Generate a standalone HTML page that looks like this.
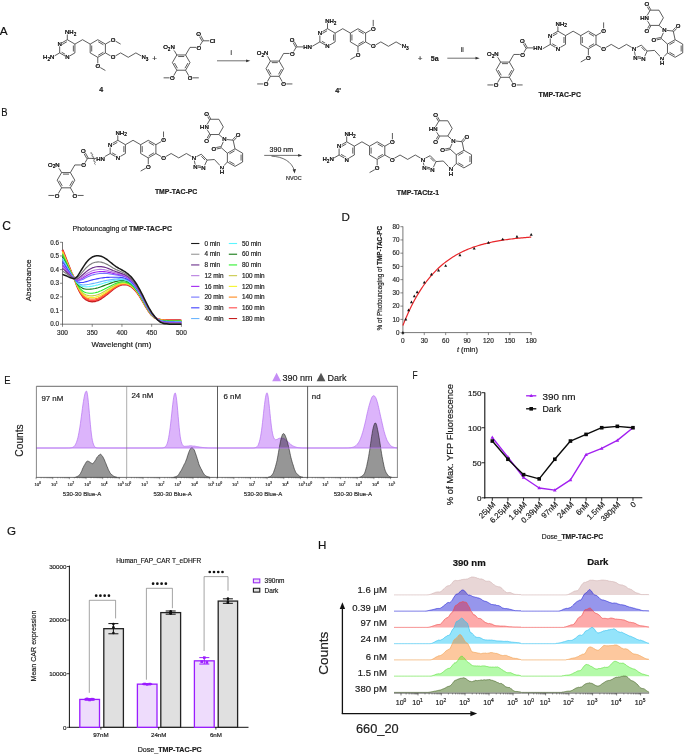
<!DOCTYPE html>
<html><head><meta charset="utf-8"><style>
html,body{margin:0;padding:0;background:#fff;}
svg text:not([stroke]){stroke:#1a1a1a;stroke-width:0.18px;}
svg{display:block;will-change:transform;font-family:"Liberation Sans", sans-serif;}
</style></head><body>
<svg width="685" height="754" viewBox="0 0 685 754">
<rect width="685" height="754" fill="#fff"/>
<text x="3.7" y="34.6" font-size="11.8" text-anchor="middle" font-weight="normal" fill="#111" >A</text>
<text x="0" y="0" font-size="11.8" text-anchor="middle" fill="#111" transform="translate(4.5,116.4) scale(0.8,1)">B</text>
<polygon points="67.3,39.7 74.92,44.1 74.92,52.9 67.3,57.3 59.68,52.9 59.68,44.1" stroke="#333" stroke-width="0.8" fill="none" />
<line x1="61.67" y1="44.74" x2="66.86" y2="41.75" stroke="#333" stroke-width="0.8" />
<line x1="73.37" y1="45.51" x2="73.37" y2="51.49" stroke="#333" stroke-width="0.8" />
<line x1="66.86" y1="55.25" x2="61.67" y2="52.26" stroke="#333" stroke-width="0.8" />
<line x1="67.3" y1="39.7" x2="67.3" y2="32.3" stroke="#333" stroke-width="0.8" />
<text x="65" y="34.3" font-size="6.0" text-anchor="start" fill="#1c1c1c" stroke="#fff" stroke-width="1.5" paint-order="stroke">NH<tspan font-size="4.7" dy="1.4">2</tspan></text>
<text x="65" y="34.3" font-size="6.0" text-anchor="start" fill="#1c1c1c">NH<tspan font-size="4.7" dy="1.4">2</tspan></text>
<text x="59.68" y="46.26" font-size="6.0" text-anchor="middle" fill="#1c1c1c" stroke="#fff" stroke-width="1.5" paint-order="stroke">N</text>
<text x="59.68" y="46.26" font-size="6.0" text-anchor="middle" fill="#1c1c1c">N</text>
<text x="67.3" y="59.46" font-size="6.0" text-anchor="middle" fill="#1c1c1c" stroke="#fff" stroke-width="1.5" paint-order="stroke">N</text>
<text x="67.3" y="59.46" font-size="6.0" text-anchor="middle" fill="#1c1c1c">N</text>
<line x1="59.68" y1="52.9" x2="52.06" y2="57.3" stroke="#333" stroke-width="0.8" />
<text x="54.36" y="59.3" font-size="6.0" text-anchor="end" fill="#1c1c1c" stroke="#fff" stroke-width="1.5" paint-order="stroke">H<tspan font-size="4.7" dy="1.4">2</tspan><tspan dy="-1.4">N</tspan></text>
<text x="54.36" y="59.3" font-size="6.0" text-anchor="end" fill="#1c1c1c">H<tspan font-size="4.7" dy="1.4">2</tspan><tspan dy="-1.4">N</tspan></text>
<line x1="74.92" y1="44.1" x2="82.54" y2="39.7" stroke="#333" stroke-width="0.8" />
<line x1="82.54" y1="39.7" x2="90.16" y2="44.1" stroke="#333" stroke-width="0.8" />
<polygon points="97.78,39.7 105.4,44.1 105.4,52.9 97.78,57.3 90.16,52.9 90.16,44.1" stroke="#333" stroke-width="0.8" fill="none" />
<line x1="91.71" y1="45.51" x2="91.71" y2="51.49" stroke="#333" stroke-width="0.8" />
<line x1="98.22" y1="41.75" x2="103.41" y2="44.74" stroke="#333" stroke-width="0.8" />
<line x1="103.41" y1="52.26" x2="98.22" y2="55.25" stroke="#333" stroke-width="0.8" />
<line x1="105.4" y1="44.1" x2="113.02" y2="39.7" stroke="#333" stroke-width="0.8" />
<line x1="113.02" y1="39.7" x2="120.64" y2="44.1" stroke="#333" stroke-width="0.8" />
<text x="113.02" y="41.86" font-size="6.0" text-anchor="middle" fill="#1c1c1c" stroke="#fff" stroke-width="1.5" paint-order="stroke">O</text>
<text x="113.02" y="41.86" font-size="6.0" text-anchor="middle" fill="#1c1c1c">O</text>
<line x1="105.4" y1="52.9" x2="113.02" y2="57.3" stroke="#333" stroke-width="0.8" />
<polyline points="113.02,57.3 120.64,52.9 128.26,57.3 135.88,52.9 143.5,57.3" stroke="#333" stroke-width="0.8" fill="none" />
<text x="113.02" y="59.46" font-size="6.0" text-anchor="middle" fill="#1c1c1c" stroke="#fff" stroke-width="1.5" paint-order="stroke">O</text>
<text x="113.02" y="59.46" font-size="6.0" text-anchor="middle" fill="#1c1c1c">O</text>
<line x1="97.78" y1="57.3" x2="97.78" y2="66.1" stroke="#333" stroke-width="0.8" />
<line x1="97.78" y1="66.1" x2="105.4" y2="70.5" stroke="#333" stroke-width="0.8" />
<text x="97.78" y="68.26" font-size="6.0" text-anchor="middle" fill="#1c1c1c" stroke="#fff" stroke-width="1.5" paint-order="stroke">O</text>
<text x="97.78" y="68.26" font-size="6.0" text-anchor="middle" fill="#1c1c1c">O</text>
<text x="141.5" y="59.3" font-size="6.0" text-anchor="start" fill="#1c1c1c" stroke="#fff" stroke-width="1.5" paint-order="stroke">N<tspan font-size="4.7" dy="1.4">3</tspan></text>
<text x="141.5" y="59.3" font-size="6.0" text-anchor="start" fill="#1c1c1c">N<tspan font-size="4.7" dy="1.4">3</tspan></text>
<text x="154.7" y="60.6" font-size="8" text-anchor="middle" font-weight="normal" fill="#333" >+</text>
<polygon points="176.8,54.98 185.6,54.98 190,62.6 185.6,70.22 176.8,70.22 172.4,62.6" stroke="#333" stroke-width="0.8" fill="none" />
<line x1="178.21" y1="56.53" x2="184.19" y2="56.53" stroke="#333" stroke-width="0.8" />
<line x1="187.95" y1="63.04" x2="184.96" y2="68.23" stroke="#333" stroke-width="0.8" />
<line x1="177.44" y1="68.23" x2="174.45" y2="63.04" stroke="#333" stroke-width="0.8" />
<line x1="176.8" y1="54.98" x2="172.4" y2="47.36" stroke="#333" stroke-width="0.8" />
<text x="174.8" y="49.36" font-size="6.0" text-anchor="end" fill="#1c1c1c" stroke="#fff" stroke-width="1.5" paint-order="stroke">O<tspan font-size="4.7" dy="1.4">2</tspan><tspan dy="-1.4">N</tspan></text>
<text x="174.8" y="49.36" font-size="6.0" text-anchor="end" fill="#1c1c1c">O<tspan font-size="4.7" dy="1.4">2</tspan><tspan dy="-1.4">N</tspan></text>
<line x1="185.6" y1="54.98" x2="190" y2="47.36" stroke="#333" stroke-width="0.8" />
<line x1="190" y1="47.36" x2="198.8" y2="47.36" stroke="#333" stroke-width="0.8" />
<line x1="198.8" y1="47.36" x2="202.8" y2="40.8" stroke="#333" stroke-width="0.8" />
<line x1="203.45" y1="40.43" x2="199.25" y2="33.03" stroke="#333" stroke-width="0.8" />
<line x1="202.15" y1="41.17" x2="197.95" y2="33.77" stroke="#333" stroke-width="0.8" />
<text x="198.6" y="35.56" font-size="6.0" text-anchor="middle" fill="#1c1c1c" stroke="#fff" stroke-width="1.5" paint-order="stroke">O</text>
<text x="198.6" y="35.56" font-size="6.0" text-anchor="middle" fill="#1c1c1c">O</text>
<text x="198.8" y="49.52" font-size="6.0" text-anchor="middle" fill="#1c1c1c" stroke="#fff" stroke-width="1.5" paint-order="stroke">O</text>
<text x="198.8" y="49.52" font-size="6.0" text-anchor="middle" fill="#1c1c1c">O</text>
<line x1="202.8" y1="40.8" x2="211.6" y2="40.8" stroke="#333" stroke-width="0.8" />
<text x="212.6" y="42.96" font-size="6.0" text-anchor="middle" fill="#1c1c1c" stroke="#fff" stroke-width="1.5" paint-order="stroke">Cl</text>
<text x="212.6" y="42.96" font-size="6.0" text-anchor="middle" fill="#1c1c1c">Cl</text>
<line x1="176.8" y1="70.22" x2="172.4" y2="77.84" stroke="#333" stroke-width="0.8" />
<line x1="172.4" y1="77.84" x2="163.6" y2="77.84" stroke="#333" stroke-width="0.8" />
<text x="172.4" y="80" font-size="6.0" text-anchor="middle" fill="#1c1c1c" stroke="#fff" stroke-width="1.5" paint-order="stroke">O</text>
<text x="172.4" y="80" font-size="6.0" text-anchor="middle" fill="#1c1c1c">O</text>
<line x1="185.6" y1="70.22" x2="190" y2="77.84" stroke="#333" stroke-width="0.8" />
<line x1="190" y1="77.84" x2="198.8" y2="77.84" stroke="#333" stroke-width="0.8" />
<text x="190" y="80" font-size="6.0" text-anchor="middle" fill="#1c1c1c" stroke="#fff" stroke-width="1.5" paint-order="stroke">O</text>
<text x="190" y="80" font-size="6.0" text-anchor="middle" fill="#1c1c1c">O</text>
<line x1="217" y1="60.8" x2="247.3" y2="60.8" stroke="#333" stroke-width="0.7" />
<polygon points="250.3,60.8 246.1,59.4 246.1,62.2" fill="#333"/>
<text x="231.2" y="55" font-size="6.5" text-anchor="middle" font-weight="normal" fill="#333" >i</text>
<polygon points="327.5,28.7 335.12,33.1 335.12,41.9 327.5,46.3 319.88,41.9 319.88,33.1" stroke="#333" stroke-width="0.8" fill="none" />
<line x1="321.87" y1="33.74" x2="327.06" y2="30.75" stroke="#333" stroke-width="0.8" />
<line x1="333.57" y1="34.51" x2="333.57" y2="40.49" stroke="#333" stroke-width="0.8" />
<line x1="327.06" y1="44.25" x2="321.87" y2="41.26" stroke="#333" stroke-width="0.8" />
<line x1="327.5" y1="28.7" x2="327.5" y2="21.3" stroke="#333" stroke-width="0.8" />
<text x="325.2" y="23.3" font-size="6.0" text-anchor="start" fill="#1c1c1c" stroke="#fff" stroke-width="1.5" paint-order="stroke">NH<tspan font-size="4.7" dy="1.4">2</tspan></text>
<text x="325.2" y="23.3" font-size="6.0" text-anchor="start" fill="#1c1c1c">NH<tspan font-size="4.7" dy="1.4">2</tspan></text>
<text x="319.88" y="35.26" font-size="6.0" text-anchor="middle" fill="#1c1c1c" stroke="#fff" stroke-width="1.5" paint-order="stroke">N</text>
<text x="319.88" y="35.26" font-size="6.0" text-anchor="middle" fill="#1c1c1c">N</text>
<text x="327.5" y="48.46" font-size="6.0" text-anchor="middle" fill="#1c1c1c" stroke="#fff" stroke-width="1.5" paint-order="stroke">N</text>
<text x="327.5" y="48.46" font-size="6.0" text-anchor="middle" fill="#1c1c1c">N</text>
<line x1="319.88" y1="41.9" x2="312.26" y2="46.3" stroke="#333" stroke-width="0.8" />
<line x1="335.12" y1="33.1" x2="342.74" y2="28.7" stroke="#333" stroke-width="0.8" />
<line x1="342.74" y1="28.7" x2="350.36" y2="33.1" stroke="#333" stroke-width="0.8" />
<polygon points="357.98,28.7 365.6,33.1 365.6,41.9 357.98,46.3 350.36,41.9 350.36,33.1" stroke="#333" stroke-width="0.8" fill="none" />
<line x1="351.91" y1="34.51" x2="351.91" y2="40.49" stroke="#333" stroke-width="0.8" />
<line x1="358.42" y1="30.75" x2="363.61" y2="33.74" stroke="#333" stroke-width="0.8" />
<line x1="363.61" y1="41.26" x2="358.42" y2="44.25" stroke="#333" stroke-width="0.8" />
<line x1="365.6" y1="33.1" x2="373.22" y2="28.7" stroke="#333" stroke-width="0.8" />
<line x1="373.22" y1="28.7" x2="373.22" y2="19.9" stroke="#333" stroke-width="0.8" />
<text x="373.22" y="30.86" font-size="6.0" text-anchor="middle" fill="#1c1c1c" stroke="#fff" stroke-width="1.5" paint-order="stroke">O</text>
<text x="373.22" y="30.86" font-size="6.0" text-anchor="middle" fill="#1c1c1c">O</text>
<line x1="365.6" y1="41.9" x2="373.22" y2="46.3" stroke="#333" stroke-width="0.8" />
<polyline points="373.22,46.3 380.84,41.9 388.46,46.3 396.08,41.9 403.7,46.3" stroke="#333" stroke-width="0.8" fill="none" />
<text x="373.22" y="48.46" font-size="6.0" text-anchor="middle" fill="#1c1c1c" stroke="#fff" stroke-width="1.5" paint-order="stroke">O</text>
<text x="373.22" y="48.46" font-size="6.0" text-anchor="middle" fill="#1c1c1c">O</text>
<line x1="357.98" y1="46.3" x2="357.98" y2="55.1" stroke="#333" stroke-width="0.8" />
<line x1="357.98" y1="55.1" x2="350.36" y2="59.5" stroke="#333" stroke-width="0.8" />
<text x="357.98" y="57.26" font-size="6.0" text-anchor="middle" fill="#1c1c1c" stroke="#fff" stroke-width="1.5" paint-order="stroke">O</text>
<text x="357.98" y="57.26" font-size="6.0" text-anchor="middle" fill="#1c1c1c">O</text>
<text x="401.7" y="48.3" font-size="6.0" text-anchor="start" fill="#1c1c1c" stroke="#fff" stroke-width="1.5" paint-order="stroke">N<tspan font-size="4.7" dy="1.4">3</tspan></text>
<text x="401.7" y="48.3" font-size="6.0" text-anchor="start" fill="#1c1c1c">N<tspan font-size="4.7" dy="1.4">3</tspan></text>
<polygon points="270.4,61.08 279.2,61.08 283.6,68.7 279.2,76.32 270.4,76.32 266,68.7" stroke="#333" stroke-width="0.8" fill="none" />
<line x1="271.81" y1="62.63" x2="277.79" y2="62.63" stroke="#333" stroke-width="0.8" />
<line x1="281.55" y1="69.14" x2="278.56" y2="74.33" stroke="#333" stroke-width="0.8" />
<line x1="271.04" y1="74.33" x2="268.05" y2="69.14" stroke="#333" stroke-width="0.8" />
<line x1="270.4" y1="61.08" x2="266" y2="53.46" stroke="#333" stroke-width="0.8" />
<text x="268.4" y="55.46" font-size="6.0" text-anchor="end" fill="#1c1c1c" stroke="#fff" stroke-width="1.5" paint-order="stroke">O<tspan font-size="4.7" dy="1.4">2</tspan><tspan dy="-1.4">N</tspan></text>
<text x="268.4" y="55.46" font-size="6.0" text-anchor="end" fill="#1c1c1c">O<tspan font-size="4.7" dy="1.4">2</tspan><tspan dy="-1.4">N</tspan></text>
<line x1="279.2" y1="61.08" x2="283.6" y2="53.46" stroke="#333" stroke-width="0.8" />
<line x1="283.6" y1="53.46" x2="292.4" y2="53.46" stroke="#333" stroke-width="0.8" />
<line x1="292.4" y1="53.46" x2="296.4" y2="46.9" stroke="#333" stroke-width="0.8" />
<line x1="297.05" y1="46.53" x2="292.85" y2="39.13" stroke="#333" stroke-width="0.8" />
<line x1="295.75" y1="47.27" x2="291.55" y2="39.87" stroke="#333" stroke-width="0.8" />
<text x="292.2" y="41.66" font-size="6.0" text-anchor="middle" fill="#1c1c1c" stroke="#fff" stroke-width="1.5" paint-order="stroke">O</text>
<text x="292.2" y="41.66" font-size="6.0" text-anchor="middle" fill="#1c1c1c">O</text>
<text x="292.4" y="55.62" font-size="6.0" text-anchor="middle" fill="#1c1c1c" stroke="#fff" stroke-width="1.5" paint-order="stroke">O</text>
<text x="292.4" y="55.62" font-size="6.0" text-anchor="middle" fill="#1c1c1c">O</text>
<line x1="296.4" y1="46.9" x2="305.2" y2="46.9" stroke="#333" stroke-width="0.8" />
<text x="307.5" y="49.06" font-size="6.0" text-anchor="middle" fill="#1c1c1c" stroke="#fff" stroke-width="1.5" paint-order="stroke">HN</text>
<text x="307.5" y="49.06" font-size="6.0" text-anchor="middle" fill="#1c1c1c">HN</text>
<line x1="270.4" y1="76.32" x2="266" y2="83.94" stroke="#333" stroke-width="0.8" />
<line x1="266" y1="83.94" x2="257.2" y2="83.94" stroke="#333" stroke-width="0.8" />
<text x="266" y="86.1" font-size="6.0" text-anchor="middle" fill="#1c1c1c" stroke="#fff" stroke-width="1.5" paint-order="stroke">O</text>
<text x="266" y="86.1" font-size="6.0" text-anchor="middle" fill="#1c1c1c">O</text>
<line x1="279.2" y1="76.32" x2="283.6" y2="83.94" stroke="#333" stroke-width="0.8" />
<line x1="283.6" y1="83.94" x2="292.4" y2="83.94" stroke="#333" stroke-width="0.8" />
<text x="283.6" y="86.1" font-size="6.0" text-anchor="middle" fill="#1c1c1c" stroke="#fff" stroke-width="1.5" paint-order="stroke">O</text>
<text x="283.6" y="86.1" font-size="6.0" text-anchor="middle" fill="#1c1c1c">O</text>
<text x="338" y="93.4" font-size="7.2" text-anchor="middle" font-weight="bold" fill="#222" >4'</text>
<text x="101.3" y="91.6" font-size="7" text-anchor="middle" font-weight="bold" fill="#222" >4</text>
<text x="420.1" y="61" font-size="8" text-anchor="middle" font-weight="normal" fill="#333" >+</text>
<text x="434.7" y="60.6" font-size="7" text-anchor="middle" font-weight="bold" fill="#222" >5a</text>
<line x1="447.3" y1="58.2" x2="476.7" y2="58.2" stroke="#333" stroke-width="0.7" />
<polygon points="479.7,58.2 475.5,56.8 475.5,59.6" fill="#333"/>
<text x="462.2" y="52" font-size="6.5" text-anchor="middle" font-weight="normal" fill="#333" >ii</text>
<polygon points="557.9,31.2 565.52,35.6 565.52,44.4 557.9,48.8 550.28,44.4 550.28,35.6" stroke="#333" stroke-width="0.8" fill="none" />
<line x1="552.27" y1="36.24" x2="557.46" y2="33.25" stroke="#333" stroke-width="0.8" />
<line x1="563.97" y1="37.01" x2="563.97" y2="42.99" stroke="#333" stroke-width="0.8" />
<line x1="557.46" y1="46.75" x2="552.27" y2="43.76" stroke="#333" stroke-width="0.8" />
<line x1="557.9" y1="31.2" x2="557.9" y2="23.8" stroke="#333" stroke-width="0.8" />
<text x="555.6" y="25.8" font-size="6.0" text-anchor="start" fill="#1c1c1c" stroke="#fff" stroke-width="1.5" paint-order="stroke">NH<tspan font-size="4.7" dy="1.4">2</tspan></text>
<text x="555.6" y="25.8" font-size="6.0" text-anchor="start" fill="#1c1c1c">NH<tspan font-size="4.7" dy="1.4">2</tspan></text>
<text x="550.28" y="37.76" font-size="6.0" text-anchor="middle" fill="#1c1c1c" stroke="#fff" stroke-width="1.5" paint-order="stroke">N</text>
<text x="550.28" y="37.76" font-size="6.0" text-anchor="middle" fill="#1c1c1c">N</text>
<text x="557.9" y="50.96" font-size="6.0" text-anchor="middle" fill="#1c1c1c" stroke="#fff" stroke-width="1.5" paint-order="stroke">N</text>
<text x="557.9" y="50.96" font-size="6.0" text-anchor="middle" fill="#1c1c1c">N</text>
<line x1="550.28" y1="44.4" x2="542.66" y2="48.8" stroke="#333" stroke-width="0.8" />
<line x1="565.52" y1="35.6" x2="573.14" y2="31.2" stroke="#333" stroke-width="0.8" />
<line x1="573.14" y1="31.2" x2="580.76" y2="35.6" stroke="#333" stroke-width="0.8" />
<polygon points="588.38,31.2 596,35.6 596,44.4 588.38,48.8 580.76,44.4 580.76,35.6" stroke="#333" stroke-width="0.8" fill="none" />
<line x1="582.31" y1="37.01" x2="582.31" y2="42.99" stroke="#333" stroke-width="0.8" />
<line x1="588.82" y1="33.25" x2="594.01" y2="36.24" stroke="#333" stroke-width="0.8" />
<line x1="594.01" y1="43.76" x2="588.82" y2="46.75" stroke="#333" stroke-width="0.8" />
<line x1="596" y1="35.6" x2="603.62" y2="31.2" stroke="#333" stroke-width="0.8" />
<line x1="603.62" y1="31.2" x2="603.62" y2="22.4" stroke="#333" stroke-width="0.8" />
<text x="603.62" y="33.36" font-size="6.0" text-anchor="middle" fill="#1c1c1c" stroke="#fff" stroke-width="1.5" paint-order="stroke">O</text>
<text x="603.62" y="33.36" font-size="6.0" text-anchor="middle" fill="#1c1c1c">O</text>
<line x1="596" y1="44.4" x2="603.62" y2="48.8" stroke="#333" stroke-width="0.8" />
<polyline points="603.62,48.8 611.24,44.4 618.86,48.8 626.48,44.4 634.1,48.8" stroke="#333" stroke-width="0.8" fill="none" />
<text x="603.62" y="50.96" font-size="6.0" text-anchor="middle" fill="#1c1c1c" stroke="#fff" stroke-width="1.5" paint-order="stroke">O</text>
<text x="603.62" y="50.96" font-size="6.0" text-anchor="middle" fill="#1c1c1c">O</text>
<line x1="588.38" y1="48.8" x2="588.38" y2="57.6" stroke="#333" stroke-width="0.8" />
<line x1="588.38" y1="57.6" x2="580.76" y2="62" stroke="#333" stroke-width="0.8" />
<text x="588.38" y="59.76" font-size="6.0" text-anchor="middle" fill="#1c1c1c" stroke="#fff" stroke-width="1.5" paint-order="stroke">O</text>
<text x="588.38" y="59.76" font-size="6.0" text-anchor="middle" fill="#1c1c1c">O</text>
<polygon points="500.6,62.08 509.4,62.08 513.8,69.7 509.4,77.32 500.6,77.32 496.2,69.7" stroke="#333" stroke-width="0.8" fill="none" />
<line x1="502.01" y1="63.63" x2="507.99" y2="63.63" stroke="#333" stroke-width="0.8" />
<line x1="511.75" y1="70.14" x2="508.76" y2="75.33" stroke="#333" stroke-width="0.8" />
<line x1="501.24" y1="75.33" x2="498.25" y2="70.14" stroke="#333" stroke-width="0.8" />
<line x1="500.6" y1="62.08" x2="496.2" y2="54.46" stroke="#333" stroke-width="0.8" />
<text x="498.6" y="56.46" font-size="6.0" text-anchor="end" fill="#1c1c1c" stroke="#fff" stroke-width="1.5" paint-order="stroke">O<tspan font-size="4.7" dy="1.4">2</tspan><tspan dy="-1.4">N</tspan></text>
<text x="498.6" y="56.46" font-size="6.0" text-anchor="end" fill="#1c1c1c">O<tspan font-size="4.7" dy="1.4">2</tspan><tspan dy="-1.4">N</tspan></text>
<line x1="509.4" y1="62.08" x2="513.8" y2="54.46" stroke="#333" stroke-width="0.8" />
<line x1="513.8" y1="54.46" x2="522.6" y2="54.46" stroke="#333" stroke-width="0.8" />
<line x1="522.6" y1="54.46" x2="526.6" y2="47.9" stroke="#333" stroke-width="0.8" />
<line x1="527.25" y1="47.53" x2="523.05" y2="40.13" stroke="#333" stroke-width="0.8" />
<line x1="525.95" y1="48.27" x2="521.75" y2="40.87" stroke="#333" stroke-width="0.8" />
<text x="522.4" y="42.66" font-size="6.0" text-anchor="middle" fill="#1c1c1c" stroke="#fff" stroke-width="1.5" paint-order="stroke">O</text>
<text x="522.4" y="42.66" font-size="6.0" text-anchor="middle" fill="#1c1c1c">O</text>
<text x="522.6" y="56.62" font-size="6.0" text-anchor="middle" fill="#1c1c1c" stroke="#fff" stroke-width="1.5" paint-order="stroke">O</text>
<text x="522.6" y="56.62" font-size="6.0" text-anchor="middle" fill="#1c1c1c">O</text>
<line x1="526.6" y1="47.9" x2="535.4" y2="47.9" stroke="#333" stroke-width="0.8" />
<text x="537.7" y="50.06" font-size="6.0" text-anchor="middle" fill="#1c1c1c" stroke="#fff" stroke-width="1.5" paint-order="stroke">HN</text>
<text x="537.7" y="50.06" font-size="6.0" text-anchor="middle" fill="#1c1c1c">HN</text>
<line x1="500.6" y1="77.32" x2="496.2" y2="84.94" stroke="#333" stroke-width="0.8" />
<line x1="496.2" y1="84.94" x2="487.4" y2="84.94" stroke="#333" stroke-width="0.8" />
<text x="496.2" y="87.1" font-size="6.0" text-anchor="middle" fill="#1c1c1c" stroke="#fff" stroke-width="1.5" paint-order="stroke">O</text>
<text x="496.2" y="87.1" font-size="6.0" text-anchor="middle" fill="#1c1c1c">O</text>
<line x1="509.4" y1="77.32" x2="513.8" y2="84.94" stroke="#333" stroke-width="0.8" />
<line x1="513.8" y1="84.94" x2="522.6" y2="84.94" stroke="#333" stroke-width="0.8" />
<text x="513.8" y="87.1" font-size="6.0" text-anchor="middle" fill="#1c1c1c" stroke="#fff" stroke-width="1.5" paint-order="stroke">O</text>
<text x="513.8" y="87.1" font-size="6.0" text-anchor="middle" fill="#1c1c1c">O</text>
<polygon points="634.1,48.8 641.4,45.1 647.2,51 643.5,59 635.5,57.5" stroke="#333" stroke-width="0.8" fill="none" />
<line x1="641.49" y1="47.18" x2="645.2" y2="50.96" stroke="#333" stroke-width="0.8" />
<line x1="642.26" y1="57.34" x2="637.14" y2="56.38" stroke="#333" stroke-width="0.8" />
<line x1="647.2" y1="51" x2="654.5" y2="50.4" stroke="#333" stroke-width="0.8" />
<line x1="654.5" y1="50.4" x2="662.1" y2="58.6" stroke="#333" stroke-width="0.8" />
<line x1="662.1" y1="58.6" x2="667.48" y2="52.9" stroke="#333" stroke-width="0.8" />
<polygon points="675.1,39.7 682.72,44.1 682.72,52.9 675.1,57.3 667.48,52.9 667.48,44.1" stroke="#333" stroke-width="0.8" fill="none" />
<line x1="669.47" y1="44.74" x2="674.66" y2="41.75" stroke="#333" stroke-width="0.8" />
<line x1="681.17" y1="45.51" x2="681.17" y2="51.49" stroke="#333" stroke-width="0.8" />
<line x1="674.66" y1="55.25" x2="669.47" y2="52.26" stroke="#333" stroke-width="0.8" />
<polyline points="675.1,39.7 673.27,31.09 664.52,30.17 660.94,38.21 667.48,44.1" stroke="#333" stroke-width="0.8" fill="none" />
<line x1="673.83" y1="31.59" x2="678.65" y2="26.24" stroke="#333" stroke-width="0.8" />
<line x1="672.71" y1="30.59" x2="677.53" y2="25.24" stroke="#333" stroke-width="0.8" />
<text x="678.09" y="27.9" font-size="6.0" text-anchor="middle" fill="#1c1c1c" stroke="#fff" stroke-width="1.5" paint-order="stroke">O</text>
<text x="678.09" y="27.9" font-size="6.0" text-anchor="middle" fill="#1c1c1c">O</text>
<line x1="660.78" y1="37.48" x2="653.74" y2="38.98" stroke="#333" stroke-width="0.8" />
<line x1="661.1" y1="38.95" x2="654.05" y2="40.44" stroke="#333" stroke-width="0.8" />
<text x="653.9" y="41.87" font-size="6.0" text-anchor="middle" fill="#1c1c1c" stroke="#fff" stroke-width="1.5" paint-order="stroke">O</text>
<text x="653.9" y="41.87" font-size="6.0" text-anchor="middle" fill="#1c1c1c">O</text>
<polygon points="650.2,10.18 659,10.18 663.4,17.8 659,25.42 650.2,25.42 645.8,17.8" stroke="#333" stroke-width="0.8" fill="none" />
<line x1="659" y1="25.42" x2="664.52" y2="30.17" stroke="#333" stroke-width="0.8" />
<line x1="649.55" y1="25.05" x2="646.15" y2="30.93" stroke="#333" stroke-width="0.8" />
<line x1="650.85" y1="25.8" x2="647.45" y2="31.68" stroke="#333" stroke-width="0.8" />
<text x="646.8" y="33.47" font-size="6.0" text-anchor="middle" fill="#1c1c1c" stroke="#fff" stroke-width="1.5" paint-order="stroke">O</text>
<text x="646.8" y="33.47" font-size="6.0" text-anchor="middle" fill="#1c1c1c">O</text>
<line x1="650.85" y1="9.8" x2="647.45" y2="3.92" stroke="#333" stroke-width="0.8" />
<line x1="649.55" y1="10.55" x2="646.15" y2="4.67" stroke="#333" stroke-width="0.8" />
<text x="646.8" y="6.45" font-size="6.0" text-anchor="middle" fill="#1c1c1c" stroke="#fff" stroke-width="1.5" paint-order="stroke">O</text>
<text x="646.8" y="6.45" font-size="6.0" text-anchor="middle" fill="#1c1c1c">O</text>
<text x="644.5" y="19.96" font-size="6.0" text-anchor="middle" fill="#1c1c1c" stroke="#fff" stroke-width="1.5" paint-order="stroke">HN</text>
<text x="644.5" y="19.96" font-size="6.0" text-anchor="middle" fill="#1c1c1c">HN</text>
<text x="664.52" y="32.33" font-size="6.0" text-anchor="middle" fill="#1c1c1c" stroke="#fff" stroke-width="1.5" paint-order="stroke">N</text>
<text x="664.52" y="32.33" font-size="6.0" text-anchor="middle" fill="#1c1c1c">N</text>
<text x="634.1" y="50.96" font-size="6.0" text-anchor="middle" fill="#1c1c1c" stroke="#fff" stroke-width="1.5" paint-order="stroke">N</text>
<text x="634.1" y="50.96" font-size="6.0" text-anchor="middle" fill="#1c1c1c">N</text>
<text x="635.5" y="59.66" font-size="6.0" text-anchor="middle" fill="#1c1c1c" stroke="#fff" stroke-width="1.5" paint-order="stroke">N</text>
<text x="635.5" y="59.66" font-size="6.0" text-anchor="middle" fill="#1c1c1c">N</text>
<text x="643.5" y="61.16" font-size="6.0" text-anchor="middle" fill="#1c1c1c" stroke="#fff" stroke-width="1.5" paint-order="stroke">N</text>
<text x="643.5" y="61.16" font-size="6.0" text-anchor="middle" fill="#1c1c1c">N</text>
<text x="662.1" y="60.76" font-size="6.0" text-anchor="middle" fill="#1c1c1c" stroke="#fff" stroke-width="1.5" paint-order="stroke">N</text>
<text x="662.1" y="60.76" font-size="6.0" text-anchor="middle" fill="#1c1c1c">N</text>
<text x="662.1" y="65.36" font-size="6.0" text-anchor="middle" fill="#1c1c1c" stroke="#fff" stroke-width="1.5" paint-order="stroke">H</text>
<text x="662.1" y="65.36" font-size="6.0" text-anchor="middle" fill="#1c1c1c">H</text>
<text x="559.7" y="97" font-size="6.9" text-anchor="middle" font-weight="bold" fill="#222" >TMP-TAC-PC</text>
<polygon points="117.8,140.3 125.42,144.7 125.42,153.5 117.8,157.9 110.18,153.5 110.18,144.7" stroke="#333" stroke-width="0.8" fill="none" />
<line x1="112.17" y1="145.34" x2="117.36" y2="142.35" stroke="#333" stroke-width="0.8" />
<line x1="123.87" y1="146.11" x2="123.87" y2="152.09" stroke="#333" stroke-width="0.8" />
<line x1="117.36" y1="155.85" x2="112.17" y2="152.86" stroke="#333" stroke-width="0.8" />
<line x1="117.8" y1="140.3" x2="117.8" y2="132.9" stroke="#333" stroke-width="0.8" />
<text x="115.5" y="134.9" font-size="6.0" text-anchor="start" fill="#1c1c1c" stroke="#fff" stroke-width="1.5" paint-order="stroke">NH<tspan font-size="4.7" dy="1.4">2</tspan></text>
<text x="115.5" y="134.9" font-size="6.0" text-anchor="start" fill="#1c1c1c">NH<tspan font-size="4.7" dy="1.4">2</tspan></text>
<text x="110.18" y="146.86" font-size="6.0" text-anchor="middle" fill="#1c1c1c" stroke="#fff" stroke-width="1.5" paint-order="stroke">N</text>
<text x="110.18" y="146.86" font-size="6.0" text-anchor="middle" fill="#1c1c1c">N</text>
<text x="117.8" y="160.06" font-size="6.0" text-anchor="middle" fill="#1c1c1c" stroke="#fff" stroke-width="1.5" paint-order="stroke">N</text>
<text x="117.8" y="160.06" font-size="6.0" text-anchor="middle" fill="#1c1c1c">N</text>
<line x1="110.18" y1="153.5" x2="102.56" y2="157.9" stroke="#333" stroke-width="0.8" />
<line x1="125.42" y1="144.7" x2="133.04" y2="140.3" stroke="#333" stroke-width="0.8" />
<line x1="133.04" y1="140.3" x2="140.66" y2="144.7" stroke="#333" stroke-width="0.8" />
<polygon points="148.28,140.3 155.9,144.7 155.9,153.5 148.28,157.9 140.66,153.5 140.66,144.7" stroke="#333" stroke-width="0.8" fill="none" />
<line x1="142.21" y1="146.11" x2="142.21" y2="152.09" stroke="#333" stroke-width="0.8" />
<line x1="148.72" y1="142.35" x2="153.91" y2="145.34" stroke="#333" stroke-width="0.8" />
<line x1="153.91" y1="152.86" x2="148.72" y2="155.85" stroke="#333" stroke-width="0.8" />
<line x1="155.9" y1="144.7" x2="163.52" y2="140.3" stroke="#333" stroke-width="0.8" />
<line x1="163.52" y1="140.3" x2="163.52" y2="131.5" stroke="#333" stroke-width="0.8" />
<text x="163.52" y="142.46" font-size="6.0" text-anchor="middle" fill="#1c1c1c" stroke="#fff" stroke-width="1.5" paint-order="stroke">O</text>
<text x="163.52" y="142.46" font-size="6.0" text-anchor="middle" fill="#1c1c1c">O</text>
<line x1="155.9" y1="153.5" x2="163.52" y2="157.9" stroke="#333" stroke-width="0.8" />
<polyline points="163.52,157.9 171.14,153.5 178.76,157.9 186.38,153.5 194,157.9" stroke="#333" stroke-width="0.8" fill="none" />
<text x="163.52" y="160.06" font-size="6.0" text-anchor="middle" fill="#1c1c1c" stroke="#fff" stroke-width="1.5" paint-order="stroke">O</text>
<text x="163.52" y="160.06" font-size="6.0" text-anchor="middle" fill="#1c1c1c">O</text>
<line x1="148.28" y1="157.9" x2="148.28" y2="166.7" stroke="#333" stroke-width="0.8" />
<line x1="148.28" y1="166.7" x2="140.66" y2="171.1" stroke="#333" stroke-width="0.8" />
<text x="148.28" y="168.86" font-size="6.0" text-anchor="middle" fill="#1c1c1c" stroke="#fff" stroke-width="1.5" paint-order="stroke">O</text>
<text x="148.28" y="168.86" font-size="6.0" text-anchor="middle" fill="#1c1c1c">O</text>
<polygon points="61.6,172.58 70.4,172.58 74.8,180.2 70.4,187.82 61.6,187.82 57.2,180.2" stroke="#333" stroke-width="0.8" fill="none" />
<line x1="63.01" y1="174.13" x2="68.99" y2="174.13" stroke="#333" stroke-width="0.8" />
<line x1="72.75" y1="180.64" x2="69.76" y2="185.83" stroke="#333" stroke-width="0.8" />
<line x1="62.24" y1="185.83" x2="59.25" y2="180.64" stroke="#333" stroke-width="0.8" />
<line x1="61.6" y1="172.58" x2="57.2" y2="164.96" stroke="#333" stroke-width="0.8" />
<text x="59.6" y="166.96" font-size="6.0" text-anchor="end" fill="#1c1c1c" stroke="#fff" stroke-width="1.5" paint-order="stroke">O<tspan font-size="4.7" dy="1.4">2</tspan><tspan dy="-1.4">N</tspan></text>
<text x="59.6" y="166.96" font-size="6.0" text-anchor="end" fill="#1c1c1c">O<tspan font-size="4.7" dy="1.4">2</tspan><tspan dy="-1.4">N</tspan></text>
<line x1="70.4" y1="172.58" x2="74.8" y2="164.96" stroke="#333" stroke-width="0.8" />
<line x1="74.8" y1="164.96" x2="83.6" y2="164.96" stroke="#333" stroke-width="0.8" />
<line x1="83.6" y1="164.96" x2="87.6" y2="158.4" stroke="#333" stroke-width="0.8" />
<line x1="88.25" y1="158.03" x2="84.05" y2="150.63" stroke="#333" stroke-width="0.8" />
<line x1="86.95" y1="158.77" x2="82.75" y2="151.37" stroke="#333" stroke-width="0.8" />
<text x="83.4" y="153.16" font-size="6.0" text-anchor="middle" fill="#1c1c1c" stroke="#fff" stroke-width="1.5" paint-order="stroke">O</text>
<text x="83.4" y="153.16" font-size="6.0" text-anchor="middle" fill="#1c1c1c">O</text>
<text x="83.6" y="167.12" font-size="6.0" text-anchor="middle" fill="#1c1c1c" stroke="#fff" stroke-width="1.5" paint-order="stroke">O</text>
<text x="83.6" y="167.12" font-size="6.0" text-anchor="middle" fill="#1c1c1c">O</text>
<line x1="87.6" y1="158.4" x2="96.4" y2="158.4" stroke="#333" stroke-width="0.8" />
<polyline points="91.2,152 90.93,153.52 92.79,154.29 91.81,156.06 93.67,156.83 92.69,158.6 94.55,159.37 93.57,161.14 95.43,161.91 94.45,163.68 95.6,164.7" stroke="#333" stroke-width="0.6" fill="none" />
<text x="100.5" y="160.86" font-size="6.0" text-anchor="middle" fill="#1c1c1c" stroke="#fff" stroke-width="1.5" paint-order="stroke">HN</text>
<text x="100.5" y="160.86" font-size="6.0" text-anchor="middle" fill="#1c1c1c">HN</text>
<line x1="61.6" y1="187.82" x2="57.2" y2="195.44" stroke="#333" stroke-width="0.8" />
<line x1="57.2" y1="195.44" x2="48.4" y2="195.44" stroke="#333" stroke-width="0.8" />
<text x="57.2" y="197.6" font-size="6.0" text-anchor="middle" fill="#1c1c1c" stroke="#fff" stroke-width="1.5" paint-order="stroke">O</text>
<text x="57.2" y="197.6" font-size="6.0" text-anchor="middle" fill="#1c1c1c">O</text>
<line x1="70.4" y1="187.82" x2="74.8" y2="195.44" stroke="#333" stroke-width="0.8" />
<line x1="74.8" y1="195.44" x2="83.6" y2="195.44" stroke="#333" stroke-width="0.8" />
<text x="74.8" y="197.6" font-size="6.0" text-anchor="middle" fill="#1c1c1c" stroke="#fff" stroke-width="1.5" paint-order="stroke">O</text>
<text x="74.8" y="197.6" font-size="6.0" text-anchor="middle" fill="#1c1c1c">O</text>
<polygon points="194,157.9 201.3,154.2 207.1,160.1 203.4,168.1 195.4,166.6" stroke="#333" stroke-width="0.8" fill="none" />
<line x1="201.39" y1="156.28" x2="205.1" y2="160.06" stroke="#333" stroke-width="0.8" />
<line x1="202.16" y1="166.44" x2="197.04" y2="165.48" stroke="#333" stroke-width="0.8" />
<line x1="207.1" y1="160.1" x2="214.4" y2="159.5" stroke="#333" stroke-width="0.8" />
<line x1="214.4" y1="159.5" x2="222" y2="167.7" stroke="#333" stroke-width="0.8" />
<line x1="222" y1="167.7" x2="227.38" y2="162" stroke="#333" stroke-width="0.8" />
<polygon points="235,148.8 242.62,153.2 242.62,162 235,166.4 227.38,162 227.38,153.2" stroke="#333" stroke-width="0.8" fill="none" />
<line x1="229.37" y1="153.84" x2="234.56" y2="150.85" stroke="#333" stroke-width="0.8" />
<line x1="241.07" y1="154.61" x2="241.07" y2="160.59" stroke="#333" stroke-width="0.8" />
<line x1="234.56" y1="164.35" x2="229.37" y2="161.36" stroke="#333" stroke-width="0.8" />
<polyline points="235,148.8 233.17,140.19 224.42,139.27 220.84,147.31 227.38,153.2" stroke="#333" stroke-width="0.8" fill="none" />
<line x1="233.73" y1="140.69" x2="238.55" y2="135.34" stroke="#333" stroke-width="0.8" />
<line x1="232.61" y1="139.69" x2="237.43" y2="134.34" stroke="#333" stroke-width="0.8" />
<text x="237.99" y="137" font-size="6.0" text-anchor="middle" fill="#1c1c1c" stroke="#fff" stroke-width="1.5" paint-order="stroke">O</text>
<text x="237.99" y="137" font-size="6.0" text-anchor="middle" fill="#1c1c1c">O</text>
<line x1="220.68" y1="146.58" x2="213.64" y2="148.08" stroke="#333" stroke-width="0.8" />
<line x1="221" y1="148.05" x2="213.95" y2="149.54" stroke="#333" stroke-width="0.8" />
<text x="213.8" y="150.97" font-size="6.0" text-anchor="middle" fill="#1c1c1c" stroke="#fff" stroke-width="1.5" paint-order="stroke">O</text>
<text x="213.8" y="150.97" font-size="6.0" text-anchor="middle" fill="#1c1c1c">O</text>
<polygon points="210.1,119.28 218.9,119.28 223.3,126.9 218.9,134.52 210.1,134.52 205.7,126.9" stroke="#333" stroke-width="0.8" fill="none" />
<line x1="218.9" y1="134.52" x2="224.42" y2="139.27" stroke="#333" stroke-width="0.8" />
<line x1="209.45" y1="134.15" x2="206.05" y2="140.03" stroke="#333" stroke-width="0.8" />
<line x1="210.75" y1="134.9" x2="207.35" y2="140.78" stroke="#333" stroke-width="0.8" />
<text x="206.7" y="142.57" font-size="6.0" text-anchor="middle" fill="#1c1c1c" stroke="#fff" stroke-width="1.5" paint-order="stroke">O</text>
<text x="206.7" y="142.57" font-size="6.0" text-anchor="middle" fill="#1c1c1c">O</text>
<line x1="210.75" y1="118.9" x2="207.35" y2="113.02" stroke="#333" stroke-width="0.8" />
<line x1="209.45" y1="119.65" x2="206.05" y2="113.77" stroke="#333" stroke-width="0.8" />
<text x="206.7" y="115.55" font-size="6.0" text-anchor="middle" fill="#1c1c1c" stroke="#fff" stroke-width="1.5" paint-order="stroke">O</text>
<text x="206.7" y="115.55" font-size="6.0" text-anchor="middle" fill="#1c1c1c">O</text>
<text x="204.4" y="129.06" font-size="6.0" text-anchor="middle" fill="#1c1c1c" stroke="#fff" stroke-width="1.5" paint-order="stroke">HN</text>
<text x="204.4" y="129.06" font-size="6.0" text-anchor="middle" fill="#1c1c1c">HN</text>
<text x="224.42" y="141.43" font-size="6.0" text-anchor="middle" fill="#1c1c1c" stroke="#fff" stroke-width="1.5" paint-order="stroke">N</text>
<text x="224.42" y="141.43" font-size="6.0" text-anchor="middle" fill="#1c1c1c">N</text>
<text x="194" y="160.06" font-size="6.0" text-anchor="middle" fill="#1c1c1c" stroke="#fff" stroke-width="1.5" paint-order="stroke">N</text>
<text x="194" y="160.06" font-size="6.0" text-anchor="middle" fill="#1c1c1c">N</text>
<text x="195.4" y="168.76" font-size="6.0" text-anchor="middle" fill="#1c1c1c" stroke="#fff" stroke-width="1.5" paint-order="stroke">N</text>
<text x="195.4" y="168.76" font-size="6.0" text-anchor="middle" fill="#1c1c1c">N</text>
<text x="203.4" y="170.26" font-size="6.0" text-anchor="middle" fill="#1c1c1c" stroke="#fff" stroke-width="1.5" paint-order="stroke">N</text>
<text x="203.4" y="170.26" font-size="6.0" text-anchor="middle" fill="#1c1c1c">N</text>
<text x="222" y="169.86" font-size="6.0" text-anchor="middle" fill="#1c1c1c" stroke="#fff" stroke-width="1.5" paint-order="stroke">N</text>
<text x="222" y="169.86" font-size="6.0" text-anchor="middle" fill="#1c1c1c">N</text>
<text x="222" y="174.46" font-size="6.0" text-anchor="middle" fill="#1c1c1c" stroke="#fff" stroke-width="1.5" paint-order="stroke">H</text>
<text x="222" y="174.46" font-size="6.0" text-anchor="middle" fill="#1c1c1c">H</text>
<text x="176.1" y="194" font-size="6.9" text-anchor="middle" font-weight="bold" fill="#222" >TMP-TAC-PC</text>
<line x1="264.2" y1="155.4" x2="299.3" y2="155.4" stroke="#333" stroke-width="0.7" />
<polygon points="302.3,155.4 298.1,154 298.1,156.8" fill="#333"/>
<text x="281.3" y="151.6" font-size="7" text-anchor="middle" font-weight="normal" fill="#222" >390 nm</text>
<path d="M271.5,156.2 C283,156.5 292,162 294.3,170.5" stroke="#333" stroke-width="0.7" fill="none" />
<polygon points="294.6,173.6 292.6,169.4 296.0,169.0" fill="#333"/>
<text x="293.8" y="180.4" font-size="5.4" text-anchor="middle" font-weight="normal" fill="#333" >NVOC</text>
<polygon points="346.7,141.8 354.32,146.2 354.32,155 346.7,159.4 339.08,155 339.08,146.2" stroke="#333" stroke-width="0.8" fill="none" />
<line x1="341.07" y1="146.84" x2="346.26" y2="143.85" stroke="#333" stroke-width="0.8" />
<line x1="352.77" y1="147.61" x2="352.77" y2="153.59" stroke="#333" stroke-width="0.8" />
<line x1="346.26" y1="157.35" x2="341.07" y2="154.36" stroke="#333" stroke-width="0.8" />
<line x1="346.7" y1="141.8" x2="346.7" y2="134.4" stroke="#333" stroke-width="0.8" />
<text x="344.4" y="136.4" font-size="6.0" text-anchor="start" fill="#1c1c1c" stroke="#fff" stroke-width="1.5" paint-order="stroke">NH<tspan font-size="4.7" dy="1.4">2</tspan></text>
<text x="344.4" y="136.4" font-size="6.0" text-anchor="start" fill="#1c1c1c">NH<tspan font-size="4.7" dy="1.4">2</tspan></text>
<text x="339.08" y="148.36" font-size="6.0" text-anchor="middle" fill="#1c1c1c" stroke="#fff" stroke-width="1.5" paint-order="stroke">N</text>
<text x="339.08" y="148.36" font-size="6.0" text-anchor="middle" fill="#1c1c1c">N</text>
<text x="346.7" y="161.56" font-size="6.0" text-anchor="middle" fill="#1c1c1c" stroke="#fff" stroke-width="1.5" paint-order="stroke">N</text>
<text x="346.7" y="161.56" font-size="6.0" text-anchor="middle" fill="#1c1c1c">N</text>
<line x1="339.08" y1="155" x2="331.46" y2="159.4" stroke="#333" stroke-width="0.8" />
<text x="333.76" y="161.4" font-size="6.0" text-anchor="end" fill="#1c1c1c" stroke="#fff" stroke-width="1.5" paint-order="stroke">H<tspan font-size="4.7" dy="1.4">2</tspan><tspan dy="-1.4">N</tspan></text>
<text x="333.76" y="161.4" font-size="6.0" text-anchor="end" fill="#1c1c1c">H<tspan font-size="4.7" dy="1.4">2</tspan><tspan dy="-1.4">N</tspan></text>
<line x1="354.32" y1="146.2" x2="361.94" y2="141.8" stroke="#333" stroke-width="0.8" />
<line x1="361.94" y1="141.8" x2="369.56" y2="146.2" stroke="#333" stroke-width="0.8" />
<polygon points="377.18,141.8 384.8,146.2 384.8,155 377.18,159.4 369.56,155 369.56,146.2" stroke="#333" stroke-width="0.8" fill="none" />
<line x1="371.11" y1="147.61" x2="371.11" y2="153.59" stroke="#333" stroke-width="0.8" />
<line x1="377.62" y1="143.85" x2="382.81" y2="146.84" stroke="#333" stroke-width="0.8" />
<line x1="382.81" y1="154.36" x2="377.62" y2="157.35" stroke="#333" stroke-width="0.8" />
<line x1="384.8" y1="146.2" x2="392.42" y2="141.8" stroke="#333" stroke-width="0.8" />
<line x1="392.42" y1="141.8" x2="392.42" y2="133" stroke="#333" stroke-width="0.8" />
<text x="392.42" y="143.96" font-size="6.0" text-anchor="middle" fill="#1c1c1c" stroke="#fff" stroke-width="1.5" paint-order="stroke">O</text>
<text x="392.42" y="143.96" font-size="6.0" text-anchor="middle" fill="#1c1c1c">O</text>
<line x1="384.8" y1="155" x2="392.42" y2="159.4" stroke="#333" stroke-width="0.8" />
<polyline points="392.42,159.4 400.04,155 407.66,159.4 415.28,155 422.9,159.4" stroke="#333" stroke-width="0.8" fill="none" />
<text x="392.42" y="161.56" font-size="6.0" text-anchor="middle" fill="#1c1c1c" stroke="#fff" stroke-width="1.5" paint-order="stroke">O</text>
<text x="392.42" y="161.56" font-size="6.0" text-anchor="middle" fill="#1c1c1c">O</text>
<line x1="377.18" y1="159.4" x2="377.18" y2="168.2" stroke="#333" stroke-width="0.8" />
<line x1="377.18" y1="168.2" x2="369.56" y2="172.6" stroke="#333" stroke-width="0.8" />
<text x="377.18" y="170.36" font-size="6.0" text-anchor="middle" fill="#1c1c1c" stroke="#fff" stroke-width="1.5" paint-order="stroke">O</text>
<text x="377.18" y="170.36" font-size="6.0" text-anchor="middle" fill="#1c1c1c">O</text>
<polygon points="422.9,159.4 430.2,155.7 436,161.6 432.3,169.6 424.3,168.1" stroke="#333" stroke-width="0.8" fill="none" />
<line x1="430.29" y1="157.78" x2="434" y2="161.56" stroke="#333" stroke-width="0.8" />
<line x1="431.06" y1="167.94" x2="425.94" y2="166.98" stroke="#333" stroke-width="0.8" />
<line x1="436" y1="161.6" x2="443.3" y2="161" stroke="#333" stroke-width="0.8" />
<line x1="443.3" y1="161" x2="450.9" y2="169.2" stroke="#333" stroke-width="0.8" />
<line x1="450.9" y1="169.2" x2="456.28" y2="163.5" stroke="#333" stroke-width="0.8" />
<polygon points="463.9,150.3 471.52,154.7 471.52,163.5 463.9,167.9 456.28,163.5 456.28,154.7" stroke="#333" stroke-width="0.8" fill="none" />
<line x1="458.27" y1="155.34" x2="463.46" y2="152.35" stroke="#333" stroke-width="0.8" />
<line x1="469.97" y1="156.11" x2="469.97" y2="162.09" stroke="#333" stroke-width="0.8" />
<line x1="463.46" y1="165.85" x2="458.27" y2="162.86" stroke="#333" stroke-width="0.8" />
<polyline points="463.9,150.3 462.07,141.69 453.32,140.77 449.74,148.81 456.28,154.7" stroke="#333" stroke-width="0.8" fill="none" />
<line x1="462.63" y1="142.19" x2="467.45" y2="136.84" stroke="#333" stroke-width="0.8" />
<line x1="461.51" y1="141.19" x2="466.33" y2="135.84" stroke="#333" stroke-width="0.8" />
<text x="466.89" y="138.5" font-size="6.0" text-anchor="middle" fill="#1c1c1c" stroke="#fff" stroke-width="1.5" paint-order="stroke">O</text>
<text x="466.89" y="138.5" font-size="6.0" text-anchor="middle" fill="#1c1c1c">O</text>
<line x1="449.58" y1="148.08" x2="442.54" y2="149.58" stroke="#333" stroke-width="0.8" />
<line x1="449.9" y1="149.55" x2="442.85" y2="151.04" stroke="#333" stroke-width="0.8" />
<text x="442.7" y="152.47" font-size="6.0" text-anchor="middle" fill="#1c1c1c" stroke="#fff" stroke-width="1.5" paint-order="stroke">O</text>
<text x="442.7" y="152.47" font-size="6.0" text-anchor="middle" fill="#1c1c1c">O</text>
<polygon points="439,120.78 447.8,120.78 452.2,128.4 447.8,136.02 439,136.02 434.6,128.4" stroke="#333" stroke-width="0.8" fill="none" />
<line x1="447.8" y1="136.02" x2="453.32" y2="140.77" stroke="#333" stroke-width="0.8" />
<line x1="438.35" y1="135.65" x2="434.95" y2="141.53" stroke="#333" stroke-width="0.8" />
<line x1="439.65" y1="136.4" x2="436.25" y2="142.28" stroke="#333" stroke-width="0.8" />
<text x="435.6" y="144.07" font-size="6.0" text-anchor="middle" fill="#1c1c1c" stroke="#fff" stroke-width="1.5" paint-order="stroke">O</text>
<text x="435.6" y="144.07" font-size="6.0" text-anchor="middle" fill="#1c1c1c">O</text>
<line x1="439.65" y1="120.4" x2="436.25" y2="114.52" stroke="#333" stroke-width="0.8" />
<line x1="438.35" y1="121.15" x2="434.95" y2="115.27" stroke="#333" stroke-width="0.8" />
<text x="435.6" y="117.05" font-size="6.0" text-anchor="middle" fill="#1c1c1c" stroke="#fff" stroke-width="1.5" paint-order="stroke">O</text>
<text x="435.6" y="117.05" font-size="6.0" text-anchor="middle" fill="#1c1c1c">O</text>
<text x="433.3" y="130.56" font-size="6.0" text-anchor="middle" fill="#1c1c1c" stroke="#fff" stroke-width="1.5" paint-order="stroke">HN</text>
<text x="433.3" y="130.56" font-size="6.0" text-anchor="middle" fill="#1c1c1c">HN</text>
<text x="453.32" y="142.93" font-size="6.0" text-anchor="middle" fill="#1c1c1c" stroke="#fff" stroke-width="1.5" paint-order="stroke">N</text>
<text x="453.32" y="142.93" font-size="6.0" text-anchor="middle" fill="#1c1c1c">N</text>
<text x="422.9" y="161.56" font-size="6.0" text-anchor="middle" fill="#1c1c1c" stroke="#fff" stroke-width="1.5" paint-order="stroke">N</text>
<text x="422.9" y="161.56" font-size="6.0" text-anchor="middle" fill="#1c1c1c">N</text>
<text x="424.3" y="170.26" font-size="6.0" text-anchor="middle" fill="#1c1c1c" stroke="#fff" stroke-width="1.5" paint-order="stroke">N</text>
<text x="424.3" y="170.26" font-size="6.0" text-anchor="middle" fill="#1c1c1c">N</text>
<text x="432.3" y="171.76" font-size="6.0" text-anchor="middle" fill="#1c1c1c" stroke="#fff" stroke-width="1.5" paint-order="stroke">N</text>
<text x="432.3" y="171.76" font-size="6.0" text-anchor="middle" fill="#1c1c1c">N</text>
<text x="450.9" y="171.36" font-size="6.0" text-anchor="middle" fill="#1c1c1c" stroke="#fff" stroke-width="1.5" paint-order="stroke">N</text>
<text x="450.9" y="171.36" font-size="6.0" text-anchor="middle" fill="#1c1c1c">N</text>
<text x="450.9" y="175.96" font-size="6.0" text-anchor="middle" fill="#1c1c1c" stroke="#fff" stroke-width="1.5" paint-order="stroke">H</text>
<text x="450.9" y="175.96" font-size="6.0" text-anchor="middle" fill="#1c1c1c">H</text>
<text x="418" y="195.4" font-size="6.9" text-anchor="middle" font-weight="bold" fill="#222" >TMP-TACtz-1</text>
<text x="6.7" y="229.9" font-size="12" text-anchor="middle" font-weight="normal" fill="#111" >C</text>
<line x1="62.5" y1="242" x2="62.5" y2="324.6" stroke="#555" stroke-width="0.8" />
<line x1="62.1" y1="324.2" x2="181.5" y2="324.2" stroke="#555" stroke-width="0.8" />
<line x1="60" y1="324.2" x2="62.5" y2="324.2" stroke="#555" stroke-width="0.7" />
<text x="59" y="326.4" font-size="6.3" text-anchor="end" font-weight="normal" fill="#333" >0.0</text>
<line x1="60" y1="310.55" x2="62.5" y2="310.55" stroke="#555" stroke-width="0.7" />
<text x="59" y="312.75" font-size="6.3" text-anchor="end" font-weight="normal" fill="#333" >0.1</text>
<line x1="60" y1="296.9" x2="62.5" y2="296.9" stroke="#555" stroke-width="0.7" />
<text x="59" y="299.1" font-size="6.3" text-anchor="end" font-weight="normal" fill="#333" >0.2</text>
<line x1="60" y1="283.25" x2="62.5" y2="283.25" stroke="#555" stroke-width="0.7" />
<text x="59" y="285.45" font-size="6.3" text-anchor="end" font-weight="normal" fill="#333" >0.3</text>
<line x1="60" y1="269.6" x2="62.5" y2="269.6" stroke="#555" stroke-width="0.7" />
<text x="59" y="271.8" font-size="6.3" text-anchor="end" font-weight="normal" fill="#333" >0.4</text>
<line x1="60" y1="255.95" x2="62.5" y2="255.95" stroke="#555" stroke-width="0.7" />
<text x="59" y="258.15" font-size="6.3" text-anchor="end" font-weight="normal" fill="#333" >0.5</text>
<line x1="60" y1="242.3" x2="62.5" y2="242.3" stroke="#555" stroke-width="0.7" />
<text x="59" y="244.5" font-size="6.3" text-anchor="end" font-weight="normal" fill="#333" >0.6</text>
<line x1="62.5" y1="324.2" x2="62.5" y2="326.8" stroke="#555" stroke-width="0.7" />
<text x="62.5" y="334.8" font-size="6.5" text-anchor="middle" font-weight="normal" fill="#333" >300</text>
<line x1="92.22" y1="324.2" x2="92.22" y2="326.8" stroke="#555" stroke-width="0.7" />
<text x="92.22" y="334.8" font-size="6.5" text-anchor="middle" font-weight="normal" fill="#333" >350</text>
<line x1="121.95" y1="324.2" x2="121.95" y2="326.8" stroke="#555" stroke-width="0.7" />
<text x="121.95" y="334.8" font-size="6.5" text-anchor="middle" font-weight="normal" fill="#333" >400</text>
<line x1="151.68" y1="324.2" x2="151.68" y2="326.8" stroke="#555" stroke-width="0.7" />
<text x="151.68" y="334.8" font-size="6.5" text-anchor="middle" font-weight="normal" fill="#333" >450</text>
<line x1="181.4" y1="324.2" x2="181.4" y2="326.8" stroke="#555" stroke-width="0.7" />
<text x="181.4" y="334.8" font-size="6.5" text-anchor="middle" font-weight="normal" fill="#333" >500</text>
<text x="121.4" y="347.2" font-size="7.9" text-anchor="middle" font-weight="normal" fill="#222" >Wavelenght (nm)</text>
<text x="0" y="0" font-size="7.85" text-anchor="middle" fill="#222" transform="translate(30.9,280.2) rotate(-90)">Absorbance</text>
<text x="122.3" y="231.3" font-size="7.0" text-anchor="middle" fill="#222">Photouncaging of <tspan font-weight="bold">TMP-TAC-PC</tspan></text>
<polyline points="62.5,249.81 63.99,253.56 65.47,257.31 66.96,261.27 68.44,265.23 69.93,268.92 71.42,272.6 72.9,275.67 74.39,278.75 75.88,282.7 77.36,286.66 78.85,289.73 80.34,292.81 81.82,294.99 83.31,297.17 84.79,298.4 86.28,299.63 87.77,300.31 89.25,301 90.74,301.2 92.22,301.4 93.71,301.27 95.2,301.13 96.68,300.65 98.17,300.18 99.66,299.36 101.14,298.54 102.63,297.51 104.12,296.49 105.6,295.33 107.09,294.17 108.57,292.94 110.06,291.71 111.55,290.48 113.03,289.26 114.52,288.23 116,287.21 117.49,286.39 118.98,285.57 120.46,285.09 121.95,284.62 123.44,284.48 124.92,284.34 126.41,284.62 127.9,284.89 129.38,285.57 130.87,286.25 132.35,287.48 133.84,288.71 135.33,290.35 136.81,291.99 138.3,294.1 139.78,296.22 141.27,298.74 142.76,301.27 144.24,303.86 145.73,306.45 147.22,308.84 148.7,311.23 150.19,313.14 151.68,315.05 153.16,316.35 154.65,317.65 156.13,318.4 157.62,319.15 159.11,319.49 160.59,319.83 162.08,319.97 163.56,320.1 165.05,320.14 166.54,320.17 168.02,320.21 169.51,320.24 171,320.26 172.48,320.28 173.97,320.29 175.46,320.31 176.94,320.33 178.43,320.34 179.91,320.36 181.4,320.38" stroke="#c41e1e" stroke-width="2.0" fill="none" stroke-linejoin="round"/>
<polyline points="62.5,250.3 63.99,253.99 65.47,257.68 66.96,261.57 68.44,265.46 69.93,269.09 71.42,272.71 72.9,275.73 74.39,278.75 75.88,282.6 77.36,286.46 78.85,289.42 80.34,292.38 81.82,294.47 83.31,296.57 84.79,297.73 86.28,298.89 87.77,299.52 89.25,300.16 90.74,300.34 92.22,300.52 93.71,300.37 95.2,300.23 96.68,299.76 98.17,299.29 99.66,298.49 101.14,297.69 102.63,296.7 104.12,295.71 105.6,294.59 107.09,293.48 108.57,292.3 110.06,291.12 111.55,289.94 113.03,288.76 114.52,287.78 116,286.8 117.49,286.01 118.98,285.23 120.46,284.77 121.95,284.32 123.44,284.21 124.92,284.09 126.41,284.38 127.9,284.67 129.38,285.36 130.87,286.06 132.35,287.3 133.84,288.54 135.33,290.19 136.81,291.84 138.3,293.96 139.78,296.09 141.27,298.62 142.76,301.15 144.24,303.75 145.73,306.36 147.22,308.76 148.7,311.16 150.19,313.08 151.68,315 153.16,316.31 154.65,317.63 156.13,318.4 157.62,319.17 159.11,319.52 160.59,319.88 162.08,320.03 163.56,320.17 165.05,320.21 166.54,320.25 168.02,320.28 169.51,320.32 171,320.34 172.48,320.35 173.97,320.37 175.46,320.39 176.94,320.4 178.43,320.42 179.91,320.44 181.4,320.45" stroke="#ff4a4a" stroke-width="1.5" fill="none" stroke-linejoin="round"/>
<polyline points="62.5,251.04 63.99,254.63 65.47,258.22 66.96,262.02 68.44,265.81 69.93,269.34 71.42,272.88 72.9,275.81 74.39,278.75 75.88,282.45 77.36,286.15 78.85,288.95 80.34,291.75 81.82,293.7 83.31,295.66 84.79,296.72 86.28,297.77 87.77,298.34 89.25,298.91 90.74,299.05 92.22,299.19 93.71,299.03 95.2,298.87 96.68,298.41 98.17,297.95 99.66,297.19 101.14,296.42 102.63,295.48 104.12,294.55 105.6,293.49 107.09,292.44 108.57,291.33 110.06,290.23 111.55,289.12 113.03,288.01 114.52,287.1 116,286.18 117.49,285.44 118.98,284.71 120.46,284.3 121.95,283.88 123.44,283.8 124.92,283.71 126.41,284.02 127.9,284.34 129.38,285.05 130.87,285.77 132.35,287.02 133.84,288.28 135.33,289.95 136.81,291.61 138.3,293.75 139.78,295.89 141.27,298.43 142.76,300.97 144.24,303.59 145.73,306.21 147.22,308.63 148.7,311.04 150.19,312.98 151.68,314.92 153.16,316.26 154.65,317.59 156.13,318.39 157.62,319.19 159.11,319.57 160.59,319.95 162.08,320.12 163.56,320.28 165.05,320.32 166.54,320.36 168.02,320.4 169.51,320.44 171,320.46 172.48,320.47 173.97,320.49 175.46,320.5 176.94,320.52 178.43,320.54 179.91,320.55 181.4,320.57" stroke="#ff8a1e" stroke-width="1.15" fill="none" stroke-linejoin="round"/>
<polyline points="62.5,251.9 63.99,255.38 65.47,258.86 66.96,262.54 68.44,266.22 69.93,269.64 71.42,273.07 72.9,275.91 74.39,278.75 75.88,282.27 77.36,285.79 78.85,288.4 80.34,291.01 81.82,292.8 83.31,294.6 84.79,295.54 86.28,296.47 87.77,296.96 89.25,297.44 90.74,297.54 92.22,297.63 93.71,297.46 95.2,297.29 96.68,296.84 98.17,296.39 99.66,295.67 101.14,294.94 102.63,294.06 104.12,293.18 105.6,292.2 107.09,291.22 108.57,290.2 110.06,289.18 111.55,288.16 113.03,287.14 114.52,286.3 116,285.46 117.49,284.78 118.98,284.11 120.46,283.74 121.95,283.37 123.44,283.32 124.92,283.26 126.41,283.61 127.9,283.95 129.38,284.69 130.87,285.43 132.35,286.7 133.84,287.98 135.33,289.66 136.81,291.35 138.3,293.5 139.78,295.66 141.27,298.21 142.76,300.77 144.24,303.4 145.73,306.04 147.22,308.47 148.7,310.91 150.19,312.87 151.68,314.83 153.16,316.19 154.65,317.56 156.13,318.39 157.62,319.22 159.11,319.63 160.59,320.04 162.08,320.22 163.56,320.4 165.05,320.44 166.54,320.49 168.02,320.53 169.51,320.58 171,320.59 172.48,320.61 173.97,320.62 175.46,320.64 176.94,320.66 178.43,320.67 179.91,320.69 181.4,320.7" stroke="#f5f52a" stroke-width="1.15" fill="none" stroke-linejoin="round"/>
<polyline points="62.5,252.88 63.99,256.23 65.47,259.58 66.96,263.13 68.44,266.68 69.93,269.98 71.42,273.29 72.9,276.02 74.39,278.75 75.88,282.06 77.36,285.38 78.85,287.77 80.34,290.16 81.82,291.77 83.31,293.39 84.79,294.19 86.28,294.99 87.77,295.38 89.25,295.77 90.74,295.82 92.22,295.86 93.71,295.67 95.2,295.48 96.68,295.05 98.17,294.61 99.66,293.93 101.14,293.25 102.63,292.44 104.12,291.63 105.6,290.73 107.09,289.84 108.57,288.91 110.06,287.99 111.55,287.07 113.03,286.15 114.52,285.39 116,284.63 117.49,284.03 118.98,283.42 120.46,283.1 121.95,282.79 123.44,282.77 124.92,282.76 126.41,283.13 127.9,283.51 129.38,284.27 130.87,285.04 132.35,286.34 133.84,287.64 135.33,289.34 136.81,291.05 138.3,293.22 139.78,295.4 141.27,297.97 142.76,300.53 144.24,303.19 145.73,305.84 147.22,308.3 148.7,310.75 150.19,312.74 151.68,314.73 153.16,316.12 154.65,317.51 156.13,318.38 157.62,319.25 159.11,319.7 160.59,320.14 162.08,320.34 163.56,320.53 165.05,320.58 166.54,320.63 168.02,320.69 169.51,320.74 171,320.75 172.48,320.77 173.97,320.78 175.46,320.8 176.94,320.81 178.43,320.83 179.91,320.84 181.4,320.86" stroke="#c9c94a" stroke-width="1.15" fill="none" stroke-linejoin="round"/>
<polyline points="62.5,254.35 63.99,257.51 65.47,260.67 66.96,264.03 68.44,267.38 69.93,270.5 71.42,273.61 72.9,276.18 74.39,278.75 75.88,281.76 77.36,284.77 78.85,286.83 80.34,288.89 81.82,290.23 83.31,291.57 84.79,292.16 86.28,292.76 87.77,293.01 89.25,293.27 90.74,293.23 92.22,293.2 93.71,292.99 95.2,292.77 96.68,292.36 98.17,291.94 99.66,291.33 101.14,290.71 102.63,290 104.12,289.29 105.6,288.52 107.09,287.76 108.57,286.98 110.06,286.21 111.55,285.43 113.03,284.66 114.52,284.03 116,283.4 117.49,282.89 118.98,282.39 120.46,282.15 121.95,281.91 123.44,281.95 124.92,281.99 126.41,282.42 127.9,282.84 129.38,283.65 130.87,284.46 132.35,285.79 133.84,287.12 135.33,288.86 136.81,290.6 138.3,292.8 139.78,295.01 141.27,297.59 142.76,300.18 144.24,302.86 145.73,305.55 147.22,308.04 148.7,310.53 150.19,312.55 151.68,314.57 153.16,316.01 154.65,317.45 156.13,318.37 157.62,319.3 159.11,319.79 160.59,320.29 162.08,320.51 163.56,320.74 165.05,320.8 166.54,320.86 168.02,320.91 169.51,320.97 171,320.99 172.48,321 173.97,321.02 175.46,321.03 176.94,321.04 178.43,321.06 179.91,321.07 181.4,321.09" stroke="#2ef02e" stroke-width="1.15" fill="none" stroke-linejoin="round"/>
<polyline points="62.5,256.69 63.99,259.54 65.47,262.4 66.96,265.44 68.44,268.48 69.93,271.31 71.42,274.13 72.9,276.44 74.39,278.75 75.88,281.27 77.36,283.8 78.85,285.34 80.34,286.88 81.82,287.78 83.31,288.69 84.79,288.96 86.28,289.23 87.77,289.27 89.25,289.3 90.74,289.14 92.22,288.98 93.71,288.73 95.2,288.48 96.68,288.1 98.17,287.72 99.66,287.2 101.14,286.69 102.63,286.14 104.12,285.6 105.6,285.03 107.09,284.46 108.57,283.92 110.06,283.38 111.55,282.84 113.03,282.3 114.52,281.87 116,281.44 117.49,281.1 118.98,280.75 120.46,280.64 121.95,280.53 123.44,280.66 124.92,280.79 126.41,281.29 127.9,281.79 129.38,282.67 130.87,283.54 132.35,284.92 133.84,286.3 135.33,288.09 136.81,289.88 138.3,292.13 139.78,294.38 141.27,297 142.76,299.62 144.24,302.35 145.73,305.08 147.22,307.62 148.7,310.16 150.19,312.25 151.68,314.33 153.16,315.84 154.65,317.34 156.13,318.36 157.62,319.38 159.11,319.95 160.59,320.52 162.08,320.79 163.56,321.06 165.05,321.13 166.54,321.21 168.02,321.28 169.51,321.35 171,321.36 172.48,321.37 173.97,321.39 175.46,321.4 176.94,321.41 178.43,321.42 179.91,321.44 181.4,321.45" stroke="#167a16" stroke-width="1.15" fill="none" stroke-linejoin="round"/>
<polyline points="62.5,258.28 63.99,260.93 65.47,263.58 66.96,266.41 68.44,269.23 69.93,271.86 71.42,274.49 72.9,276.62 74.39,278.75 75.88,280.94 77.36,283.13 78.85,284.32 80.34,285.51 81.82,286.11 83.31,286.72 84.79,286.77 86.28,286.82 87.77,286.7 89.25,286.58 90.74,286.34 92.22,286.1 93.71,285.82 95.2,285.54 96.68,285.18 98.17,284.82 99.66,284.38 101.14,283.94 102.63,283.5 104.12,283.07 105.6,282.64 107.09,282.21 108.57,281.83 110.06,281.45 111.55,281.07 113.03,280.69 114.52,280.39 116,280.1 117.49,279.87 118.98,279.64 120.46,279.61 121.95,279.58 123.44,279.77 124.92,279.96 126.41,280.52 127.9,281.07 129.38,281.99 130.87,282.91 132.35,284.33 133.84,285.74 135.33,287.57 136.81,289.4 138.3,291.68 139.78,293.96 141.27,296.6 142.76,299.24 144.24,302 145.73,304.76 147.22,307.34 148.7,309.91 150.19,312.04 151.68,314.16 153.16,315.72 154.65,317.27 156.13,318.35 157.62,319.43 159.11,320.06 160.59,320.68 162.08,320.98 163.56,321.28 165.05,321.36 166.54,321.44 168.02,321.53 169.51,321.61 171,321.62 172.48,321.63 173.97,321.64 175.46,321.65 176.94,321.66 178.43,321.67 179.91,321.69 181.4,321.7" stroke="#5cf5ff" stroke-width="1.15" fill="none" stroke-linejoin="round"/>
<polyline points="62.5,259.64 63.99,262.11 65.47,264.58 66.96,267.22 68.44,269.87 69.93,272.33 71.42,274.79 72.9,276.77 74.39,278.75 75.88,280.66 77.36,282.57 78.85,283.45 80.34,284.34 81.82,284.7 83.31,285.05 84.79,284.92 86.28,284.78 87.77,284.53 89.25,284.29 90.74,283.97 92.22,283.66 93.71,283.36 95.2,283.06 96.68,282.72 98.17,282.38 99.66,281.99 101.14,281.61 102.63,281.27 104.12,280.93 105.6,280.62 107.09,280.3 108.57,280.06 110.06,279.81 111.55,279.56 113.03,279.32 114.52,279.14 116,278.96 117.49,278.83 118.98,278.69 120.46,278.73 121.95,278.77 123.44,279.02 124.92,279.26 126.41,279.86 127.9,280.47 129.38,281.42 130.87,282.38 132.35,283.82 133.84,285.27 135.33,287.13 136.81,288.98 138.3,291.29 139.78,293.6 141.27,296.26 142.76,298.92 144.24,301.7 145.73,304.49 147.22,307.1 148.7,309.7 150.19,311.86 151.68,314.02 153.16,315.61 154.65,317.21 156.13,318.34 157.62,319.48 159.11,320.15 160.59,320.81 162.08,321.14 163.56,321.47 165.05,321.56 166.54,321.65 168.02,321.74 169.51,321.82 171,321.84 172.48,321.85 173.97,321.86 175.46,321.87 176.94,321.88 178.43,321.89 179.91,321.9 181.4,321.91" stroke="#6cb6ff" stroke-width="1.15" fill="none" stroke-linejoin="round"/>
<polyline points="62.5,261.72 63.99,263.92 65.47,266.12 66.96,268.49 68.44,270.86 69.93,273.06 71.42,275.25 72.9,277 74.39,278.75 75.88,280.22 77.36,281.7 78.85,282.12 80.34,282.54 81.82,282.51 83.31,282.48 84.79,282.05 86.28,281.62 87.77,281.18 89.25,280.74 90.74,280.31 92.22,279.89 93.71,279.55 95.2,279.22 96.68,278.91 98.17,278.59 99.66,278.3 101.14,278.02 102.63,277.82 104.12,277.62 105.6,277.49 107.09,277.35 108.57,277.32 110.06,277.28 111.55,277.24 113.03,277.21 114.52,277.21 116,277.21 117.49,277.22 118.98,277.23 120.46,277.38 121.95,277.53 123.44,277.86 124.92,278.19 126.41,278.86 127.9,279.53 129.38,280.54 130.87,281.55 132.35,283.05 133.84,284.54 135.33,286.44 136.81,288.34 138.3,290.69 139.78,293.04 141.27,295.73 142.76,298.42 144.24,301.25 145.73,304.07 147.22,306.73 148.7,309.38 150.19,311.59 151.68,313.8 153.16,315.46 154.65,317.12 156.13,318.33 157.62,319.55 159.11,320.29 160.59,321.02 162.08,321.39 163.56,321.76 165.05,321.86 166.54,321.96 168.02,322.06 169.51,322.16 171,322.17 172.48,322.18 173.97,322.19 175.46,322.2 176.94,322.21 178.43,322.21 179.91,322.22 181.4,322.23" stroke="#3f3fff" stroke-width="1.15" fill="none" stroke-linejoin="round"/>
<polyline points="62.5,264.43 63.99,266.27 65.47,268.12 66.96,270.13 68.44,272.14 69.93,273.99 71.42,275.85 72.9,277.3 74.39,278.75 75.88,279.66 77.36,280.57 78.85,280.39 80.34,280.22 81.82,279.68 83.31,279.14 84.79,278.34 86.28,277.54 87.77,276.84 89.25,276.14 90.74,275.58 92.22,275.01 93.71,274.63 95.2,274.25 96.68,273.97 98.17,273.7 99.66,273.53 101.14,273.36 102.63,273.35 104.12,273.34 105.6,273.44 107.09,273.54 108.57,273.77 110.06,274.01 111.55,274.24 113.03,274.47 114.52,274.71 116,274.94 117.49,275.14 118.98,275.34 120.46,275.63 121.95,275.92 123.44,276.36 124.92,276.79 126.41,277.55 127.9,278.31 129.38,279.4 130.87,280.49 132.35,282.04 133.84,283.59 135.33,285.56 136.81,287.52 138.3,289.92 139.78,292.32 141.27,295.05 142.76,297.78 144.24,300.65 145.73,303.53 147.22,306.24 148.7,308.96 150.19,311.23 151.68,313.51 153.16,315.25 154.65,317 156.13,318.32 157.62,319.64 159.11,320.47 160.59,321.29 162.08,321.71 163.56,322.14 165.05,322.25 166.54,322.37 168.02,322.48 169.51,322.6 171,322.6 172.48,322.61 173.97,322.62 175.46,322.62 176.94,322.63 178.43,322.64 179.91,322.65 181.4,322.65" stroke="#7575ff" stroke-width="1.15" fill="none" stroke-linejoin="round"/>
<polyline points="62.5,265.53 63.99,267.23 65.47,268.93 66.96,270.8 68.44,272.66 69.93,274.38 71.42,276.1 72.9,277.42 74.39,278.75 75.88,279.43 77.36,280.11 78.85,279.69 80.34,279.26 81.82,278.52 83.31,277.78 84.79,276.82 86.28,275.87 87.77,275.07 89.25,274.26 90.74,273.64 92.22,273.01 93.71,272.61 95.2,272.22 96.68,271.96 98.17,271.7 99.66,271.58 101.14,271.46 102.63,271.52 104.12,271.59 105.6,271.79 107.09,271.98 108.57,272.32 110.06,272.67 111.55,273.01 113.03,273.36 114.52,273.69 116,274.02 117.49,274.29 118.98,274.56 120.46,274.92 121.95,275.27 123.44,275.74 124.92,276.22 126.41,277.01 127.9,277.81 129.38,278.93 130.87,280.05 132.35,281.63 133.84,283.21 135.33,285.19 136.81,287.18 138.3,289.6 139.78,292.02 141.27,294.77 142.76,297.51 144.24,300.41 145.73,303.31 147.22,306.05 148.7,308.79 150.19,311.09 151.68,313.39 153.16,315.17 154.65,316.95 156.13,318.31 157.62,319.67 159.11,320.54 160.59,321.4 162.08,321.85 163.56,322.29 165.05,322.41 166.54,322.53 168.02,322.65 169.51,322.77 171,322.78 172.48,322.79 173.97,322.79 175.46,322.8 176.94,322.81 178.43,322.81 179.91,322.82 181.4,322.82" stroke="#a126f2" stroke-width="1.15" fill="none" stroke-linejoin="round"/>
<polyline points="62.5,266.76 63.99,268.3 65.47,269.84 66.96,271.54 68.44,273.24 69.93,274.8 71.42,276.37 72.9,277.56 74.39,278.75 75.88,279.17 77.36,279.6 78.85,278.9 80.34,278.21 81.82,277.24 83.31,276.26 84.79,275.14 86.28,274.01 87.77,273.09 89.25,272.17 90.74,271.48 92.22,270.79 93.71,270.38 95.2,269.96 96.68,269.71 98.17,269.47 99.66,269.41 101.14,269.34 102.63,269.49 104.12,269.65 105.6,269.95 107.09,270.25 108.57,270.71 110.06,271.18 111.55,271.65 113.03,272.11 114.52,272.55 116,272.99 117.49,273.34 118.98,273.7 120.46,274.12 121.95,274.54 123.44,275.06 124.92,275.58 126.41,276.42 127.9,277.26 129.38,278.41 130.87,279.57 132.35,281.17 133.84,282.78 135.33,284.79 136.81,286.81 138.3,289.25 139.78,291.7 141.27,294.46 142.76,297.22 144.24,300.14 145.73,303.06 147.22,305.83 148.7,308.6 150.19,310.93 151.68,313.26 153.16,315.08 154.65,316.89 156.13,318.3 157.62,319.71 159.11,320.62 160.59,321.53 162.08,321.99 163.56,322.46 165.05,322.59 166.54,322.72 168.02,322.84 169.51,322.97 171,322.98 172.48,322.98 173.97,322.99 175.46,322.99 176.94,323 178.43,323 179.91,323.01 181.4,323.02" stroke="#b77ee0" stroke-width="1.15" fill="none" stroke-linejoin="round"/>
<polyline points="62.5,268.36 63.99,269.69 65.47,271.02 66.96,272.51 68.44,273.99 69.93,275.36 71.42,276.73 72.9,277.74 74.39,278.75 75.88,278.84 77.36,278.93 78.85,277.88 80.34,276.83 81.82,275.56 83.31,274.29 84.79,272.95 86.28,271.6 87.77,270.53 89.25,269.46 90.74,268.69 92.22,267.91 93.71,267.47 95.2,267.02 96.68,266.8 98.17,266.58 99.66,266.58 101.14,266.59 102.63,266.85 104.12,267.12 105.6,267.56 107.09,267.99 108.57,268.62 110.06,269.25 111.55,269.87 113.03,270.5 114.52,271.07 116,271.65 117.49,272.12 118.98,272.59 120.46,273.09 121.95,273.59 123.44,274.17 124.92,274.76 126.41,275.65 127.9,276.54 129.38,277.74 130.87,278.94 132.35,280.58 133.84,282.22 135.33,284.27 136.81,286.32 138.3,288.79 139.78,291.27 141.27,294.05 142.76,296.84 144.24,299.79 145.73,302.74 147.22,305.55 148.7,308.35 150.19,310.72 151.68,313.1 153.16,314.96 154.65,316.82 156.13,318.3 157.62,319.77 159.11,320.73 160.59,321.69 162.08,322.18 163.56,322.68 165.05,322.82 166.54,322.96 168.02,323.09 169.51,323.23 171,323.23 172.48,323.24 173.97,323.24 175.46,323.25 176.94,323.25 178.43,323.26 179.91,323.26 181.4,323.26" stroke="#6a2f8a" stroke-width="1.15" fill="none" stroke-linejoin="round"/>
<polyline points="62.5,270.94 63.99,271.93 65.47,272.93 66.96,274.07 68.44,275.21 69.93,276.25 71.42,277.3 72.9,278.02 74.39,278.75 75.88,278.3 77.36,277.86 78.85,276.23 80.34,274.61 81.82,272.86 83.31,271.11 84.79,269.41 86.28,267.7 87.77,266.39 89.25,265.07 90.74,264.16 92.22,263.25 93.71,262.76 95.2,262.28 96.68,262.09 98.17,261.91 99.66,262.03 101.14,262.15 102.63,262.59 104.12,263.03 105.6,263.69 107.09,264.35 108.57,265.24 110.06,266.12 111.55,267.01 113.03,267.89 114.52,268.69 116,269.48 117.49,270.13 118.98,270.78 120.46,271.42 121.95,272.05 123.44,272.74 124.92,273.42 126.41,274.4 127.9,275.38 129.38,276.65 130.87,277.92 132.35,279.62 133.84,281.31 135.33,283.42 136.81,285.53 138.3,288.06 139.78,290.58 141.27,293.4 142.76,296.22 144.24,299.22 145.73,302.23 147.22,305.09 148.7,307.95 150.19,310.38 151.68,312.82 153.16,314.77 154.65,316.71 156.13,318.28 157.62,319.85 159.11,320.9 160.59,321.95 162.08,322.49 163.56,323.04 165.05,323.19 166.54,323.34 168.02,323.49 169.51,323.65 171,323.65 172.48,323.65 173.97,323.65 175.46,323.66 176.94,323.66 178.43,323.66 179.91,323.66 181.4,323.66" stroke="#7f7f7f" stroke-width="1.15" fill="none" stroke-linejoin="round"/>
<polyline points="62.5,274.38 63.99,274.92 65.47,275.47 66.96,276.15 68.44,276.83 69.93,277.45 71.42,278.06 72.9,278.4 74.39,278.75 75.88,277.59 77.36,276.43 78.85,274.04 80.34,271.65 81.82,269.26 83.31,266.87 84.79,264.69 86.28,262.5 87.77,260.86 89.25,259.23 90.74,258.13 92.22,257.04 93.71,256.5 95.2,255.95 96.68,255.81 98.17,255.68 99.66,255.95 101.14,256.22 102.63,256.91 104.12,257.59 105.6,258.54 107.09,259.5 108.57,260.73 110.06,261.96 111.55,263.18 113.03,264.41 114.52,265.5 116,266.6 117.49,267.48 118.98,268.37 120.46,269.19 121.95,270.01 123.44,270.83 124.92,271.65 126.41,272.74 127.9,273.83 129.38,275.2 130.87,276.56 132.35,278.34 133.84,280.11 135.33,282.29 136.81,284.48 138.3,287.07 139.78,289.67 141.27,292.53 142.76,295.4 144.24,298.47 145.73,301.54 147.22,304.48 148.7,307.41 150.19,309.94 151.68,312.46 153.16,314.51 154.65,316.56 156.13,318.26 157.62,319.97 159.11,321.13 160.59,322.29 162.08,322.9 163.56,323.52 165.05,323.69 166.54,323.86 168.02,324.03 169.51,324.2 171,324.2 172.48,324.2 173.97,324.2 175.46,324.2 176.94,324.2 178.43,324.2 179.91,324.2 181.4,324.2" stroke="#1a1a1a" stroke-width="1.5" fill="none" stroke-linejoin="round"/>
<line x1="191.1" y1="243.5" x2="199.4" y2="243.5" stroke="#1a1a1a" stroke-width="1.1" />
<text x="204.4" y="245.7" font-size="6.4" text-anchor="start" font-weight="normal" fill="#222" >0 min</text>
<line x1="191.1" y1="254.22" x2="199.4" y2="254.22" stroke="#7f7f7f" stroke-width="0.9" />
<text x="204.4" y="256.42" font-size="6.4" text-anchor="start" font-weight="normal" fill="#222" >4 min</text>
<line x1="191.1" y1="264.94" x2="199.4" y2="264.94" stroke="#6a2f8a" stroke-width="1.1" />
<text x="204.4" y="267.14" font-size="6.4" text-anchor="start" font-weight="normal" fill="#222" >8 min</text>
<line x1="191.1" y1="275.66" x2="199.4" y2="275.66" stroke="#b77ee0" stroke-width="1.1" />
<text x="204.4" y="277.86" font-size="6.4" text-anchor="start" font-weight="normal" fill="#222" >12 min</text>
<line x1="191.1" y1="286.38" x2="199.4" y2="286.38" stroke="#a126f2" stroke-width="1.1" />
<text x="204.4" y="288.58" font-size="6.4" text-anchor="start" font-weight="normal" fill="#222" >16 min</text>
<line x1="191.1" y1="297.1" x2="199.4" y2="297.1" stroke="#7575ff" stroke-width="1.1" />
<text x="204.4" y="299.3" font-size="6.4" text-anchor="start" font-weight="normal" fill="#222" >20 min</text>
<line x1="191.1" y1="307.82" x2="199.4" y2="307.82" stroke="#3f3fff" stroke-width="1.1" />
<text x="204.4" y="310.02" font-size="6.4" text-anchor="start" font-weight="normal" fill="#222" >30 min</text>
<line x1="191.1" y1="318.54" x2="199.4" y2="318.54" stroke="#6cb6ff" stroke-width="1.1" />
<text x="204.4" y="320.74" font-size="6.4" text-anchor="start" font-weight="normal" fill="#222" >40 min</text>
<line x1="228.8" y1="243.5" x2="237.1" y2="243.5" stroke="#5cf5ff" stroke-width="1.1" />
<text x="241.9" y="245.7" font-size="6.4" text-anchor="start" font-weight="normal" fill="#222" >50 min</text>
<line x1="228.8" y1="254.22" x2="237.1" y2="254.22" stroke="#167a16" stroke-width="1.1" />
<text x="241.9" y="256.42" font-size="6.4" text-anchor="start" font-weight="normal" fill="#222" >60 min</text>
<line x1="228.8" y1="264.94" x2="237.1" y2="264.94" stroke="#2ef02e" stroke-width="1.1" />
<text x="241.9" y="267.14" font-size="6.4" text-anchor="start" font-weight="normal" fill="#222" >80 min</text>
<line x1="228.8" y1="275.66" x2="237.1" y2="275.66" stroke="#c9c94a" stroke-width="1.1" />
<text x="241.9" y="277.86" font-size="6.4" text-anchor="start" font-weight="normal" fill="#222" >100 min</text>
<line x1="228.8" y1="286.38" x2="237.1" y2="286.38" stroke="#f5f52a" stroke-width="1.1" />
<text x="241.9" y="288.58" font-size="6.4" text-anchor="start" font-weight="normal" fill="#222" >120 min</text>
<line x1="228.8" y1="297.1" x2="237.1" y2="297.1" stroke="#ff8a1e" stroke-width="1.1" />
<text x="241.9" y="299.3" font-size="6.4" text-anchor="start" font-weight="normal" fill="#222" >140 min</text>
<line x1="228.8" y1="307.82" x2="237.1" y2="307.82" stroke="#ff4a4a" stroke-width="1.1" />
<text x="241.9" y="310.02" font-size="6.4" text-anchor="start" font-weight="normal" fill="#222" >160 min</text>
<line x1="228.8" y1="318.54" x2="237.1" y2="318.54" stroke="#c41e1e" stroke-width="1.1" />
<text x="241.9" y="320.74" font-size="6.4" text-anchor="start" font-weight="normal" fill="#222" >180 min</text>
<text x="345.8" y="220.6" font-size="11.6" text-anchor="middle" font-weight="normal" fill="#111" >D</text>
<line x1="402.9" y1="226.4" x2="402.9" y2="333" stroke="#555" stroke-width="0.8" />
<line x1="402.5" y1="332.6" x2="531.5" y2="332.6" stroke="#555" stroke-width="0.8" />
<line x1="400.4" y1="332.6" x2="402.9" y2="332.6" stroke="#555" stroke-width="0.7" />
<text x="399.6" y="334.8" font-size="6.3" text-anchor="end" font-weight="normal" fill="#333" >0</text>
<line x1="400.4" y1="319.36" x2="402.9" y2="319.36" stroke="#555" stroke-width="0.7" />
<text x="399.6" y="321.56" font-size="6.3" text-anchor="end" font-weight="normal" fill="#333" >10</text>
<line x1="400.4" y1="306.12" x2="402.9" y2="306.12" stroke="#555" stroke-width="0.7" />
<text x="399.6" y="308.32" font-size="6.3" text-anchor="end" font-weight="normal" fill="#333" >20</text>
<line x1="400.4" y1="292.89" x2="402.9" y2="292.89" stroke="#555" stroke-width="0.7" />
<text x="399.6" y="295.09" font-size="6.3" text-anchor="end" font-weight="normal" fill="#333" >30</text>
<line x1="400.4" y1="279.65" x2="402.9" y2="279.65" stroke="#555" stroke-width="0.7" />
<text x="399.6" y="281.85" font-size="6.3" text-anchor="end" font-weight="normal" fill="#333" >40</text>
<line x1="400.4" y1="266.41" x2="402.9" y2="266.41" stroke="#555" stroke-width="0.7" />
<text x="399.6" y="268.61" font-size="6.3" text-anchor="end" font-weight="normal" fill="#333" >50</text>
<line x1="400.4" y1="253.17" x2="402.9" y2="253.17" stroke="#555" stroke-width="0.7" />
<text x="399.6" y="255.37" font-size="6.3" text-anchor="end" font-weight="normal" fill="#333" >60</text>
<line x1="400.4" y1="239.93" x2="402.9" y2="239.93" stroke="#555" stroke-width="0.7" />
<text x="399.6" y="242.13" font-size="6.3" text-anchor="end" font-weight="normal" fill="#333" >70</text>
<line x1="400.4" y1="226.7" x2="402.9" y2="226.7" stroke="#555" stroke-width="0.7" />
<text x="399.6" y="228.9" font-size="6.3" text-anchor="end" font-weight="normal" fill="#333" >80</text>
<line x1="402.9" y1="332.6" x2="402.9" y2="335.1" stroke="#555" stroke-width="0.7" />
<text x="402.9" y="343.2" font-size="6.5" text-anchor="middle" font-weight="normal" fill="#333" >0</text>
<line x1="424.28" y1="332.6" x2="424.28" y2="335.1" stroke="#555" stroke-width="0.7" />
<text x="424.28" y="343.2" font-size="6.5" text-anchor="middle" font-weight="normal" fill="#333" >30</text>
<line x1="445.67" y1="332.6" x2="445.67" y2="335.1" stroke="#555" stroke-width="0.7" />
<text x="445.67" y="343.2" font-size="6.5" text-anchor="middle" font-weight="normal" fill="#333" >60</text>
<line x1="467.05" y1="332.6" x2="467.05" y2="335.1" stroke="#555" stroke-width="0.7" />
<text x="467.05" y="343.2" font-size="6.5" text-anchor="middle" font-weight="normal" fill="#333" >90</text>
<line x1="488.43" y1="332.6" x2="488.43" y2="335.1" stroke="#555" stroke-width="0.7" />
<text x="488.43" y="343.2" font-size="6.5" text-anchor="middle" font-weight="normal" fill="#333" >120</text>
<line x1="509.82" y1="332.6" x2="509.82" y2="335.1" stroke="#555" stroke-width="0.7" />
<text x="509.82" y="343.2" font-size="6.5" text-anchor="middle" font-weight="normal" fill="#333" >150</text>
<line x1="531.2" y1="332.6" x2="531.2" y2="335.1" stroke="#555" stroke-width="0.7" />
<text x="531.2" y="343.2" font-size="6.5" text-anchor="middle" font-weight="normal" fill="#333" >180</text>
<text x="467.4" y="352.3" font-size="7.4" text-anchor="middle" fill="#222"><tspan font-style="italic">t</tspan> (min)</text>
<text x="0" y="0" font-size="6.35" text-anchor="middle" fill="#222" transform="translate(382.2,278.2) rotate(-90)">% of Photouncaging of <tspan font-weight="bold">TMP-TAC-PC</tspan></text>
<polyline points="402.9,325.45 404.33,321.89 405.75,318.47 407.18,315.18 408.6,312.02 410.03,308.99 411.45,306.07 412.88,303.27 414.3,300.58 415.73,298 417.16,295.51 418.58,293.13 420.01,290.83 421.43,288.63 422.86,286.51 424.28,284.48 425.71,282.52 427.13,280.65 428.56,278.84 429.99,277.11 431.41,275.44 432.84,273.84 434.26,272.31 435.69,270.83 437.11,269.41 438.54,268.05 439.96,266.74 441.39,265.48 442.82,264.27 444.24,263.11 445.67,261.99 447.09,260.92 448.52,259.89 449.94,258.9 451.37,257.95 452.79,257.03 454.22,256.15 455.65,255.31 457.07,254.5 458.5,253.72 459.92,252.97 461.35,252.25 462.77,251.56 464.2,250.9 465.62,250.26 467.05,249.65 468.48,249.06 469.9,248.5 471.33,247.95 472.75,247.43 474.18,246.93 475.6,246.45 477.03,245.98 478.45,245.54 479.88,245.11 481.31,244.7 482.73,244.31 484.16,243.93 485.58,243.56 487.01,243.21 488.43,242.88 489.86,242.55 491.28,242.24 492.71,241.95 494.14,241.66 495.56,241.38 496.99,241.12 498.41,240.87 499.84,240.62 501.26,240.39 502.69,240.16 504.11,239.94 505.54,239.74 506.97,239.54 508.39,239.34 509.82,239.16 511.24,238.98 512.67,238.81 514.09,238.65 515.52,238.49 516.94,238.34 518.37,238.2 519.8,238.06 521.22,237.92 522.65,237.79 524.07,237.67 525.5,237.55 526.92,237.44 528.35,237.33 529.77,237.22 531.2,237.12" stroke="#e8262a" stroke-width="1.2" fill="none" />
<polygon points="402.9,330.98 404.4,333.68 401.4,333.68" fill="#111"/>
<polygon points="405.75,317.74 407.25,320.44 404.25,320.44" fill="#111"/>
<polygon points="408.6,308.48 410.1,311.18 407.1,311.18" fill="#111"/>
<polygon points="411.45,300.53 412.95,303.23 409.95,303.23" fill="#111"/>
<polygon points="414.3,294.58 415.8,297.28 412.8,297.28" fill="#111"/>
<polygon points="417.16,290.6 418.66,293.3 415.66,293.3" fill="#111"/>
<polygon points="424.28,280.68 425.78,283.38 422.78,283.38" fill="#111"/>
<polygon points="431.41,272.73 432.91,275.43 429.91,275.43" fill="#111"/>
<polygon points="438.54,268.76 440.04,271.46 437.04,271.46" fill="#111"/>
<polygon points="445.67,264.13 447.17,266.83 444.17,266.83" fill="#111"/>
<polygon points="459.92,253.54 461.42,256.24 458.42,256.24" fill="#111"/>
<polygon points="474.18,246.92 475.68,249.62 472.68,249.62" fill="#111"/>
<polygon points="488.43,240.96 489.93,243.66 486.93,243.66" fill="#111"/>
<polygon points="502.69,237.65 504.19,240.35 501.19,240.35" fill="#111"/>
<polygon points="516.94,235 518.44,237.7 515.44,237.7" fill="#111"/>
<polygon points="531.2,233.02 532.7,235.72 529.7,235.72" fill="#111"/>
<text x="0" y="0" font-size="11.8" text-anchor="middle" fill="#111" transform="translate(7.3,383.7) scale(0.8,1)">E</text>
<text x="22" y="444" font-size="1" text-anchor="middle" font-weight="normal" fill="#222" ></text>
<text x="0" y="0" font-size="10.2" text-anchor="middle" fill="#222" transform="translate(23.3,440.5) rotate(-90)">Counts</text>
<polygon points="36.4,448 36.4,448 36.9,448 37.4,448 37.9,448 38.4,448 38.9,448 39.4,448 39.9,448 40.4,448 40.9,448 41.4,448 41.9,448 42.4,448 42.9,448 43.4,448 43.9,448 44.4,448 44.9,448 45.4,448 45.9,448 46.4,448 46.9,448 47.4,448 47.9,448 48.4,448 48.9,448 49.4,448 49.9,448 50.4,448 50.9,448 51.4,448 51.9,448 52.4,448 52.9,448 53.4,448 53.9,448 54.4,448 54.9,448 55.4,448 55.9,448 56.4,448 56.9,448 57.4,448 57.9,448 58.4,448 58.9,448 59.4,448 59.9,448 60.4,448 60.9,448 61.4,448 61.9,448 62.4,448 62.9,448 63.4,448 63.9,448 64.4,448 64.9,448 65.4,448 65.9,448 66.4,448 66.9,447.99 67.4,447.99 67.9,447.98 68.4,447.97 68.9,447.96 69.4,447.94 69.9,447.91 70.4,447.87 70.9,447.8 71.4,447.72 71.9,447.61 72.4,447.44 72.9,447.22 73.4,446.94 73.9,446.57 74.4,446.07 74.9,445.43 75.4,444.51 75.9,443.58 76.4,442.53 76.9,441.1 77.4,439.44 77.9,437.61 78.4,435.37 78.9,432.84 79.4,430.02 79.9,427.06 80.4,423.64 80.9,419.96 81.4,416.2 81.9,412.5 82.4,408.58 82.9,405.02 83.4,401.68 83.9,398.69 84.4,396.17 84.9,393.97 85.4,392.34 85.9,391.43 86.4,391.07 86.9,391.76 87.4,394.17 87.9,397.84 88.4,402.42 88.9,407.76 89.4,413.43 89.9,419.12 90.4,424.62 90.9,429.63 91.4,434.03 91.9,437.63 92.4,440.43 92.9,442.51 93.4,444.09 93.9,445.29 94.4,446.27 94.9,446.91 95.4,447.33 95.9,447.62 96.4,447.78 96.9,447.88 97.4,447.93 97.9,447.96 98.4,447.98 98.9,447.99 99.4,448 99.9,448 100.4,448 100.9,448 101.4,448 101.9,448 102.4,448 102.9,448 103.4,448 103.9,448 104.4,448 104.9,448 105.4,448 105.9,448 106.4,448 106.9,448 107.4,448 107.9,448 108.4,448 108.9,448 109.4,448 109.9,448 110.4,448 110.9,448 111.4,448 111.9,448 112.4,448 112.9,448 113.4,448 113.9,448 114.4,448 114.9,448 115.4,448 115.9,448 116.4,448 116.9,448 117.4,448 117.9,448 118.4,448 118.9,448 119.4,448 119.9,448 120.4,448 120.9,448 121.4,448 121.9,448 122.4,448 122.9,448 123.4,448 123.9,448 124.4,448 124.9,448 125.4,448 125.9,448 126.4,448 126.7,448" stroke="none" stroke-width="0" fill="#dcb4fb" />
<polyline points="36.4,448 36.9,448 37.4,448 37.9,448 38.4,448 38.9,448 39.4,448 39.9,448 40.4,448 40.9,448 41.4,448 41.9,448 42.4,448 42.9,448 43.4,448 43.9,448 44.4,448 44.9,448 45.4,448 45.9,448 46.4,448 46.9,448 47.4,448 47.9,448 48.4,448 48.9,448 49.4,448 49.9,448 50.4,448 50.9,448 51.4,448 51.9,448 52.4,448 52.9,448 53.4,448 53.9,448 54.4,448 54.9,448 55.4,448 55.9,448 56.4,448 56.9,448 57.4,448 57.9,448 58.4,448 58.9,448 59.4,448 59.9,448 60.4,448 60.9,448 61.4,448 61.9,448 62.4,448 62.9,448 63.4,448 63.9,448 64.4,448 64.9,448 65.4,448 65.9,448 66.4,448 66.9,447.99 67.4,447.99 67.9,447.98 68.4,447.97 68.9,447.96 69.4,447.94 69.9,447.91 70.4,447.87 70.9,447.8 71.4,447.72 71.9,447.61 72.4,447.44 72.9,447.22 73.4,446.94 73.9,446.57 74.4,446.07 74.9,445.43 75.4,444.51 75.9,443.58 76.4,442.53 76.9,441.1 77.4,439.44 77.9,437.61 78.4,435.37 78.9,432.84 79.4,430.02 79.9,427.06 80.4,423.64 80.9,419.96 81.4,416.2 81.9,412.5 82.4,408.58 82.9,405.02 83.4,401.68 83.9,398.69 84.4,396.17 84.9,393.97 85.4,392.34 85.9,391.43 86.4,391.07 86.9,391.76 87.4,394.17 87.9,397.84 88.4,402.42 88.9,407.76 89.4,413.43 89.9,419.12 90.4,424.62 90.9,429.63 91.4,434.03 91.9,437.63 92.4,440.43 92.9,442.51 93.4,444.09 93.9,445.29 94.4,446.27 94.9,446.91 95.4,447.33 95.9,447.62 96.4,447.78 96.9,447.88 97.4,447.93 97.9,447.96 98.4,447.98 98.9,447.99 99.4,448 99.9,448 100.4,448 100.9,448 101.4,448 101.9,448 102.4,448 102.9,448 103.4,448 103.9,448 104.4,448 104.9,448 105.4,448 105.9,448 106.4,448 106.9,448 107.4,448 107.9,448 108.4,448 108.9,448 109.4,448 109.9,448 110.4,448 110.9,448 111.4,448 111.9,448 112.4,448 112.9,448 113.4,448 113.9,448 114.4,448 114.9,448 115.4,448 115.9,448 116.4,448 116.9,448 117.4,448 117.9,448 118.4,448 118.9,448 119.4,448 119.9,448 120.4,448 120.9,448 121.4,448 121.9,448 122.4,448 122.9,448 123.4,448 123.9,448 124.4,448 124.9,448 125.4,448 125.9,448 126.4,448" stroke="#b470f2" stroke-width="0.7" fill="none" />
<polygon points="36.4,477.4 36.4,477.4 36.9,477.4 37.4,477.4 37.9,477.4 38.4,477.4 38.9,477.4 39.4,477.4 39.9,477.4 40.4,477.4 40.9,477.4 41.4,477.4 41.9,477.4 42.4,477.4 42.9,477.4 43.4,477.4 43.9,477.4 44.4,477.4 44.9,477.4 45.4,477.4 45.9,477.4 46.4,477.4 46.9,477.4 47.4,477.4 47.9,477.4 48.4,477.4 48.9,477.4 49.4,477.4 49.9,477.4 50.4,477.4 50.9,477.4 51.4,477.4 51.9,477.4 52.4,477.4 52.9,477.4 53.4,477.4 53.9,477.4 54.4,477.4 54.9,477.4 55.4,477.4 55.9,477.4 56.4,477.4 56.9,477.4 57.4,477.4 57.9,477.4 58.4,477.4 58.9,477.4 59.4,477.4 59.9,477.4 60.4,477.4 60.9,477.4 61.4,477.4 61.9,477.4 62.4,477.4 62.9,477.4 63.4,477.4 63.9,477.4 64.4,477.4 64.9,477.4 65.4,477.4 65.9,477.4 66.4,477.4 66.9,477.4 67.4,477.4 67.9,477.4 68.4,477.4 68.9,477.4 69.4,477.4 69.9,477.4 70.4,477.4 70.9,477.4 71.4,477.4 71.9,477.39 72.4,477.39 72.9,477.38 73.4,477.36 73.9,477.34 74.4,477.3 74.9,477.24 75.4,477.16 75.9,477 76.4,476.82 76.9,476.65 77.4,476.42 77.9,476.16 78.4,475.93 78.9,475.48 79.4,474.8 79.9,474.36 80.4,473.67 80.9,472.52 81.4,471.66 81.9,470.54 82.4,469.18 82.9,467.99 83.4,467.14 83.9,466 84.4,465.15 84.9,464.34 85.4,463.39 85.9,462.57 86.4,461.76 86.9,461.38 87.4,461.18 87.9,461 88.4,461.24 88.9,461.73 89.4,461.8 89.9,462.1 90.4,462.53 90.9,462.96 91.4,463.15 91.9,463.46 92.4,463.69 92.9,463.49 93.4,462.87 93.9,462.57 94.4,461.95 94.9,461.03 95.4,460.21 95.9,459.51 96.4,458.35 96.9,457.46 97.4,456.88 97.9,456.47 98.4,455.69 98.9,455.07 99.4,454.93 99.9,454.5 100.4,454.18 100.9,454.45 101.4,455.02 101.9,455.46 102.4,456.13 102.9,456.92 103.4,457.85 103.9,458.88 104.4,459.79 104.9,461.15 105.4,462.4 105.9,463.46 106.4,464.76 106.9,466.26 107.4,467.1 107.9,468.41 108.4,469.77 108.9,470.73 109.4,471.44 109.9,472.63 110.4,473.36 110.9,473.95 111.4,474.37 111.9,474.96 112.4,475.2 112.9,475.63 113.4,475.97 113.9,476.28 114.4,476.46 114.9,476.69 115.4,476.84 115.9,476.98 116.4,477.08 116.9,477.14 117.4,477.21 117.9,477.25 118.4,477.29 118.9,477.32 119.4,477.34 119.9,477.36 120.4,477.37 120.9,477.38 121.4,477.38 121.9,477.39 122.4,477.39 122.9,477.39 123.4,477.4 123.9,477.4 124.4,477.4 124.9,477.4 125.4,477.4 125.9,477.4 126.4,477.4 126.7,477.4" stroke="none" stroke-width="0" fill="#000" fill-opacity="0.41"/>
<polyline points="75.4,477.16 75.9,477 76.4,476.82 76.9,476.65 77.4,476.42 77.9,476.16 78.4,475.93 78.9,475.48 79.4,474.8 79.9,474.36 80.4,473.67 80.9,472.52 81.4,471.66 81.9,470.54 82.4,469.18 82.9,467.99 83.4,467.14 83.9,466 84.4,465.15 84.9,464.34 85.4,463.39 85.9,462.57 86.4,461.76 86.9,461.38 87.4,461.18 87.9,461 88.4,461.24 88.9,461.73 89.4,461.8 89.9,462.1 90.4,462.53 90.9,462.96 91.4,463.15 91.9,463.46 92.4,463.69 92.9,463.49 93.4,462.87 93.9,462.57 94.4,461.95 94.9,461.03 95.4,460.21 95.9,459.51 96.4,458.35 96.9,457.46 97.4,456.88 97.9,456.47 98.4,455.69 98.9,455.07 99.4,454.93 99.9,454.5 100.4,454.18 100.9,454.45 101.4,455.02 101.9,455.46 102.4,456.13 102.9,456.92 103.4,457.85 103.9,458.88 104.4,459.79 104.9,461.15 105.4,462.4 105.9,463.46 106.4,464.76 106.9,466.26 107.4,467.1 107.9,468.41 108.4,469.77 108.9,470.73 109.4,471.44 109.9,472.63 110.4,473.36 110.9,473.95 111.4,474.37 111.9,474.96 112.4,475.2 112.9,475.63 113.4,475.97 113.9,476.28 114.4,476.46 114.9,476.69 115.4,476.84 115.9,476.98 116.4,477.08 116.9,477.14" stroke="#222" stroke-width="0.6" fill="none" />
<text x="41.4" y="400.8" font-size="7.9" text-anchor="start" font-weight="normal" fill="#222" >97 nM</text>
<text x="37.7" y="485.6" font-size="4.4" text-anchor="middle" fill="#333">10<tspan font-size="3.0" dy="-1.5">0</tspan></text>
<text x="54.3" y="485.6" font-size="4.4" text-anchor="middle" fill="#333">10<tspan font-size="3.0" dy="-1.5">1</tspan></text>
<text x="70.9" y="485.6" font-size="4.4" text-anchor="middle" fill="#333">10<tspan font-size="3.0" dy="-1.5">2</tspan></text>
<text x="87.5" y="485.6" font-size="4.4" text-anchor="middle" fill="#333">10<tspan font-size="3.0" dy="-1.5">3</tspan></text>
<text x="104.1" y="485.6" font-size="4.4" text-anchor="middle" fill="#333">10<tspan font-size="3.0" dy="-1.5">4</tspan></text>
<text x="120.7" y="485.6" font-size="4.4" text-anchor="middle" fill="#333">10<tspan font-size="3.0" dy="-1.5">5</tspan></text>
<text x="82.05" y="495.6" font-size="6.0" text-anchor="middle" font-weight="normal" fill="#333" >530-30 Blue-A</text>
<line x1="36.1" y1="477.4" x2="36.1" y2="479.2" stroke="#333" stroke-width="0.5" />
<line x1="41.11" y1="477.4" x2="41.11" y2="478.4" stroke="#333" stroke-width="0.4" />
<line x1="44.04" y1="477.4" x2="44.04" y2="478.4" stroke="#333" stroke-width="0.4" />
<line x1="46.12" y1="477.4" x2="46.12" y2="478.4" stroke="#333" stroke-width="0.4" />
<line x1="47.74" y1="477.4" x2="47.74" y2="478.4" stroke="#333" stroke-width="0.4" />
<line x1="49.06" y1="477.4" x2="49.06" y2="478.4" stroke="#333" stroke-width="0.4" />
<line x1="50.17" y1="477.4" x2="50.17" y2="478.4" stroke="#333" stroke-width="0.4" />
<line x1="51.14" y1="477.4" x2="51.14" y2="478.4" stroke="#333" stroke-width="0.4" />
<line x1="51.99" y1="477.4" x2="51.99" y2="478.4" stroke="#333" stroke-width="0.4" />
<line x1="52.75" y1="477.4" x2="52.75" y2="479.2" stroke="#333" stroke-width="0.5" />
<line x1="57.76" y1="477.4" x2="57.76" y2="478.4" stroke="#333" stroke-width="0.4" />
<line x1="60.69" y1="477.4" x2="60.69" y2="478.4" stroke="#333" stroke-width="0.4" />
<line x1="62.77" y1="477.4" x2="62.77" y2="478.4" stroke="#333" stroke-width="0.4" />
<line x1="64.39" y1="477.4" x2="64.39" y2="478.4" stroke="#333" stroke-width="0.4" />
<line x1="65.71" y1="477.4" x2="65.71" y2="478.4" stroke="#333" stroke-width="0.4" />
<line x1="66.82" y1="477.4" x2="66.82" y2="478.4" stroke="#333" stroke-width="0.4" />
<line x1="67.79" y1="477.4" x2="67.79" y2="478.4" stroke="#333" stroke-width="0.4" />
<line x1="68.64" y1="477.4" x2="68.64" y2="478.4" stroke="#333" stroke-width="0.4" />
<line x1="69.4" y1="477.4" x2="69.4" y2="479.2" stroke="#333" stroke-width="0.5" />
<line x1="74.41" y1="477.4" x2="74.41" y2="478.4" stroke="#333" stroke-width="0.4" />
<line x1="77.34" y1="477.4" x2="77.34" y2="478.4" stroke="#333" stroke-width="0.4" />
<line x1="79.42" y1="477.4" x2="79.42" y2="478.4" stroke="#333" stroke-width="0.4" />
<line x1="81.04" y1="477.4" x2="81.04" y2="478.4" stroke="#333" stroke-width="0.4" />
<line x1="82.36" y1="477.4" x2="82.36" y2="478.4" stroke="#333" stroke-width="0.4" />
<line x1="83.47" y1="477.4" x2="83.47" y2="478.4" stroke="#333" stroke-width="0.4" />
<line x1="84.44" y1="477.4" x2="84.44" y2="478.4" stroke="#333" stroke-width="0.4" />
<line x1="85.29" y1="477.4" x2="85.29" y2="478.4" stroke="#333" stroke-width="0.4" />
<line x1="86.05" y1="477.4" x2="86.05" y2="479.2" stroke="#333" stroke-width="0.5" />
<line x1="91.06" y1="477.4" x2="91.06" y2="478.4" stroke="#333" stroke-width="0.4" />
<line x1="93.99" y1="477.4" x2="93.99" y2="478.4" stroke="#333" stroke-width="0.4" />
<line x1="96.07" y1="477.4" x2="96.07" y2="478.4" stroke="#333" stroke-width="0.4" />
<line x1="97.69" y1="477.4" x2="97.69" y2="478.4" stroke="#333" stroke-width="0.4" />
<line x1="99.01" y1="477.4" x2="99.01" y2="478.4" stroke="#333" stroke-width="0.4" />
<line x1="100.12" y1="477.4" x2="100.12" y2="478.4" stroke="#333" stroke-width="0.4" />
<line x1="101.09" y1="477.4" x2="101.09" y2="478.4" stroke="#333" stroke-width="0.4" />
<line x1="101.94" y1="477.4" x2="101.94" y2="478.4" stroke="#333" stroke-width="0.4" />
<line x1="102.7" y1="477.4" x2="102.7" y2="479.2" stroke="#333" stroke-width="0.5" />
<line x1="107.71" y1="477.4" x2="107.71" y2="478.4" stroke="#333" stroke-width="0.4" />
<line x1="110.64" y1="477.4" x2="110.64" y2="478.4" stroke="#333" stroke-width="0.4" />
<line x1="112.72" y1="477.4" x2="112.72" y2="478.4" stroke="#333" stroke-width="0.4" />
<line x1="114.34" y1="477.4" x2="114.34" y2="478.4" stroke="#333" stroke-width="0.4" />
<line x1="115.66" y1="477.4" x2="115.66" y2="478.4" stroke="#333" stroke-width="0.4" />
<line x1="116.77" y1="477.4" x2="116.77" y2="478.4" stroke="#333" stroke-width="0.4" />
<line x1="117.74" y1="477.4" x2="117.74" y2="478.4" stroke="#333" stroke-width="0.4" />
<line x1="118.59" y1="477.4" x2="118.59" y2="478.4" stroke="#333" stroke-width="0.4" />
<line x1="119.35" y1="477.4" x2="119.35" y2="479.2" stroke="#333" stroke-width="0.5" />
<polygon points="126.7,448 126.7,448 127.2,448 127.7,448 128.2,448 128.7,448 129.2,448 129.7,448 130.2,448 130.7,448 131.2,448 131.7,448 132.2,448 132.7,448 133.2,448 133.7,448 134.2,448 134.7,448 135.2,448 135.7,448 136.2,448 136.7,448 137.2,448 137.7,448 138.2,448 138.7,448 139.2,448 139.7,448 140.2,448 140.7,448 141.2,448 141.7,448 142.2,448 142.7,448 143.2,448 143.7,448 144.2,448 144.7,448 145.2,448 145.7,448 146.2,448 146.7,448 147.2,448 147.7,448 148.2,448 148.7,448 149.2,448 149.7,448 150.2,448 150.7,448 151.2,448 151.7,448 152.2,448 152.7,448 153.2,448 153.7,448 154.2,448 154.7,448 155.2,448 155.7,448 156.2,448 156.7,448 157.2,448 157.7,448 158.2,448 158.7,448 159.2,448 159.7,447.99 160.2,447.99 160.7,447.98 161.2,447.97 161.7,447.95 162.2,447.92 162.7,447.87 163.2,447.79 163.7,447.66 164.2,447.49 164.7,447.24 165.2,446.86 165.7,446.4 166.2,445.69 166.7,444.72 167.2,443.55 167.7,441.9 168.2,439.82 168.7,437.31 169.2,434.35 169.7,431.01 170.2,427.25 170.7,423.1 171.2,418.62 171.7,413.98 172.2,409.22 172.7,404.75 173.2,400.67 173.7,397.25 174.2,394.81 174.7,393.42 175.2,392.95 175.7,393.87 176.2,396.46 176.7,400.21 177.2,405.11 177.7,410.56 178.2,416.54 178.7,422.22 179.2,427.64 179.7,432.15 180.2,436.25 180.7,439.12 181.2,441.5 181.7,443.05 182.2,444.36 182.7,445.18 183.2,445.71 183.7,446.04 184.2,446.28 184.7,446.32 185.2,446.28 185.7,446.29 186.2,446.26 186.7,446.19 187.2,446.13 187.7,446.08 188.2,446.07 188.7,445.99 189.2,445.87 189.7,445.83 190.2,445.81 190.7,445.77 191.2,445.78 191.7,445.87 192.2,445.96 192.7,446 193.2,446.08 193.7,446.09 194.2,446.1 194.7,446.12 195.2,446.25 195.7,446.3 196.2,446.42 196.7,446.57 197.2,446.62 197.7,446.66 198.2,446.74 198.7,446.82 199.2,446.91 199.7,447.04 200.2,447.14 200.7,447.21 201.2,447.29 201.7,447.37 202.2,447.43 202.7,447.48 203.2,447.54 203.7,447.59 204.2,447.62 204.7,447.7 205.2,447.74 205.7,447.78 206.2,447.81 206.7,447.84 207.2,447.86 207.7,447.88 208.2,447.9 208.7,447.92 209.2,447.93 209.7,447.94 210.2,447.95 210.7,447.96 211.2,447.97 211.7,447.98 212.2,447.98 212.7,447.98 213.2,447.99 213.7,447.99 214.2,447.99 214.7,447.99 215.2,448 215.7,448 216.2,448 216.7,448 217.2,448 217.5,448" stroke="none" stroke-width="0" fill="#dcb4fb" />
<polyline points="126.7,448 127.2,448 127.7,448 128.2,448 128.7,448 129.2,448 129.7,448 130.2,448 130.7,448 131.2,448 131.7,448 132.2,448 132.7,448 133.2,448 133.7,448 134.2,448 134.7,448 135.2,448 135.7,448 136.2,448 136.7,448 137.2,448 137.7,448 138.2,448 138.7,448 139.2,448 139.7,448 140.2,448 140.7,448 141.2,448 141.7,448 142.2,448 142.7,448 143.2,448 143.7,448 144.2,448 144.7,448 145.2,448 145.7,448 146.2,448 146.7,448 147.2,448 147.7,448 148.2,448 148.7,448 149.2,448 149.7,448 150.2,448 150.7,448 151.2,448 151.7,448 152.2,448 152.7,448 153.2,448 153.7,448 154.2,448 154.7,448 155.2,448 155.7,448 156.2,448 156.7,448 157.2,448 157.7,448 158.2,448 158.7,448 159.2,448 159.7,447.99 160.2,447.99 160.7,447.98 161.2,447.97 161.7,447.95 162.2,447.92 162.7,447.87 163.2,447.79 163.7,447.66 164.2,447.49 164.7,447.24 165.2,446.86 165.7,446.4 166.2,445.69 166.7,444.72 167.2,443.55 167.7,441.9 168.2,439.82 168.7,437.31 169.2,434.35 169.7,431.01 170.2,427.25 170.7,423.1 171.2,418.62 171.7,413.98 172.2,409.22 172.7,404.75 173.2,400.67 173.7,397.25 174.2,394.81 174.7,393.42 175.2,392.95 175.7,393.87 176.2,396.46 176.7,400.21 177.2,405.11 177.7,410.56 178.2,416.54 178.7,422.22 179.2,427.64 179.7,432.15 180.2,436.25 180.7,439.12 181.2,441.5 181.7,443.05 182.2,444.36 182.7,445.18 183.2,445.71 183.7,446.04 184.2,446.28 184.7,446.32 185.2,446.28 185.7,446.29 186.2,446.26 186.7,446.19 187.2,446.13 187.7,446.08 188.2,446.07 188.7,445.99 189.2,445.87 189.7,445.83 190.2,445.81 190.7,445.77 191.2,445.78 191.7,445.87 192.2,445.96 192.7,446 193.2,446.08 193.7,446.09 194.2,446.1 194.7,446.12 195.2,446.25 195.7,446.3 196.2,446.42 196.7,446.57 197.2,446.62 197.7,446.66 198.2,446.74 198.7,446.82 199.2,446.91 199.7,447.04 200.2,447.14 200.7,447.21 201.2,447.29 201.7,447.37 202.2,447.43 202.7,447.48 203.2,447.54 203.7,447.59 204.2,447.62 204.7,447.7 205.2,447.74 205.7,447.78 206.2,447.81 206.7,447.84 207.2,447.86 207.7,447.88 208.2,447.9 208.7,447.92 209.2,447.93 209.7,447.94 210.2,447.95 210.7,447.96 211.2,447.97 211.7,447.98 212.2,447.98 212.7,447.98 213.2,447.99 213.7,447.99 214.2,447.99 214.7,447.99 215.2,448 215.7,448 216.2,448 216.7,448 217.2,448" stroke="#b470f2" stroke-width="0.7" fill="none" />
<polygon points="126.7,477.4 126.7,477.4 127.2,477.4 127.7,477.4 128.2,477.4 128.7,477.4 129.2,477.4 129.7,477.4 130.2,477.4 130.7,477.4 131.2,477.4 131.7,477.4 132.2,477.4 132.7,477.4 133.2,477.4 133.7,477.4 134.2,477.4 134.7,477.4 135.2,477.4 135.7,477.4 136.2,477.4 136.7,477.4 137.2,477.4 137.7,477.4 138.2,477.4 138.7,477.4 139.2,477.4 139.7,477.4 140.2,477.4 140.7,477.4 141.2,477.4 141.7,477.4 142.2,477.4 142.7,477.4 143.2,477.4 143.7,477.4 144.2,477.4 144.7,477.4 145.2,477.4 145.7,477.4 146.2,477.4 146.7,477.4 147.2,477.4 147.7,477.4 148.2,477.4 148.7,477.4 149.2,477.4 149.7,477.4 150.2,477.4 150.7,477.4 151.2,477.4 151.7,477.4 152.2,477.4 152.7,477.4 153.2,477.4 153.7,477.4 154.2,477.4 154.7,477.4 155.2,477.4 155.7,477.4 156.2,477.4 156.7,477.4 157.2,477.4 157.7,477.4 158.2,477.4 158.7,477.4 159.2,477.4 159.7,477.4 160.2,477.4 160.7,477.4 161.2,477.4 161.7,477.4 162.2,477.4 162.7,477.4 163.2,477.4 163.7,477.4 164.2,477.4 164.7,477.4 165.2,477.4 165.7,477.4 166.2,477.4 166.7,477.4 167.2,477.4 167.7,477.4 168.2,477.4 168.7,477.4 169.2,477.4 169.7,477.39 170.2,477.39 170.7,477.38 171.2,477.37 171.7,477.36 172.2,477.34 172.7,477.31 173.2,477.26 173.7,477.19 174.2,477.11 174.7,476.99 175.2,476.86 175.7,476.68 176.2,476.44 176.7,476.29 177.2,476.05 177.7,475.68 178.2,475.12 178.7,474.45 179.2,473.66 179.7,472.79 180.2,471.88 180.7,471.07 181.2,470.5 181.7,469.53 182.2,468.44 182.7,467.41 183.2,466.51 183.7,465.43 184.2,464.31 184.7,463.58 185.2,462.64 185.7,461.31 186.2,459.99 186.7,458.75 187.2,457.12 187.7,455.41 188.2,454.05 188.7,452.62 189.2,451.19 189.7,450.13 190.2,449.16 190.7,448.31 191.2,447.79 191.7,448.03 192.2,447.87 192.7,448.19 193.2,448.55 193.7,449.17 194.2,449.89 194.7,451.02 195.2,452.47 195.7,453.91 196.2,455.31 196.7,456.8 197.2,458.44 197.7,459.98 198.2,461.69 198.7,463.52 199.2,465.02 199.7,466.1 200.2,467.04 200.7,468.15 201.2,469.05 201.7,469.82 202.2,471.02 202.7,472.11 203.2,472.79 203.7,473.58 204.2,474.36 204.7,474.93 205.2,475.31 205.7,475.7 206.2,476.08 206.7,476.29 207.2,476.46 207.7,476.63 208.2,476.79 208.7,476.93 209.2,477.04 209.7,477.14 210.2,477.2 210.7,477.25 211.2,477.29 211.7,477.31 212.2,477.34 212.7,477.35 213.2,477.37 213.7,477.38 214.2,477.38 214.7,477.39 215.2,477.39 215.7,477.39 216.2,477.4 216.7,477.4 217.2,477.4 217.5,477.4" stroke="none" stroke-width="0" fill="#000" fill-opacity="0.41"/>
<polyline points="173.7,477.19 174.2,477.11 174.7,476.99 175.2,476.86 175.7,476.68 176.2,476.44 176.7,476.29 177.2,476.05 177.7,475.68 178.2,475.12 178.7,474.45 179.2,473.66 179.7,472.79 180.2,471.88 180.7,471.07 181.2,470.5 181.7,469.53 182.2,468.44 182.7,467.41 183.2,466.51 183.7,465.43 184.2,464.31 184.7,463.58 185.2,462.64 185.7,461.31 186.2,459.99 186.7,458.75 187.2,457.12 187.7,455.41 188.2,454.05 188.7,452.62 189.2,451.19 189.7,450.13 190.2,449.16 190.7,448.31 191.2,447.79 191.7,448.03 192.2,447.87 192.7,448.19 193.2,448.55 193.7,449.17 194.2,449.89 194.7,451.02 195.2,452.47 195.7,453.91 196.2,455.31 196.7,456.8 197.2,458.44 197.7,459.98 198.2,461.69 198.7,463.52 199.2,465.02 199.7,466.1 200.2,467.04 200.7,468.15 201.2,469.05 201.7,469.82 202.2,471.02 202.7,472.11 203.2,472.79 203.7,473.58 204.2,474.36 204.7,474.93 205.2,475.31 205.7,475.7 206.2,476.08 206.7,476.29 207.2,476.46 207.7,476.63 208.2,476.79 208.7,476.93 209.2,477.04 209.7,477.14" stroke="#222" stroke-width="0.6" fill="none" />
<text x="131.4" y="397.7" font-size="7.9" text-anchor="start" font-weight="normal" fill="#222" >24 nM</text>
<text x="128" y="485.6" font-size="4.4" text-anchor="middle" fill="#333">10<tspan font-size="3.0" dy="-1.5">0</tspan></text>
<text x="144.6" y="485.6" font-size="4.4" text-anchor="middle" fill="#333">10<tspan font-size="3.0" dy="-1.5">1</tspan></text>
<text x="161.2" y="485.6" font-size="4.4" text-anchor="middle" fill="#333">10<tspan font-size="3.0" dy="-1.5">2</tspan></text>
<text x="177.8" y="485.6" font-size="4.4" text-anchor="middle" fill="#333">10<tspan font-size="3.0" dy="-1.5">3</tspan></text>
<text x="194.4" y="485.6" font-size="4.4" text-anchor="middle" fill="#333">10<tspan font-size="3.0" dy="-1.5">4</tspan></text>
<text x="211" y="485.6" font-size="4.4" text-anchor="middle" fill="#333">10<tspan font-size="3.0" dy="-1.5">5</tspan></text>
<text x="172.6" y="495.6" font-size="6.0" text-anchor="middle" font-weight="normal" fill="#333" >530-30 Blue-A</text>
<line x1="126.4" y1="477.4" x2="126.4" y2="479.2" stroke="#333" stroke-width="0.5" />
<line x1="131.41" y1="477.4" x2="131.41" y2="478.4" stroke="#333" stroke-width="0.4" />
<line x1="134.34" y1="477.4" x2="134.34" y2="478.4" stroke="#333" stroke-width="0.4" />
<line x1="136.42" y1="477.4" x2="136.42" y2="478.4" stroke="#333" stroke-width="0.4" />
<line x1="138.04" y1="477.4" x2="138.04" y2="478.4" stroke="#333" stroke-width="0.4" />
<line x1="139.36" y1="477.4" x2="139.36" y2="478.4" stroke="#333" stroke-width="0.4" />
<line x1="140.47" y1="477.4" x2="140.47" y2="478.4" stroke="#333" stroke-width="0.4" />
<line x1="141.44" y1="477.4" x2="141.44" y2="478.4" stroke="#333" stroke-width="0.4" />
<line x1="142.29" y1="477.4" x2="142.29" y2="478.4" stroke="#333" stroke-width="0.4" />
<line x1="143.05" y1="477.4" x2="143.05" y2="479.2" stroke="#333" stroke-width="0.5" />
<line x1="148.06" y1="477.4" x2="148.06" y2="478.4" stroke="#333" stroke-width="0.4" />
<line x1="150.99" y1="477.4" x2="150.99" y2="478.4" stroke="#333" stroke-width="0.4" />
<line x1="153.07" y1="477.4" x2="153.07" y2="478.4" stroke="#333" stroke-width="0.4" />
<line x1="154.69" y1="477.4" x2="154.69" y2="478.4" stroke="#333" stroke-width="0.4" />
<line x1="156.01" y1="477.4" x2="156.01" y2="478.4" stroke="#333" stroke-width="0.4" />
<line x1="157.12" y1="477.4" x2="157.12" y2="478.4" stroke="#333" stroke-width="0.4" />
<line x1="158.09" y1="477.4" x2="158.09" y2="478.4" stroke="#333" stroke-width="0.4" />
<line x1="158.94" y1="477.4" x2="158.94" y2="478.4" stroke="#333" stroke-width="0.4" />
<line x1="159.7" y1="477.4" x2="159.7" y2="479.2" stroke="#333" stroke-width="0.5" />
<line x1="164.71" y1="477.4" x2="164.71" y2="478.4" stroke="#333" stroke-width="0.4" />
<line x1="167.64" y1="477.4" x2="167.64" y2="478.4" stroke="#333" stroke-width="0.4" />
<line x1="169.72" y1="477.4" x2="169.72" y2="478.4" stroke="#333" stroke-width="0.4" />
<line x1="171.34" y1="477.4" x2="171.34" y2="478.4" stroke="#333" stroke-width="0.4" />
<line x1="172.66" y1="477.4" x2="172.66" y2="478.4" stroke="#333" stroke-width="0.4" />
<line x1="173.77" y1="477.4" x2="173.77" y2="478.4" stroke="#333" stroke-width="0.4" />
<line x1="174.74" y1="477.4" x2="174.74" y2="478.4" stroke="#333" stroke-width="0.4" />
<line x1="175.59" y1="477.4" x2="175.59" y2="478.4" stroke="#333" stroke-width="0.4" />
<line x1="176.35" y1="477.4" x2="176.35" y2="479.2" stroke="#333" stroke-width="0.5" />
<line x1="181.36" y1="477.4" x2="181.36" y2="478.4" stroke="#333" stroke-width="0.4" />
<line x1="184.29" y1="477.4" x2="184.29" y2="478.4" stroke="#333" stroke-width="0.4" />
<line x1="186.37" y1="477.4" x2="186.37" y2="478.4" stroke="#333" stroke-width="0.4" />
<line x1="187.99" y1="477.4" x2="187.99" y2="478.4" stroke="#333" stroke-width="0.4" />
<line x1="189.31" y1="477.4" x2="189.31" y2="478.4" stroke="#333" stroke-width="0.4" />
<line x1="190.42" y1="477.4" x2="190.42" y2="478.4" stroke="#333" stroke-width="0.4" />
<line x1="191.39" y1="477.4" x2="191.39" y2="478.4" stroke="#333" stroke-width="0.4" />
<line x1="192.24" y1="477.4" x2="192.24" y2="478.4" stroke="#333" stroke-width="0.4" />
<line x1="193" y1="477.4" x2="193" y2="479.2" stroke="#333" stroke-width="0.5" />
<line x1="198.01" y1="477.4" x2="198.01" y2="478.4" stroke="#333" stroke-width="0.4" />
<line x1="200.94" y1="477.4" x2="200.94" y2="478.4" stroke="#333" stroke-width="0.4" />
<line x1="203.02" y1="477.4" x2="203.02" y2="478.4" stroke="#333" stroke-width="0.4" />
<line x1="204.64" y1="477.4" x2="204.64" y2="478.4" stroke="#333" stroke-width="0.4" />
<line x1="205.96" y1="477.4" x2="205.96" y2="478.4" stroke="#333" stroke-width="0.4" />
<line x1="207.07" y1="477.4" x2="207.07" y2="478.4" stroke="#333" stroke-width="0.4" />
<line x1="208.04" y1="477.4" x2="208.04" y2="478.4" stroke="#333" stroke-width="0.4" />
<line x1="208.89" y1="477.4" x2="208.89" y2="478.4" stroke="#333" stroke-width="0.4" />
<line x1="209.65" y1="477.4" x2="209.65" y2="479.2" stroke="#333" stroke-width="0.5" />
<polygon points="217.5,448 217.5,448 218,448 218.5,448 219,448 219.5,448 220,448 220.5,448 221,448 221.5,448 222,448 222.5,448 223,448 223.5,448 224,448 224.5,448 225,448 225.5,448 226,448 226.5,448 227,448 227.5,448 228,448 228.5,448 229,448 229.5,448 230,448 230.5,448 231,448 231.5,448 232,448 232.5,448 233,448 233.5,448 234,448 234.5,448 235,448 235.5,448 236,448 236.5,448 237,448 237.5,448 238,448 238.5,448 239,448 239.5,448 240,448 240.5,448 241,448 241.5,448 242,448 242.5,448 243,448 243.5,448 244,448 244.5,448 245,448 245.5,448 246,448 246.5,448 247,448 247.5,448 248,448 248.5,448 249,448 249.5,448 250,447.99 250.5,447.99 251,447.99 251.5,447.99 252,447.98 252.5,447.97 253,447.95 253.5,447.93 254,447.89 254.5,447.83 255,447.73 255.5,447.58 256,447.41 256.5,447.13 257,446.71 257.5,446.14 258,445.45 258.5,444.31 259,442.86 259.5,441.22 260,439.22 260.5,436.79 261,434 261.5,430.62 262,426.78 262.5,422.54 263,418.02 263.5,413.32 264,408.72 264.5,404.48 265,400.68 265.5,397.37 266,394.92 266.5,393.38 267,392.8 267.5,393.67 268,395.85 268.5,399.28 269,403.61 269.5,408.48 270,413.47 270.5,418.52 271,423 271.5,427.13 272,430.54 272.5,433.25 273,435.43 273.5,437.21 274,438.25 274.5,439.01 275,439.48 275.5,439.7 276,439.72 276.5,439.55 277,439.36 277.5,439.21 278,438.81 278.5,438.5 279,438.44 279.5,438.24 280,438.11 280.5,438.19 281,438.19 281.5,438.07 282,438.18 282.5,438.19 283,438.14 283.5,438.33 284,438.56 284.5,438.99 285,439.26 285.5,439.82 286,440.16 286.5,440.58 287,440.87 287.5,441.38 288,441.75 288.5,442.19 289,442.76 289.5,443.32 290,443.76 290.5,444.18 291,444.71 291.5,445.04 292,445.34 292.5,445.71 293,445.97 293.5,446.17 294,446.43 294.5,446.62 295,446.76 295.5,446.95 296,447.13 296.5,447.27 297,447.42 297.5,447.54 298,447.61 298.5,447.69 299,447.73 299.5,447.78 300,447.83 300.5,447.86 301,447.89 301.5,447.91 302,447.93 302.5,447.95 303,447.96 303.5,447.97 304,447.97 304.5,447.98 305,447.99 305.5,447.99 306,447.99 306.5,447.99 307,448 307.5,448 307.6,448" stroke="none" stroke-width="0" fill="#dcb4fb" />
<polyline points="217.5,448 218,448 218.5,448 219,448 219.5,448 220,448 220.5,448 221,448 221.5,448 222,448 222.5,448 223,448 223.5,448 224,448 224.5,448 225,448 225.5,448 226,448 226.5,448 227,448 227.5,448 228,448 228.5,448 229,448 229.5,448 230,448 230.5,448 231,448 231.5,448 232,448 232.5,448 233,448 233.5,448 234,448 234.5,448 235,448 235.5,448 236,448 236.5,448 237,448 237.5,448 238,448 238.5,448 239,448 239.5,448 240,448 240.5,448 241,448 241.5,448 242,448 242.5,448 243,448 243.5,448 244,448 244.5,448 245,448 245.5,448 246,448 246.5,448 247,448 247.5,448 248,448 248.5,448 249,448 249.5,448 250,447.99 250.5,447.99 251,447.99 251.5,447.99 252,447.98 252.5,447.97 253,447.95 253.5,447.93 254,447.89 254.5,447.83 255,447.73 255.5,447.58 256,447.41 256.5,447.13 257,446.71 257.5,446.14 258,445.45 258.5,444.31 259,442.86 259.5,441.22 260,439.22 260.5,436.79 261,434 261.5,430.62 262,426.78 262.5,422.54 263,418.02 263.5,413.32 264,408.72 264.5,404.48 265,400.68 265.5,397.37 266,394.92 266.5,393.38 267,392.8 267.5,393.67 268,395.85 268.5,399.28 269,403.61 269.5,408.48 270,413.47 270.5,418.52 271,423 271.5,427.13 272,430.54 272.5,433.25 273,435.43 273.5,437.21 274,438.25 274.5,439.01 275,439.48 275.5,439.7 276,439.72 276.5,439.55 277,439.36 277.5,439.21 278,438.81 278.5,438.5 279,438.44 279.5,438.24 280,438.11 280.5,438.19 281,438.19 281.5,438.07 282,438.18 282.5,438.19 283,438.14 283.5,438.33 284,438.56 284.5,438.99 285,439.26 285.5,439.82 286,440.16 286.5,440.58 287,440.87 287.5,441.38 288,441.75 288.5,442.19 289,442.76 289.5,443.32 290,443.76 290.5,444.18 291,444.71 291.5,445.04 292,445.34 292.5,445.71 293,445.97 293.5,446.17 294,446.43 294.5,446.62 295,446.76 295.5,446.95 296,447.13 296.5,447.27 297,447.42 297.5,447.54 298,447.61 298.5,447.69 299,447.73 299.5,447.78 300,447.83 300.5,447.86 301,447.89 301.5,447.91 302,447.93 302.5,447.95 303,447.96 303.5,447.97 304,447.97 304.5,447.98 305,447.99 305.5,447.99 306,447.99 306.5,447.99 307,448 307.5,448" stroke="#b470f2" stroke-width="0.7" fill="none" />
<polygon points="217.5,477.4 217.5,477.4 218,477.4 218.5,477.4 219,477.4 219.5,477.4 220,477.4 220.5,477.4 221,477.4 221.5,477.4 222,477.4 222.5,477.4 223,477.4 223.5,477.4 224,477.4 224.5,477.4 225,477.4 225.5,477.4 226,477.4 226.5,477.4 227,477.4 227.5,477.4 228,477.4 228.5,477.4 229,477.4 229.5,477.4 230,477.4 230.5,477.4 231,477.4 231.5,477.4 232,477.4 232.5,477.4 233,477.4 233.5,477.4 234,477.4 234.5,477.4 235,477.4 235.5,477.4 236,477.4 236.5,477.4 237,477.4 237.5,477.4 238,477.4 238.5,477.4 239,477.4 239.5,477.4 240,477.4 240.5,477.4 241,477.4 241.5,477.4 242,477.4 242.5,477.4 243,477.4 243.5,477.4 244,477.4 244.5,477.4 245,477.4 245.5,477.4 246,477.4 246.5,477.4 247,477.4 247.5,477.4 248,477.4 248.5,477.4 249,477.4 249.5,477.4 250,477.4 250.5,477.4 251,477.4 251.5,477.4 252,477.4 252.5,477.4 253,477.4 253.5,477.4 254,477.4 254.5,477.4 255,477.4 255.5,477.4 256,477.4 256.5,477.4 257,477.4 257.5,477.4 258,477.4 258.5,477.4 259,477.4 259.5,477.4 260,477.4 260.5,477.4 261,477.4 261.5,477.4 262,477.4 262.5,477.4 263,477.4 263.5,477.39 264,477.39 264.5,477.38 265,477.37 265.5,477.36 266,477.34 266.5,477.32 267,477.28 267.5,477.23 268,477.16 268.5,477.11 269,476.99 269.5,476.83 270,476.67 270.5,476.36 271,476.03 271.5,475.59 272,474.97 272.5,474.2 273,473.46 273.5,472.48 274,471.04 274.5,469.55 275,468.13 275.5,466.45 276,464.59 276.5,462.69 277,460.67 277.5,457.9 278,455.13 278.5,452.29 279,449.29 279.5,446.44 280,443.91 280.5,441.3 281,439.04 281.5,437.27 282,435.71 282.5,434.37 283,433.76 283.5,433.64 284,433.92 284.5,434.26 285,435.23 285.5,436.35 286,437.67 286.5,439.06 287,440.7 287.5,442.44 288,444.48 288.5,446.45 289,448.65 289.5,450.92 290,453.25 290.5,455.63 291,457.82 291.5,459.62 292,461.42 292.5,463.25 293,464.6 293.5,466.2 294,467.98 294.5,469.43 295,470.49 295.5,471.89 296,472.68 296.5,473.18 297,473.85 297.5,474.37 298,474.89 298.5,475.26 299,475.68 299.5,476.1 300,476.42 300.5,476.56 301,476.79 301.5,476.93 302,477 302.5,477.11 303,477.18 303.5,477.23 304,477.27 304.5,477.3 305,477.33 305.5,477.35 306,477.36 306.5,477.37 307,477.38 307.5,477.39 307.6,477.4" stroke="none" stroke-width="0" fill="#000" fill-opacity="0.41"/>
<polyline points="268,477.16 268.5,477.11 269,476.99 269.5,476.83 270,476.67 270.5,476.36 271,476.03 271.5,475.59 272,474.97 272.5,474.2 273,473.46 273.5,472.48 274,471.04 274.5,469.55 275,468.13 275.5,466.45 276,464.59 276.5,462.69 277,460.67 277.5,457.9 278,455.13 278.5,452.29 279,449.29 279.5,446.44 280,443.91 280.5,441.3 281,439.04 281.5,437.27 282,435.71 282.5,434.37 283,433.76 283.5,433.64 284,433.92 284.5,434.26 285,435.23 285.5,436.35 286,437.67 286.5,439.06 287,440.7 287.5,442.44 288,444.48 288.5,446.45 289,448.65 289.5,450.92 290,453.25 290.5,455.63 291,457.82 291.5,459.62 292,461.42 292.5,463.25 293,464.6 293.5,466.2 294,467.98 294.5,469.43 295,470.49 295.5,471.89 296,472.68 296.5,473.18 297,473.85 297.5,474.37 298,474.89 298.5,475.26 299,475.68 299.5,476.1 300,476.42 300.5,476.56 301,476.79 301.5,476.93 302,477 302.5,477.11 303,477.18" stroke="#222" stroke-width="0.6" fill="none" />
<text x="223.5" y="398.7" font-size="7.9" text-anchor="start" font-weight="normal" fill="#222" >6 nM</text>
<text x="218.8" y="485.6" font-size="4.4" text-anchor="middle" fill="#333">10<tspan font-size="3.0" dy="-1.5">0</tspan></text>
<text x="235.4" y="485.6" font-size="4.4" text-anchor="middle" fill="#333">10<tspan font-size="3.0" dy="-1.5">1</tspan></text>
<text x="252" y="485.6" font-size="4.4" text-anchor="middle" fill="#333">10<tspan font-size="3.0" dy="-1.5">2</tspan></text>
<text x="268.6" y="485.6" font-size="4.4" text-anchor="middle" fill="#333">10<tspan font-size="3.0" dy="-1.5">3</tspan></text>
<text x="285.2" y="485.6" font-size="4.4" text-anchor="middle" fill="#333">10<tspan font-size="3.0" dy="-1.5">4</tspan></text>
<text x="301.8" y="485.6" font-size="4.4" text-anchor="middle" fill="#333">10<tspan font-size="3.0" dy="-1.5">5</tspan></text>
<text x="263.05" y="495.6" font-size="6.0" text-anchor="middle" font-weight="normal" fill="#333" >530-30 Blue-A</text>
<line x1="217.2" y1="477.4" x2="217.2" y2="479.2" stroke="#333" stroke-width="0.5" />
<line x1="222.21" y1="477.4" x2="222.21" y2="478.4" stroke="#333" stroke-width="0.4" />
<line x1="225.14" y1="477.4" x2="225.14" y2="478.4" stroke="#333" stroke-width="0.4" />
<line x1="227.22" y1="477.4" x2="227.22" y2="478.4" stroke="#333" stroke-width="0.4" />
<line x1="228.84" y1="477.4" x2="228.84" y2="478.4" stroke="#333" stroke-width="0.4" />
<line x1="230.16" y1="477.4" x2="230.16" y2="478.4" stroke="#333" stroke-width="0.4" />
<line x1="231.27" y1="477.4" x2="231.27" y2="478.4" stroke="#333" stroke-width="0.4" />
<line x1="232.24" y1="477.4" x2="232.24" y2="478.4" stroke="#333" stroke-width="0.4" />
<line x1="233.09" y1="477.4" x2="233.09" y2="478.4" stroke="#333" stroke-width="0.4" />
<line x1="233.85" y1="477.4" x2="233.85" y2="479.2" stroke="#333" stroke-width="0.5" />
<line x1="238.86" y1="477.4" x2="238.86" y2="478.4" stroke="#333" stroke-width="0.4" />
<line x1="241.79" y1="477.4" x2="241.79" y2="478.4" stroke="#333" stroke-width="0.4" />
<line x1="243.87" y1="477.4" x2="243.87" y2="478.4" stroke="#333" stroke-width="0.4" />
<line x1="245.49" y1="477.4" x2="245.49" y2="478.4" stroke="#333" stroke-width="0.4" />
<line x1="246.81" y1="477.4" x2="246.81" y2="478.4" stroke="#333" stroke-width="0.4" />
<line x1="247.92" y1="477.4" x2="247.92" y2="478.4" stroke="#333" stroke-width="0.4" />
<line x1="248.89" y1="477.4" x2="248.89" y2="478.4" stroke="#333" stroke-width="0.4" />
<line x1="249.74" y1="477.4" x2="249.74" y2="478.4" stroke="#333" stroke-width="0.4" />
<line x1="250.5" y1="477.4" x2="250.5" y2="479.2" stroke="#333" stroke-width="0.5" />
<line x1="255.51" y1="477.4" x2="255.51" y2="478.4" stroke="#333" stroke-width="0.4" />
<line x1="258.44" y1="477.4" x2="258.44" y2="478.4" stroke="#333" stroke-width="0.4" />
<line x1="260.52" y1="477.4" x2="260.52" y2="478.4" stroke="#333" stroke-width="0.4" />
<line x1="262.14" y1="477.4" x2="262.14" y2="478.4" stroke="#333" stroke-width="0.4" />
<line x1="263.46" y1="477.4" x2="263.46" y2="478.4" stroke="#333" stroke-width="0.4" />
<line x1="264.57" y1="477.4" x2="264.57" y2="478.4" stroke="#333" stroke-width="0.4" />
<line x1="265.54" y1="477.4" x2="265.54" y2="478.4" stroke="#333" stroke-width="0.4" />
<line x1="266.39" y1="477.4" x2="266.39" y2="478.4" stroke="#333" stroke-width="0.4" />
<line x1="267.15" y1="477.4" x2="267.15" y2="479.2" stroke="#333" stroke-width="0.5" />
<line x1="272.16" y1="477.4" x2="272.16" y2="478.4" stroke="#333" stroke-width="0.4" />
<line x1="275.09" y1="477.4" x2="275.09" y2="478.4" stroke="#333" stroke-width="0.4" />
<line x1="277.17" y1="477.4" x2="277.17" y2="478.4" stroke="#333" stroke-width="0.4" />
<line x1="278.79" y1="477.4" x2="278.79" y2="478.4" stroke="#333" stroke-width="0.4" />
<line x1="280.11" y1="477.4" x2="280.11" y2="478.4" stroke="#333" stroke-width="0.4" />
<line x1="281.22" y1="477.4" x2="281.22" y2="478.4" stroke="#333" stroke-width="0.4" />
<line x1="282.19" y1="477.4" x2="282.19" y2="478.4" stroke="#333" stroke-width="0.4" />
<line x1="283.04" y1="477.4" x2="283.04" y2="478.4" stroke="#333" stroke-width="0.4" />
<line x1="283.8" y1="477.4" x2="283.8" y2="479.2" stroke="#333" stroke-width="0.5" />
<line x1="288.81" y1="477.4" x2="288.81" y2="478.4" stroke="#333" stroke-width="0.4" />
<line x1="291.74" y1="477.4" x2="291.74" y2="478.4" stroke="#333" stroke-width="0.4" />
<line x1="293.82" y1="477.4" x2="293.82" y2="478.4" stroke="#333" stroke-width="0.4" />
<line x1="295.44" y1="477.4" x2="295.44" y2="478.4" stroke="#333" stroke-width="0.4" />
<line x1="296.76" y1="477.4" x2="296.76" y2="478.4" stroke="#333" stroke-width="0.4" />
<line x1="297.87" y1="477.4" x2="297.87" y2="478.4" stroke="#333" stroke-width="0.4" />
<line x1="298.84" y1="477.4" x2="298.84" y2="478.4" stroke="#333" stroke-width="0.4" />
<line x1="299.69" y1="477.4" x2="299.69" y2="478.4" stroke="#333" stroke-width="0.4" />
<line x1="300.45" y1="477.4" x2="300.45" y2="479.2" stroke="#333" stroke-width="0.5" />
<polygon points="307.6,448 307.6,448 308.1,448 308.6,448 309.1,448 309.6,448 310.1,448 310.6,448 311.1,448 311.6,448 312.1,448 312.6,448 313.1,448 313.6,448 314.1,448 314.6,448 315.1,448 315.6,448 316.1,448 316.6,448 317.1,448 317.6,448 318.1,448 318.6,448 319.1,448 319.6,448 320.1,448 320.6,448 321.1,448 321.6,448 322.1,448 322.6,448 323.1,448 323.6,448 324.1,448 324.6,448 325.1,448 325.6,448 326.1,448 326.6,448 327.1,448 327.6,448 328.1,448 328.6,448 329.1,448 329.6,448 330.1,448 330.6,448 331.1,448 331.6,448 332.1,448 332.6,448 333.1,448 333.6,448 334.1,448 334.6,448 335.1,448 335.6,448 336.1,448 336.6,448 337.1,448 337.6,448 338.1,448 338.6,448 339.1,448 339.6,448 340.1,448 340.6,448 341.1,448 341.6,448 342.1,448 342.6,448 343.1,447.99 343.6,447.99 344.1,447.99 344.6,447.99 345.1,447.98 345.6,447.98 346.1,447.97 346.6,447.96 347.1,447.95 347.6,447.93 348.1,447.91 348.6,447.89 349.1,447.85 349.6,447.82 350.1,447.77 350.6,447.71 351.1,447.62 351.6,447.53 352.1,447.41 352.6,447.27 353.1,447.14 353.6,446.94 354.1,446.7 354.6,446.44 355.1,446.09 355.6,445.76 356.1,445.38 356.6,444.94 357.1,444.45 357.6,444.02 358.1,443.17 358.6,442.4 359.1,441.61 359.6,440.71 360.1,439.43 360.6,438.33 361.1,437.1 361.6,435.7 362.1,434.12 362.6,432.51 363.1,430.81 363.6,428.92 364.1,427.01 364.6,424.94 365.1,423 365.6,420.82 366.1,418.52 366.6,416.11 367.1,413.82 367.6,411.67 368.1,409.53 368.6,407.43 369.1,405.66 369.6,403.95 370.1,402.13 370.6,400.57 371.1,399.22 371.6,397.88 372.1,396.87 372.6,396.21 373.1,395.77 373.6,395.66 374.1,395.84 374.6,396.11 375.1,396.72 375.6,397.42 376.1,398.44 376.6,399.79 377.1,401.39 377.6,403.04 378.1,405.17 378.6,407.27 379.1,409.45 379.6,411.65 380.1,414.1 380.6,416.3 381.1,418.51 381.6,420.63 382.1,423.03 382.6,425.1 383.1,427.34 383.6,429.51 384.1,431.42 384.6,433.08 385.1,434.88 385.6,436.37 386.1,437.72 386.6,439.19 387.1,440.37 387.6,441.21 388.1,442.11 388.6,443.02 389.1,443.59 389.6,444.33 390.1,445.04 390.6,445.56 391.1,446 391.6,446.35 392.1,446.64 392.6,446.85 393.1,447.04 393.6,447.18 394.1,447.37 394.6,447.49 395.1,447.59 395.6,447.68 396.1,447.76 396.6,447.81 397.1,447.85 397.2,448" stroke="none" stroke-width="0" fill="#dcb4fb" />
<polyline points="307.6,448 308.1,448 308.6,448 309.1,448 309.6,448 310.1,448 310.6,448 311.1,448 311.6,448 312.1,448 312.6,448 313.1,448 313.6,448 314.1,448 314.6,448 315.1,448 315.6,448 316.1,448 316.6,448 317.1,448 317.6,448 318.1,448 318.6,448 319.1,448 319.6,448 320.1,448 320.6,448 321.1,448 321.6,448 322.1,448 322.6,448 323.1,448 323.6,448 324.1,448 324.6,448 325.1,448 325.6,448 326.1,448 326.6,448 327.1,448 327.6,448 328.1,448 328.6,448 329.1,448 329.6,448 330.1,448 330.6,448 331.1,448 331.6,448 332.1,448 332.6,448 333.1,448 333.6,448 334.1,448 334.6,448 335.1,448 335.6,448 336.1,448 336.6,448 337.1,448 337.6,448 338.1,448 338.6,448 339.1,448 339.6,448 340.1,448 340.6,448 341.1,448 341.6,448 342.1,448 342.6,448 343.1,447.99 343.6,447.99 344.1,447.99 344.6,447.99 345.1,447.98 345.6,447.98 346.1,447.97 346.6,447.96 347.1,447.95 347.6,447.93 348.1,447.91 348.6,447.89 349.1,447.85 349.6,447.82 350.1,447.77 350.6,447.71 351.1,447.62 351.6,447.53 352.1,447.41 352.6,447.27 353.1,447.14 353.6,446.94 354.1,446.7 354.6,446.44 355.1,446.09 355.6,445.76 356.1,445.38 356.6,444.94 357.1,444.45 357.6,444.02 358.1,443.17 358.6,442.4 359.1,441.61 359.6,440.71 360.1,439.43 360.6,438.33 361.1,437.1 361.6,435.7 362.1,434.12 362.6,432.51 363.1,430.81 363.6,428.92 364.1,427.01 364.6,424.94 365.1,423 365.6,420.82 366.1,418.52 366.6,416.11 367.1,413.82 367.6,411.67 368.1,409.53 368.6,407.43 369.1,405.66 369.6,403.95 370.1,402.13 370.6,400.57 371.1,399.22 371.6,397.88 372.1,396.87 372.6,396.21 373.1,395.77 373.6,395.66 374.1,395.84 374.6,396.11 375.1,396.72 375.6,397.42 376.1,398.44 376.6,399.79 377.1,401.39 377.6,403.04 378.1,405.17 378.6,407.27 379.1,409.45 379.6,411.65 380.1,414.1 380.6,416.3 381.1,418.51 381.6,420.63 382.1,423.03 382.6,425.1 383.1,427.34 383.6,429.51 384.1,431.42 384.6,433.08 385.1,434.88 385.6,436.37 386.1,437.72 386.6,439.19 387.1,440.37 387.6,441.21 388.1,442.11 388.6,443.02 389.1,443.59 389.6,444.33 390.1,445.04 390.6,445.56 391.1,446 391.6,446.35 392.1,446.64 392.6,446.85 393.1,447.04 393.6,447.18 394.1,447.37 394.6,447.49 395.1,447.59 395.6,447.68 396.1,447.76 396.6,447.81 397.1,447.85" stroke="#b470f2" stroke-width="0.7" fill="none" />
<polygon points="307.6,477.4 307.6,477.4 308.1,477.4 308.6,477.4 309.1,477.4 309.6,477.4 310.1,477.4 310.6,477.4 311.1,477.4 311.6,477.4 312.1,477.4 312.6,477.4 313.1,477.4 313.6,477.4 314.1,477.4 314.6,477.4 315.1,477.4 315.6,477.4 316.1,477.4 316.6,477.4 317.1,477.4 317.6,477.4 318.1,477.4 318.6,477.4 319.1,477.4 319.6,477.4 320.1,477.4 320.6,477.4 321.1,477.4 321.6,477.4 322.1,477.4 322.6,477.4 323.1,477.4 323.6,477.4 324.1,477.4 324.6,477.4 325.1,477.4 325.6,477.4 326.1,477.4 326.6,477.4 327.1,477.4 327.6,477.4 328.1,477.4 328.6,477.4 329.1,477.4 329.6,477.4 330.1,477.4 330.6,477.4 331.1,477.4 331.6,477.4 332.1,477.4 332.6,477.4 333.1,477.4 333.6,477.4 334.1,477.4 334.6,477.4 335.1,477.4 335.6,477.4 336.1,477.4 336.6,477.4 337.1,477.4 337.6,477.4 338.1,477.4 338.6,477.4 339.1,477.4 339.6,477.4 340.1,477.4 340.6,477.4 341.1,477.4 341.6,477.4 342.1,477.4 342.6,477.4 343.1,477.4 343.6,477.4 344.1,477.4 344.6,477.4 345.1,477.4 345.6,477.4 346.1,477.4 346.6,477.4 347.1,477.4 347.6,477.4 348.1,477.4 348.6,477.4 349.1,477.4 349.6,477.4 350.1,477.4 350.6,477.4 351.1,477.4 351.6,477.4 352.1,477.4 352.6,477.4 353.1,477.4 353.6,477.4 354.1,477.4 354.6,477.39 355.1,477.39 355.6,477.39 356.1,477.38 356.6,477.37 357.1,477.36 357.6,477.33 358.1,477.31 358.6,477.26 359.1,477.21 359.6,477.13 360.1,477.05 360.6,476.89 361.1,476.66 361.6,476.35 362.1,475.98 362.6,475.59 363.1,475.21 363.6,474.74 364.1,474.03 364.6,473.14 365.1,471.72 365.6,470.13 366.1,468.17 366.6,466.65 367.1,464.09 367.6,461.74 368.1,459.29 368.6,456.64 369.1,453.5 369.6,450.43 370.1,447.41 370.6,443.67 371.1,440.14 371.6,436.6 372.1,433.65 372.6,430.57 373.1,428.3 373.6,426.22 374.1,424.84 374.6,423.51 375.1,423 375.6,422.98 376.1,423.83 376.6,425.14 377.1,427.23 377.6,429.68 378.1,432.1 378.6,434.92 379.1,437.61 379.6,440.74 380.1,443.77 380.6,447.38 381.1,450.59 381.6,453.76 382.1,456.55 382.6,459.17 383.1,461.73 383.6,464.08 384.1,466.5 384.6,468.55 385.1,470.15 385.6,471.39 386.1,472.48 386.6,473.35 387.1,473.98 387.6,474.81 388.1,475.48 388.6,476 389.1,476.36 389.6,476.61 390.1,476.81 390.6,476.96 391.1,477.07 391.6,477.15 392.1,477.22 392.6,477.27 393.1,477.31 393.6,477.34 394.1,477.36 394.6,477.37 395.1,477.38 395.6,477.39 396.1,477.39 396.6,477.39 397.1,477.4 397.2,477.4" stroke="none" stroke-width="0" fill="#000" fill-opacity="0.41"/>
<polyline points="359.6,477.13 360.1,477.05 360.6,476.89 361.1,476.66 361.6,476.35 362.1,475.98 362.6,475.59 363.1,475.21 363.6,474.74 364.1,474.03 364.6,473.14 365.1,471.72 365.6,470.13 366.1,468.17 366.6,466.65 367.1,464.09 367.6,461.74 368.1,459.29 368.6,456.64 369.1,453.5 369.6,450.43 370.1,447.41 370.6,443.67 371.1,440.14 371.6,436.6 372.1,433.65 372.6,430.57 373.1,428.3 373.6,426.22 374.1,424.84 374.6,423.51 375.1,423 375.6,422.98 376.1,423.83 376.6,425.14 377.1,427.23 377.6,429.68 378.1,432.1 378.6,434.92 379.1,437.61 379.6,440.74 380.1,443.77 380.6,447.38 381.1,450.59 381.6,453.76 382.1,456.55 382.6,459.17 383.1,461.73 383.6,464.08 384.1,466.5 384.6,468.55 385.1,470.15 385.6,471.39 386.1,472.48 386.6,473.35 387.1,473.98 387.6,474.81 388.1,475.48 388.6,476 389.1,476.36 389.6,476.61 390.1,476.81 390.6,476.96 391.1,477.07 391.6,477.15" stroke="#222" stroke-width="0.6" fill="none" />
<text x="311.8" y="398.7" font-size="7.9" text-anchor="start" font-weight="normal" fill="#222" >nd</text>
<text x="308.9" y="485.6" font-size="4.4" text-anchor="middle" fill="#333">10<tspan font-size="3.0" dy="-1.5">0</tspan></text>
<text x="325.5" y="485.6" font-size="4.4" text-anchor="middle" fill="#333">10<tspan font-size="3.0" dy="-1.5">1</tspan></text>
<text x="342.1" y="485.6" font-size="4.4" text-anchor="middle" fill="#333">10<tspan font-size="3.0" dy="-1.5">2</tspan></text>
<text x="358.7" y="485.6" font-size="4.4" text-anchor="middle" fill="#333">10<tspan font-size="3.0" dy="-1.5">3</tspan></text>
<text x="375.3" y="485.6" font-size="4.4" text-anchor="middle" fill="#333">10<tspan font-size="3.0" dy="-1.5">4</tspan></text>
<text x="391.9" y="485.6" font-size="4.4" text-anchor="middle" fill="#333">10<tspan font-size="3.0" dy="-1.5">5</tspan></text>
<text x="352.9" y="495.6" font-size="6.0" text-anchor="middle" font-weight="normal" fill="#333" >530-30 Blue-A</text>
<line x1="307.3" y1="477.4" x2="307.3" y2="479.2" stroke="#333" stroke-width="0.5" />
<line x1="312.31" y1="477.4" x2="312.31" y2="478.4" stroke="#333" stroke-width="0.4" />
<line x1="315.24" y1="477.4" x2="315.24" y2="478.4" stroke="#333" stroke-width="0.4" />
<line x1="317.32" y1="477.4" x2="317.32" y2="478.4" stroke="#333" stroke-width="0.4" />
<line x1="318.94" y1="477.4" x2="318.94" y2="478.4" stroke="#333" stroke-width="0.4" />
<line x1="320.26" y1="477.4" x2="320.26" y2="478.4" stroke="#333" stroke-width="0.4" />
<line x1="321.37" y1="477.4" x2="321.37" y2="478.4" stroke="#333" stroke-width="0.4" />
<line x1="322.34" y1="477.4" x2="322.34" y2="478.4" stroke="#333" stroke-width="0.4" />
<line x1="323.19" y1="477.4" x2="323.19" y2="478.4" stroke="#333" stroke-width="0.4" />
<line x1="323.95" y1="477.4" x2="323.95" y2="479.2" stroke="#333" stroke-width="0.5" />
<line x1="328.96" y1="477.4" x2="328.96" y2="478.4" stroke="#333" stroke-width="0.4" />
<line x1="331.89" y1="477.4" x2="331.89" y2="478.4" stroke="#333" stroke-width="0.4" />
<line x1="333.97" y1="477.4" x2="333.97" y2="478.4" stroke="#333" stroke-width="0.4" />
<line x1="335.59" y1="477.4" x2="335.59" y2="478.4" stroke="#333" stroke-width="0.4" />
<line x1="336.91" y1="477.4" x2="336.91" y2="478.4" stroke="#333" stroke-width="0.4" />
<line x1="338.02" y1="477.4" x2="338.02" y2="478.4" stroke="#333" stroke-width="0.4" />
<line x1="338.99" y1="477.4" x2="338.99" y2="478.4" stroke="#333" stroke-width="0.4" />
<line x1="339.84" y1="477.4" x2="339.84" y2="478.4" stroke="#333" stroke-width="0.4" />
<line x1="340.6" y1="477.4" x2="340.6" y2="479.2" stroke="#333" stroke-width="0.5" />
<line x1="345.61" y1="477.4" x2="345.61" y2="478.4" stroke="#333" stroke-width="0.4" />
<line x1="348.54" y1="477.4" x2="348.54" y2="478.4" stroke="#333" stroke-width="0.4" />
<line x1="350.62" y1="477.4" x2="350.62" y2="478.4" stroke="#333" stroke-width="0.4" />
<line x1="352.24" y1="477.4" x2="352.24" y2="478.4" stroke="#333" stroke-width="0.4" />
<line x1="353.56" y1="477.4" x2="353.56" y2="478.4" stroke="#333" stroke-width="0.4" />
<line x1="354.67" y1="477.4" x2="354.67" y2="478.4" stroke="#333" stroke-width="0.4" />
<line x1="355.64" y1="477.4" x2="355.64" y2="478.4" stroke="#333" stroke-width="0.4" />
<line x1="356.49" y1="477.4" x2="356.49" y2="478.4" stroke="#333" stroke-width="0.4" />
<line x1="357.25" y1="477.4" x2="357.25" y2="479.2" stroke="#333" stroke-width="0.5" />
<line x1="362.26" y1="477.4" x2="362.26" y2="478.4" stroke="#333" stroke-width="0.4" />
<line x1="365.19" y1="477.4" x2="365.19" y2="478.4" stroke="#333" stroke-width="0.4" />
<line x1="367.27" y1="477.4" x2="367.27" y2="478.4" stroke="#333" stroke-width="0.4" />
<line x1="368.89" y1="477.4" x2="368.89" y2="478.4" stroke="#333" stroke-width="0.4" />
<line x1="370.21" y1="477.4" x2="370.21" y2="478.4" stroke="#333" stroke-width="0.4" />
<line x1="371.32" y1="477.4" x2="371.32" y2="478.4" stroke="#333" stroke-width="0.4" />
<line x1="372.29" y1="477.4" x2="372.29" y2="478.4" stroke="#333" stroke-width="0.4" />
<line x1="373.14" y1="477.4" x2="373.14" y2="478.4" stroke="#333" stroke-width="0.4" />
<line x1="373.9" y1="477.4" x2="373.9" y2="479.2" stroke="#333" stroke-width="0.5" />
<line x1="378.91" y1="477.4" x2="378.91" y2="478.4" stroke="#333" stroke-width="0.4" />
<line x1="381.84" y1="477.4" x2="381.84" y2="478.4" stroke="#333" stroke-width="0.4" />
<line x1="383.92" y1="477.4" x2="383.92" y2="478.4" stroke="#333" stroke-width="0.4" />
<line x1="385.54" y1="477.4" x2="385.54" y2="478.4" stroke="#333" stroke-width="0.4" />
<line x1="386.86" y1="477.4" x2="386.86" y2="478.4" stroke="#333" stroke-width="0.4" />
<line x1="387.97" y1="477.4" x2="387.97" y2="478.4" stroke="#333" stroke-width="0.4" />
<line x1="388.94" y1="477.4" x2="388.94" y2="478.4" stroke="#333" stroke-width="0.4" />
<line x1="389.79" y1="477.4" x2="389.79" y2="478.4" stroke="#333" stroke-width="0.4" />
<line x1="390.55" y1="477.4" x2="390.55" y2="479.2" stroke="#333" stroke-width="0.5" />
<line x1="36.4" y1="448" x2="397.2" y2="448" stroke="#b470f2" stroke-width="0.8" />
<line x1="36.4" y1="477.4" x2="397.2" y2="477.4" stroke="#333" stroke-width="0.7" />
<line x1="36.4" y1="386.3" x2="397.6" y2="386.3" stroke="#444" stroke-width="0.8" />
<line x1="36.4" y1="386.3" x2="36.4" y2="478" stroke="#555" stroke-width="0.7" />
<line x1="126.7" y1="386.3" x2="126.7" y2="478" stroke="#777" stroke-width="0.6" />
<line x1="217.5" y1="386.3" x2="217.5" y2="478" stroke="#333" stroke-width="0.8" />
<line x1="307.6" y1="386.3" x2="307.6" y2="478" stroke="#333" stroke-width="0.8" />
<line x1="397.4" y1="386.3" x2="397.4" y2="478" stroke="#555" stroke-width="0.7" />
<polygon points="276.6,372.8 281,381.3 272.2,381.3" fill="#c58df5"/>
<text x="282.6" y="380.6" font-size="9.0" text-anchor="start" font-weight="normal" fill="#222" >390 nm</text>
<polygon points="321,372.8 325.4,381.3 316.6,381.3" fill="#555"/>
<text x="327.6" y="380.6" font-size="9.0" text-anchor="start" font-weight="normal" fill="#222" >Dark</text>
<text x="0" y="0" font-size="11.6" text-anchor="middle" fill="#111" transform="translate(415.1,378.7) scale(0.72,1)">F</text>
<line x1="484.8" y1="392.4" x2="484.8" y2="498.5" stroke="#111" stroke-width="1.1" />
<line x1="484.2" y1="497.8" x2="642.3" y2="497.8" stroke="#111" stroke-width="1.1" />
<line x1="481.6" y1="497.8" x2="484.8" y2="497.8" stroke="#111" stroke-width="0.9" />
<text x="481.4" y="500.6" font-size="8.0" text-anchor="end" font-weight="normal" fill="#222" >0</text>
<line x1="481.6" y1="462.76" x2="484.8" y2="462.76" stroke="#111" stroke-width="0.9" />
<text x="481.4" y="465.56" font-size="8.0" text-anchor="end" font-weight="normal" fill="#222" >50</text>
<line x1="481.6" y1="427.73" x2="484.8" y2="427.73" stroke="#111" stroke-width="0.9" />
<text x="481.4" y="430.53" font-size="8.0" text-anchor="end" font-weight="normal" fill="#222" >100</text>
<line x1="481.6" y1="392.69" x2="484.8" y2="392.69" stroke="#111" stroke-width="0.9" />
<text x="481.4" y="395.5" font-size="8.0" text-anchor="end" font-weight="normal" fill="#222" >150</text>
<line x1="492.3" y1="497.8" x2="492.3" y2="500.8" stroke="#111" stroke-width="0.9" />
<text x="0" y="0" font-size="7.8" text-anchor="end" fill="#222" transform="translate(495.9,505) rotate(-45)">25μM</text>
<line x1="507.93" y1="497.8" x2="507.93" y2="500.8" stroke="#111" stroke-width="0.9" />
<text x="0" y="0" font-size="7.8" text-anchor="end" fill="#222" transform="translate(511.53,505) rotate(-45)">6.25μM</text>
<line x1="523.56" y1="497.8" x2="523.56" y2="500.8" stroke="#111" stroke-width="0.9" />
<text x="0" y="0" font-size="7.8" text-anchor="end" fill="#222" transform="translate(527.16,505) rotate(-45)">1.6μM</text>
<line x1="539.19" y1="497.8" x2="539.19" y2="500.8" stroke="#111" stroke-width="0.9" />
<text x="0" y="0" font-size="7.8" text-anchor="end" fill="#222" transform="translate(542.79,505) rotate(-45)">0.39μM</text>
<line x1="554.82" y1="497.8" x2="554.82" y2="500.8" stroke="#111" stroke-width="0.9" />
<text x="0" y="0" font-size="7.8" text-anchor="end" fill="#222" transform="translate(558.42,505) rotate(-45)">97nM</text>
<line x1="570.45" y1="497.8" x2="570.45" y2="500.8" stroke="#111" stroke-width="0.9" />
<text x="0" y="0" font-size="7.8" text-anchor="end" fill="#222" transform="translate(574.05,505) rotate(-45)">24nM</text>
<line x1="586.08" y1="497.8" x2="586.08" y2="500.8" stroke="#111" stroke-width="0.9" />
<text x="0" y="0" font-size="7.8" text-anchor="end" fill="#222" transform="translate(589.68,505) rotate(-45)">6nM</text>
<line x1="601.71" y1="497.8" x2="601.71" y2="500.8" stroke="#111" stroke-width="0.9" />
<text x="0" y="0" font-size="7.8" text-anchor="end" fill="#222" transform="translate(605.31,505) rotate(-45)">1.5nM</text>
<line x1="617.34" y1="497.8" x2="617.34" y2="500.8" stroke="#111" stroke-width="0.9" />
<text x="0" y="0" font-size="7.8" text-anchor="end" fill="#222" transform="translate(620.94,505) rotate(-45)">380pM</text>
<line x1="632.97" y1="497.8" x2="632.97" y2="500.8" stroke="#111" stroke-width="0.9" />
<text x="0" y="0" font-size="7.8" text-anchor="end" fill="#222" transform="translate(636.57,505) rotate(-45)">0</text>
<polyline points="492.3,437.54 507.93,457.16 523.56,477.48 539.19,487.99 554.82,490.09 570.45,479.93 586.08,454.71 601.71,448.4 617.34,440.34 632.97,427.73" stroke="#a21ff0" stroke-width="1.4" fill="none" stroke-linejoin="round"/>
<polygon points="492.3,435.6 494.1,438.84 490.5,438.84" fill="#a21ff0"/>
<polygon points="507.93,455.22 509.73,458.46 506.13,458.46" fill="#a21ff0"/>
<polygon points="523.56,475.54 525.36,478.78 521.76,478.78" fill="#a21ff0"/>
<polygon points="539.19,486.05 540.99,489.29 537.39,489.29" fill="#a21ff0"/>
<polygon points="554.82,488.15 556.62,491.39 553.02,491.39" fill="#a21ff0"/>
<polygon points="570.45,477.99 572.25,481.23 568.65,481.23" fill="#a21ff0"/>
<polygon points="586.08,452.76 587.88,456 584.28,456" fill="#a21ff0"/>
<polygon points="601.71,446.46 603.51,449.7 599.91,449.7" fill="#a21ff0"/>
<polygon points="617.34,438.4 619.14,441.64 615.54,441.64" fill="#a21ff0"/>
<polygon points="632.97,425.79 634.77,429.03 631.17,429.03" fill="#a21ff0"/>
<polyline points="492.3,441.04 507.93,459.26 523.56,474.68 539.19,478.88 554.82,459.26 570.45,441.04 586.08,434.39 601.71,427.73 617.34,426.33 632.97,427.73" stroke="#0a0a0a" stroke-width="1.4" fill="none" stroke-linejoin="round"/>
<rect x="490.5" y="439.24" width="3.6" height="3.6" fill="#0a0a0a"/>
<rect x="506.13" y="457.46" width="3.6" height="3.6" fill="#0a0a0a"/>
<rect x="521.76" y="472.88" width="3.6" height="3.6" fill="#0a0a0a"/>
<rect x="537.39" y="477.08" width="3.6" height="3.6" fill="#0a0a0a"/>
<rect x="553.02" y="457.46" width="3.6" height="3.6" fill="#0a0a0a"/>
<rect x="568.65" y="439.24" width="3.6" height="3.6" fill="#0a0a0a"/>
<rect x="584.28" y="432.59" width="3.6" height="3.6" fill="#0a0a0a"/>
<rect x="599.91" y="425.93" width="3.6" height="3.6" fill="#0a0a0a"/>
<rect x="615.54" y="424.53" width="3.6" height="3.6" fill="#0a0a0a"/>
<rect x="631.17" y="425.93" width="3.6" height="3.6" fill="#0a0a0a"/>
<line x1="526.1" y1="395.8" x2="536.3" y2="395.8" stroke="#a21ff0" stroke-width="1.3" />
<polygon points="531.2,393.86 533,397.1 529.4,397.1" fill="#a21ff0"/>
<text x="542.5" y="399.5" font-size="9.9" text-anchor="start" font-weight="normal" fill="#111" >390 nm</text>
<line x1="526.1" y1="408.8" x2="536.3" y2="408.8" stroke="#0a0a0a" stroke-width="1.3" />
<rect x="529.4" y="407" width="3.6" height="3.6" fill="#0a0a0a"/>
<text x="542.5" y="412" font-size="8.8" text-anchor="start" font-weight="normal" fill="#111" >Dark</text>
<text x="0" y="0" font-size="9.4" text-anchor="middle" fill="#222" transform="translate(452.6,444.6) rotate(-90)">% of Max. YFP Fluorescence</text>
<text x="572.5" y="539" font-size="6.8" text-anchor="middle" fill="#222">Dose_<tspan font-weight="bold">TMP-TAC-PC</tspan></text>
<text x="11.5" y="534.7" font-size="11.6" text-anchor="middle" font-weight="normal" fill="#111" >G</text>
<line x1="69.4" y1="565.6" x2="69.4" y2="727.8" stroke="#111" stroke-width="1.0" />
<line x1="69" y1="727.3" x2="248.5" y2="727.3" stroke="#111" stroke-width="1.0" />
<line x1="66.8" y1="727.3" x2="69.4" y2="727.3" stroke="#111" stroke-width="0.8" />
<text x="66.4" y="729.5" font-size="6.2" text-anchor="end" font-weight="normal" fill="#222" >0</text>
<line x1="66.8" y1="673.7" x2="69.4" y2="673.7" stroke="#111" stroke-width="0.8" />
<text x="66.4" y="675.9" font-size="6.2" text-anchor="end" font-weight="normal" fill="#222" >10000</text>
<line x1="66.8" y1="620.1" x2="69.4" y2="620.1" stroke="#111" stroke-width="0.8" />
<text x="66.4" y="622.3" font-size="6.2" text-anchor="end" font-weight="normal" fill="#222" >20000</text>
<line x1="66.8" y1="566.5" x2="69.4" y2="566.5" stroke="#111" stroke-width="0.8" />
<text x="66.4" y="568.7" font-size="6.2" text-anchor="end" font-weight="normal" fill="#222" >30000</text>
<text x="0" y="0" font-size="7.1" text-anchor="middle" fill="#222" transform="translate(35.8,646) rotate(-90)">Mean CAR expression</text>
<text x="158.7" y="563" font-size="6.5" text-anchor="middle" font-weight="normal" fill="#222" >Human_FAP_CAR T_eDHFR</text>
<rect x="79.8" y="699.43" width="19.7" height="27.87" fill="#eedcfc" stroke="#9a1cff" stroke-width="1.3"/>
<rect x="103.8" y="628.68" width="19.6" height="98.62" fill="#e0e0e0" stroke="#222" stroke-width="1.3"/>
<rect x="137.4" y="684.15" width="19.6" height="43.15" fill="#eedcfc" stroke="#9a1cff" stroke-width="1.3"/>
<rect x="160.8" y="612.6" width="19.8" height="114.7" fill="#e0e0e0" stroke="#222" stroke-width="1.3"/>
<rect x="194.4" y="660.84" width="19.8" height="66.46" fill="#eedcfc" stroke="#9a1cff" stroke-width="1.3"/>
<rect x="218.2" y="601.07" width="19.4" height="126.23" fill="#e0e0e0" stroke="#222" stroke-width="1.3"/>
<line x1="89.6" y1="698.62" x2="89.6" y2="700.23" stroke="#9a1cff" stroke-width="1.0" />
<line x1="84.6" y1="698.62" x2="94.6" y2="698.62" stroke="#9a1cff" stroke-width="1.0" />
<line x1="84.6" y1="700.23" x2="94.6" y2="700.23" stroke="#9a1cff" stroke-width="1.0" />
<rect x="88.3" y="698.66" width="2.6" height="2.6" fill="#9a1cff"/>
<rect x="85.7" y="697.59" width="2.6" height="2.6" fill="#9a1cff"/>
<rect x="90.9" y="697.86" width="2.6" height="2.6" fill="#9a1cff"/>
<line x1="113.4" y1="623.58" x2="113.4" y2="633.77" stroke="#111" stroke-width="1.0" />
<line x1="108.4" y1="623.58" x2="118.4" y2="623.58" stroke="#111" stroke-width="1.0" />
<line x1="108.4" y1="633.77" x2="118.4" y2="633.77" stroke="#111" stroke-width="1.0" />
<circle cx="113.4" cy="624.12" r="1.3" fill="#111"/>
<circle cx="113.4" cy="627.34" r="1.3" fill="#111"/>
<circle cx="113.4" cy="632.96" r="1.3" fill="#111"/>
<line x1="147.2" y1="683.83" x2="147.2" y2="684.47" stroke="#9a1cff" stroke-width="1.0" />
<line x1="142.2" y1="683.83" x2="152.2" y2="683.83" stroke="#9a1cff" stroke-width="1.0" />
<line x1="142.2" y1="684.47" x2="152.2" y2="684.47" stroke="#9a1cff" stroke-width="1.0" />
<rect x="145.9" y="683.12" width="2.6" height="2.6" fill="#9a1cff"/>
<rect x="143.3" y="682.69" width="2.6" height="2.6" fill="#9a1cff"/>
<rect x="148.5" y="682.8" width="2.6" height="2.6" fill="#9a1cff"/>
<line x1="170.7" y1="610.99" x2="170.7" y2="614.2" stroke="#111" stroke-width="1.0" />
<line x1="165.7" y1="610.99" x2="175.7" y2="610.99" stroke="#111" stroke-width="1.0" />
<line x1="165.7" y1="614.2" x2="175.7" y2="614.2" stroke="#111" stroke-width="1.0" />
<circle cx="170.7" cy="611.26" r="1.3" fill="#111"/>
<circle cx="170.7" cy="613.13" r="1.3" fill="#111"/>
<circle cx="170.7" cy="613.4" r="1.3" fill="#111"/>
<line x1="204.3" y1="657.62" x2="204.3" y2="664.05" stroke="#9a1cff" stroke-width="1.0" />
<line x1="199.3" y1="657.62" x2="209.3" y2="657.62" stroke="#9a1cff" stroke-width="1.0" />
<line x1="199.3" y1="664.05" x2="209.3" y2="664.05" stroke="#9a1cff" stroke-width="1.0" />
<rect x="203" y="656.32" width="2.6" height="2.6" fill="#9a1cff"/>
<rect x="200.4" y="660.34" width="2.6" height="2.6" fill="#9a1cff"/>
<rect x="205.6" y="661.14" width="2.6" height="2.6" fill="#9a1cff"/>
<line x1="227.9" y1="598.82" x2="227.9" y2="603.32" stroke="#111" stroke-width="1.0" />
<line x1="222.9" y1="598.82" x2="232.9" y2="598.82" stroke="#111" stroke-width="1.0" />
<line x1="222.9" y1="603.32" x2="232.9" y2="603.32" stroke="#111" stroke-width="1.0" />
<circle cx="227.9" cy="598.66" r="1.3" fill="#111"/>
<circle cx="227.9" cy="601.88" r="1.3" fill="#111"/>
<circle cx="227.9" cy="602.68" r="1.3" fill="#111"/>
<polyline points="89.3,692.8 89.3,600.3 115.6,600.3 115.6,618.4" stroke="#666" stroke-width="0.6" fill="none" />
<circle cx="96.15" cy="595.7" r="1.35" fill="#111"/>
<circle cx="100.4" cy="595.7" r="1.35" fill="#111"/>
<circle cx="104.65" cy="595.7" r="1.35" fill="#111"/>
<circle cx="108.9" cy="595.7" r="1.35" fill="#111"/>
<polyline points="146.4,679.7 146.4,588.3 172.4,588.3 172.4,608.2" stroke="#666" stroke-width="0.6" fill="none" />
<circle cx="153.1" cy="583.7" r="1.35" fill="#111"/>
<circle cx="157.35" cy="583.7" r="1.35" fill="#111"/>
<circle cx="161.6" cy="583.7" r="1.35" fill="#111"/>
<circle cx="165.85" cy="583.7" r="1.35" fill="#111"/>
<polyline points="204.1,651 204.1,576.6 228,576.6 228,590.7" stroke="#666" stroke-width="0.6" fill="none" />
<circle cx="209.75" cy="572" r="1.35" fill="#111"/>
<circle cx="214" cy="572" r="1.35" fill="#111"/>
<circle cx="218.25" cy="572" r="1.35" fill="#111"/>
<circle cx="222.5" cy="572" r="1.35" fill="#111"/>
<line x1="100.9" y1="727.3" x2="100.9" y2="729.6" stroke="#111" stroke-width="0.8" />
<text x="100.9" y="737" font-size="6.2" text-anchor="middle" font-weight="normal" fill="#222" >97nM</text>
<line x1="158.7" y1="727.3" x2="158.7" y2="729.6" stroke="#111" stroke-width="0.8" />
<text x="158.7" y="737" font-size="6.2" text-anchor="middle" font-weight="normal" fill="#222" >24nM</text>
<line x1="215.9" y1="727.3" x2="215.9" y2="729.6" stroke="#111" stroke-width="0.8" />
<text x="215.9" y="737" font-size="6.2" text-anchor="middle" font-weight="normal" fill="#222" >6nM</text>
<text x="169.7" y="752" font-size="7.1" text-anchor="middle" fill="#222">Dose_<tspan font-weight="bold">TMP-TAC-PC</tspan></text>
<rect x="253.4" y="579" width="6.4" height="3.8" fill="#eedff9" stroke="#9b2ff0" stroke-width="1.1"/>
<rect x="253.4" y="588.3" width="6.4" height="3.8" fill="#e0e0e0" stroke="#1a1a1a" stroke-width="1.1"/>
<text x="264.6" y="583.4" font-size="6.5" text-anchor="start" font-weight="normal" fill="#222" >390nm</text>
<text x="264.6" y="592.8" font-size="6.5" text-anchor="start" font-weight="normal" fill="#222" >Dark</text>
<text x="322.3" y="548.6" font-size="11.6" text-anchor="middle" font-weight="normal" fill="#111" >H</text>
<text x="469.2" y="565.5" font-size="9.6" text-anchor="middle" font-weight="bold" fill="#111" >390 nm</text>
<text x="597.8" y="565.3" font-size="9.6" text-anchor="middle" font-weight="bold" fill="#111" >Dark</text>
<text x="386.8" y="593" font-size="9.5" text-anchor="end" font-weight="normal" fill="#222" >1.6 μM</text>
<text x="386.8" y="610.5" font-size="9.5" text-anchor="end" font-weight="normal" fill="#222" >0.39 μM</text>
<text x="386.8" y="626.4" font-size="9.5" text-anchor="end" font-weight="normal" fill="#222" >97 nM</text>
<text x="386.8" y="642" font-size="9.5" text-anchor="end" font-weight="normal" fill="#222" >24 nM</text>
<text x="386.8" y="659.5" font-size="9.5" text-anchor="end" font-weight="normal" fill="#222" >6 nM</text>
<text x="386.8" y="676.4" font-size="9.5" text-anchor="end" font-weight="normal" fill="#222" >1.5 nM</text>
<text x="386.8" y="692.2" font-size="9.5" text-anchor="end" font-weight="normal" fill="#222" >380 pM</text>
<text x="0" y="0" font-size="13.6" text-anchor="middle" fill="#222" transform="translate(328.2,653.2) rotate(-90)">Counts</text>
<line x1="342.4" y1="714" x2="342.4" y2="607" stroke="#111" stroke-width="1.3" />
<polygon points="342.4,602.2 345.1,609 339.7,609" fill="#111"/>
<line x1="341.8" y1="713.6" x2="472" y2="713.6" stroke="#111" stroke-width="1.3" />
<polygon points="477.2,713.6 470.4,710.9 470.4,716.3" fill="#111"/>
<text x="356" y="732.6" font-size="12.8" text-anchor="start" font-weight="normal" fill="#222" >660_20</text>
<polygon points="394,594.9 394,594.9 394.75,594.9 395.5,594.9 396.25,594.9 397,594.9 397.75,594.9 398.5,594.9 399.25,594.9 400,594.9 400.75,594.9 401.5,594.9 402.25,594.9 403,594.9 403.75,594.9 404.5,594.9 405.25,594.9 406,594.9 406.75,594.9 407.5,594.9 408.25,594.9 409,594.9 409.75,594.9 410.5,594.9 411.25,594.9 412,594.9 412.75,594.9 413.5,594.9 414.25,594.9 415,594.9 415.75,594.9 416.5,594.9 417.25,594.9 418,594.9 418.75,594.9 419.5,594.9 420.25,594.9 421,594.9 421.75,594.9 422.5,594.9 423.25,594.9 424,594.9 424.75,594.9 425.5,594.9 426.25,594.9 427,594.9 427.75,594.87 428.5,594.78 429.25,594.64 430,594.44 430.75,594.19 431.5,593.94 432.25,593.62 433,593.33 433.75,593.04 434.5,592.8 435.25,592.41 436,592.19 436.75,592.08 437.5,591.97 438.25,591.91 439,591.92 439.75,592.03 440.5,591.69 441.25,591.29 442,590.57 442.75,590.08 443.5,589.11 444.25,588.47 445,587.67 445.75,587.13 446.5,586.39 447.25,586.02 448,585.79 448.75,585.7 449.5,585.62 450.25,585.09 451,584.37 451.75,583.58 452.5,582.43 453.25,581.49 454,580.84 454.75,580.65 455.5,580.37 456.25,580.59 457,580.53 457.75,580.64 458.5,580.49 459.25,580.3 460,580.12 460.75,580.01 461.5,579.65 462.25,579.51 463,579.64 463.75,579.28 464.5,579.27 465.25,579.29 466,579.25 466.75,578.98 467.5,578.95 468.25,578.53 469,578.4 469.75,577.72 470.5,577.53 471.25,577.06 472,577.12 472.75,576.99 473.5,577.08 474.25,577.16 475,577.54 475.75,577.54 476.5,577.76 477.25,578.3 478,578.26 478.75,578.5 479.5,578.9 480.25,579.02 481,578.84 481.75,579.07 482.5,579.34 483.25,579.58 484,580.09 484.75,580.58 485.5,581 486.25,581.16 487,581.27 487.75,581.22 488.5,581.15 489.25,581.25 490,581.57 490.75,582.16 491.5,582.62 492.25,583.32 493,584.08 493.75,584.64 494.5,584.95 495.25,585.65 496,586.01 496.75,586.26 497.5,586.49 498.25,586.86 499,586.63 499.75,586.98 500.5,587.29 501.25,587.83 502,588.46 502.75,589.25 503.5,589.96 504.25,590.82 505,591.57 505.75,592 506.5,592.51 507.25,592.67 508,592.72 508.75,592.54 509.5,592.49 510.25,592.51 511,592.84 511.75,593.15 512.5,593.54 513.25,593.84 514,594.11 514.75,594.25 515.5,594.35 516.25,594.38 517,594.4 517.75,594.44 518.5,594.51 519.25,594.57 520,594.6 520.75,594.63 521.5,594.9 521.5,594.9" stroke="none" stroke-width="0" fill="rgb(150,70,70)" fill-opacity="0.22"/>
<polyline points="394,594.9 394.75,594.9 395.5,594.9 396.25,594.9 397,594.9 397.75,594.9 398.5,594.9 399.25,594.9 400,594.9 400.75,594.9 401.5,594.9 402.25,594.9 403,594.9 403.75,594.9 404.5,594.9 405.25,594.9 406,594.9 406.75,594.9 407.5,594.9 408.25,594.9 409,594.9 409.75,594.9 410.5,594.9 411.25,594.9 412,594.9 412.75,594.9 413.5,594.9 414.25,594.9 415,594.9 415.75,594.9 416.5,594.9 417.25,594.9 418,594.9 418.75,594.9 419.5,594.9 420.25,594.9 421,594.9 421.75,594.9 422.5,594.9 423.25,594.9 424,594.9 424.75,594.9 425.5,594.9 426.25,594.9 427,594.9 427.75,594.87 428.5,594.78 429.25,594.64 430,594.44 430.75,594.19 431.5,593.94 432.25,593.62 433,593.33 433.75,593.04 434.5,592.8 435.25,592.41 436,592.19 436.75,592.08 437.5,591.97 438.25,591.91 439,591.92 439.75,592.03 440.5,591.69 441.25,591.29 442,590.57 442.75,590.08 443.5,589.11 444.25,588.47 445,587.67 445.75,587.13 446.5,586.39 447.25,586.02 448,585.79 448.75,585.7 449.5,585.62 450.25,585.09 451,584.37 451.75,583.58 452.5,582.43 453.25,581.49 454,580.84 454.75,580.65 455.5,580.37 456.25,580.59 457,580.53 457.75,580.64 458.5,580.49 459.25,580.3 460,580.12 460.75,580.01 461.5,579.65 462.25,579.51 463,579.64 463.75,579.28 464.5,579.27 465.25,579.29 466,579.25 466.75,578.98 467.5,578.95 468.25,578.53 469,578.4 469.75,577.72 470.5,577.53 471.25,577.06 472,577.12 472.75,576.99 473.5,577.08 474.25,577.16 475,577.54 475.75,577.54 476.5,577.76 477.25,578.3 478,578.26 478.75,578.5 479.5,578.9 480.25,579.02 481,578.84 481.75,579.07 482.5,579.34 483.25,579.58 484,580.09 484.75,580.58 485.5,581 486.25,581.16 487,581.27 487.75,581.22 488.5,581.15 489.25,581.25 490,581.57 490.75,582.16 491.5,582.62 492.25,583.32 493,584.08 493.75,584.64 494.5,584.95 495.25,585.65 496,586.01 496.75,586.26 497.5,586.49 498.25,586.86 499,586.63 499.75,586.98 500.5,587.29 501.25,587.83 502,588.46 502.75,589.25 503.5,589.96 504.25,590.82 505,591.57 505.75,592 506.5,592.51 507.25,592.67 508,592.72 508.75,592.54 509.5,592.49 510.25,592.51 511,592.84 511.75,593.15 512.5,593.54 513.25,593.84 514,594.11 514.75,594.25 515.5,594.35 516.25,594.38 517,594.4 517.75,594.44 518.5,594.51 519.25,594.57 520,594.6 520.75,594.63 521.5,594.9" stroke="#d2b4b4" stroke-width="0.65" fill="none" />
<polygon points="394,611.15 394,611.15 394.75,611.15 395.5,611.15 396.25,611.15 397,611.15 397.75,611.15 398.5,611.15 399.25,611.15 400,611.15 400.75,611.15 401.5,611.15 402.25,611.15 403,611.15 403.75,611.15 404.5,611.15 405.25,611.15 406,611.15 406.75,611.15 407.5,611.15 408.25,611.15 409,611.15 409.75,611.15 410.5,611.15 411.25,611.15 412,611.15 412.75,611.15 413.5,611.15 414.25,611.15 415,611.15 415.75,611.15 416.5,611.15 417.25,611.15 418,611.15 418.75,611.15 419.5,611.15 420.25,611.15 421,611.15 421.75,611.15 422.5,611.15 423.25,611.15 424,611.15 424.75,611.13 425.5,611.08 426.25,611 427,610.89 427.75,610.74 428.5,610.56 429.25,610.41 430,610.26 430.75,610.07 431.5,609.9 432.25,609.77 433,609.6 433.75,609.39 434.5,609.23 435.25,608.99 436,608.77 436.75,608.59 437.5,608.49 438.25,608.46 439,608.42 439.75,608.48 440.5,608.14 441.25,607.68 442,607.19 442.75,606.55 443.5,606.05 444.25,605.43 445,604.87 445.75,604.04 446.5,603.41 447.25,602.86 448,602.63 448.75,602.44 449.5,602.7 450.25,602.39 451,601.65 451.75,600.73 452.5,599.76 453.25,598.25 454,597.15 454.75,596.01 455.5,595.01 456.25,594.11 457,594.13 457.75,593.85 458.5,593.31 459.25,592.53 460,591.85 460.75,590.88 461.5,590.35 462.25,590 463,590.07 463.75,590.3 464.5,590.84 465.25,591.66 466,592.62 466.75,593.51 467.5,594.45 468.25,595.08 469,595.04 469.75,595.12 470.5,595.44 471.25,595.7 472,596.14 472.75,596.57 473.5,596.74 474.25,596.88 475,597.18 475.75,597.33 476.5,597.4 477.25,597.77 478,597.87 478.75,598.06 479.5,598.33 480.25,598.7 481,599 481.75,599.59 482.5,600.2 483.25,600.58 484,601.03 484.75,601.2 485.5,601.35 486.25,601.53 487,601.92 487.75,602.28 488.5,602.71 489.25,603.17 490,603.63 490.75,604.05 491.5,604.46 492.25,604.49 493,604.6 493.75,604.76 494.5,604.86 495.25,604.79 496,605.1 496.75,605.48 497.5,605.48 498.25,605.52 499,605.81 499.75,606.13 500.5,606.51 501.25,607.15 502,607.72 502.75,608.08 503.5,608.24 504.25,608.45 505,608.63 505.75,608.59 506.5,608.55 507.25,608.76 508,608.79 508.75,608.95 509.5,609.22 510.25,609.36 511,609.49 511.75,609.72 512.5,609.94 513.25,610.18 514,610.43 514.75,610.57 515.5,610.65 516.25,610.65 517,610.66 517.75,610.69 518.5,610.73 519.25,610.76 520,610.79 520.75,610.81 521.5,611.15 521.5,611.15" stroke="none" stroke-width="0" fill="rgb(0,0,208)" fill-opacity="0.41"/>
<polyline points="394,611.15 394.75,611.15 395.5,611.15 396.25,611.15 397,611.15 397.75,611.15 398.5,611.15 399.25,611.15 400,611.15 400.75,611.15 401.5,611.15 402.25,611.15 403,611.15 403.75,611.15 404.5,611.15 405.25,611.15 406,611.15 406.75,611.15 407.5,611.15 408.25,611.15 409,611.15 409.75,611.15 410.5,611.15 411.25,611.15 412,611.15 412.75,611.15 413.5,611.15 414.25,611.15 415,611.15 415.75,611.15 416.5,611.15 417.25,611.15 418,611.15 418.75,611.15 419.5,611.15 420.25,611.15 421,611.15 421.75,611.15 422.5,611.15 423.25,611.15 424,611.15 424.75,611.13 425.5,611.08 426.25,611 427,610.89 427.75,610.74 428.5,610.56 429.25,610.41 430,610.26 430.75,610.07 431.5,609.9 432.25,609.77 433,609.6 433.75,609.39 434.5,609.23 435.25,608.99 436,608.77 436.75,608.59 437.5,608.49 438.25,608.46 439,608.42 439.75,608.48 440.5,608.14 441.25,607.68 442,607.19 442.75,606.55 443.5,606.05 444.25,605.43 445,604.87 445.75,604.04 446.5,603.41 447.25,602.86 448,602.63 448.75,602.44 449.5,602.7 450.25,602.39 451,601.65 451.75,600.73 452.5,599.76 453.25,598.25 454,597.15 454.75,596.01 455.5,595.01 456.25,594.11 457,594.13 457.75,593.85 458.5,593.31 459.25,592.53 460,591.85 460.75,590.88 461.5,590.35 462.25,590 463,590.07 463.75,590.3 464.5,590.84 465.25,591.66 466,592.62 466.75,593.51 467.5,594.45 468.25,595.08 469,595.04 469.75,595.12 470.5,595.44 471.25,595.7 472,596.14 472.75,596.57 473.5,596.74 474.25,596.88 475,597.18 475.75,597.33 476.5,597.4 477.25,597.77 478,597.87 478.75,598.06 479.5,598.33 480.25,598.7 481,599 481.75,599.59 482.5,600.2 483.25,600.58 484,601.03 484.75,601.2 485.5,601.35 486.25,601.53 487,601.92 487.75,602.28 488.5,602.71 489.25,603.17 490,603.63 490.75,604.05 491.5,604.46 492.25,604.49 493,604.6 493.75,604.76 494.5,604.86 495.25,604.79 496,605.1 496.75,605.48 497.5,605.48 498.25,605.52 499,605.81 499.75,606.13 500.5,606.51 501.25,607.15 502,607.72 502.75,608.08 503.5,608.24 504.25,608.45 505,608.63 505.75,608.59 506.5,608.55 507.25,608.76 508,608.79 508.75,608.95 509.5,609.22 510.25,609.36 511,609.49 511.75,609.72 512.5,609.94 513.25,610.18 514,610.43 514.75,610.57 515.5,610.65 516.25,610.65 517,610.66 517.75,610.69 518.5,610.73 519.25,610.76 520,610.79 520.75,610.81 521.5,611.15" stroke="#2a2ad8" stroke-width="0.65" fill="none" />
<polygon points="394,627.4 394,627.4 394.75,627.4 395.5,627.4 396.25,627.4 397,627.4 397.75,627.4 398.5,627.4 399.25,627.4 400,627.4 400.75,627.4 401.5,627.4 402.25,627.4 403,627.4 403.75,627.4 404.5,627.4 405.25,627.4 406,627.4 406.75,627.4 407.5,627.4 408.25,627.4 409,627.4 409.75,627.4 410.5,627.4 411.25,627.4 412,627.4 412.75,627.4 413.5,627.4 414.25,627.4 415,627.4 415.75,627.4 416.5,627.4 417.25,627.4 418,627.4 418.75,627.4 419.5,627.4 420.25,627.4 421,627.4 421.75,627.4 422.5,627.4 423.25,627.4 424,627.4 424.75,627.4 425.5,627.4 426.25,627.4 427,627.4 427.75,627.37 428.5,627.28 429.25,627.14 430,626.93 430.75,626.72 431.5,626.51 432.25,626.27 433,626.01 433.75,625.77 434.5,625.5 435.25,625.18 436,625 436.75,624.69 437.5,624.55 438.25,624.51 439,624.53 439.75,624.36 440.5,624.13 441.25,623.41 442,622.74 442.75,621.7 443.5,620.81 444.25,619.74 445,619.14 445.75,618.39 446.5,618 447.25,617.68 448,617.54 448.75,616.51 449.5,615.4 450.25,614.25 451,613.34 451.75,612.48 452.5,612.13 453.25,610.54 454,608.71 454.75,606.67 455.5,605.56 456.25,605.33 457,604.97 457.75,603.95 458.5,603.45 459.25,602.81 460,602.33 460.75,602.27 461.5,602.08 462.25,601.67 463,601.6 463.75,601.87 464.5,602.05 465.25,602.17 466,602.17 466.75,602.8 467.5,604.28 468.25,605.73 469,606.41 469.75,607.94 470.5,610.51 471.25,611.28 472,612.23 472.75,613.58 473.5,614.78 474.25,614.81 475,615.06 475.75,615.88 476.5,616.85 477.25,617.44 478,618.28 478.75,618.48 479.5,618.45 480.25,618.55 481,618.97 481.75,619.44 482.5,620.2 483.25,620.86 484,621.43 484.75,622 485.5,622.54 486.25,622.78 487,623.07 487.75,623.46 488.5,623.64 489.25,623.4 490,623.68 490.75,623.87 491.5,623.99 492.25,624.22 493,624.66 493.75,625.04 494.5,625.36 495.25,625.6 496,625.75 496.75,625.8 497.5,625.82 498.25,625.86 499,625.91 499.75,625.97 500.5,626.08 501.25,626.08 502,626.07 502.75,626.12 503.5,626.14 504.25,626.12 505,626.2 505.75,626.29 506.5,626.39 507.25,626.52 508,626.62 508.75,626.7 509.5,626.74 510.25,626.78 511,626.8 511.75,626.84 512.5,626.89 513.25,626.94 514,626.97 514.75,626.99 515.5,627.02 516.25,627.01 517,627.02 517.75,627.04 518.5,627.07 519.25,627.09 520,627.11 520.75,627.11 521.5,627.4 521.5,627.4" stroke="none" stroke-width="0" fill="rgb(249,3,3)" fill-opacity="0.337"/>
<polyline points="394,627.4 394.75,627.4 395.5,627.4 396.25,627.4 397,627.4 397.75,627.4 398.5,627.4 399.25,627.4 400,627.4 400.75,627.4 401.5,627.4 402.25,627.4 403,627.4 403.75,627.4 404.5,627.4 405.25,627.4 406,627.4 406.75,627.4 407.5,627.4 408.25,627.4 409,627.4 409.75,627.4 410.5,627.4 411.25,627.4 412,627.4 412.75,627.4 413.5,627.4 414.25,627.4 415,627.4 415.75,627.4 416.5,627.4 417.25,627.4 418,627.4 418.75,627.4 419.5,627.4 420.25,627.4 421,627.4 421.75,627.4 422.5,627.4 423.25,627.4 424,627.4 424.75,627.4 425.5,627.4 426.25,627.4 427,627.4 427.75,627.37 428.5,627.28 429.25,627.14 430,626.93 430.75,626.72 431.5,626.51 432.25,626.27 433,626.01 433.75,625.77 434.5,625.5 435.25,625.18 436,625 436.75,624.69 437.5,624.55 438.25,624.51 439,624.53 439.75,624.36 440.5,624.13 441.25,623.41 442,622.74 442.75,621.7 443.5,620.81 444.25,619.74 445,619.14 445.75,618.39 446.5,618 447.25,617.68 448,617.54 448.75,616.51 449.5,615.4 450.25,614.25 451,613.34 451.75,612.48 452.5,612.13 453.25,610.54 454,608.71 454.75,606.67 455.5,605.56 456.25,605.33 457,604.97 457.75,603.95 458.5,603.45 459.25,602.81 460,602.33 460.75,602.27 461.5,602.08 462.25,601.67 463,601.6 463.75,601.87 464.5,602.05 465.25,602.17 466,602.17 466.75,602.8 467.5,604.28 468.25,605.73 469,606.41 469.75,607.94 470.5,610.51 471.25,611.28 472,612.23 472.75,613.58 473.5,614.78 474.25,614.81 475,615.06 475.75,615.88 476.5,616.85 477.25,617.44 478,618.28 478.75,618.48 479.5,618.45 480.25,618.55 481,618.97 481.75,619.44 482.5,620.2 483.25,620.86 484,621.43 484.75,622 485.5,622.54 486.25,622.78 487,623.07 487.75,623.46 488.5,623.64 489.25,623.4 490,623.68 490.75,623.87 491.5,623.99 492.25,624.22 493,624.66 493.75,625.04 494.5,625.36 495.25,625.6 496,625.75 496.75,625.8 497.5,625.82 498.25,625.86 499,625.91 499.75,625.97 500.5,626.08 501.25,626.08 502,626.07 502.75,626.12 503.5,626.14 504.25,626.12 505,626.2 505.75,626.29 506.5,626.39 507.25,626.52 508,626.62 508.75,626.7 509.5,626.74 510.25,626.78 511,626.8 511.75,626.84 512.5,626.89 513.25,626.94 514,626.97 514.75,626.99 515.5,627.02 516.25,627.01 517,627.02 517.75,627.04 518.5,627.07 519.25,627.09 520,627.11 520.75,627.11 521.5,627.4" stroke="#f04848" stroke-width="0.65" fill="none" />
<polygon points="394,643.65 394,643.65 394.75,643.65 395.5,643.65 396.25,643.65 397,643.65 397.75,643.65 398.5,643.65 399.25,643.65 400,643.65 400.75,643.65 401.5,643.65 402.25,643.65 403,643.65 403.75,643.65 404.5,643.65 405.25,643.65 406,643.65 406.75,643.65 407.5,643.65 408.25,643.65 409,643.65 409.75,643.65 410.5,643.65 411.25,643.65 412,643.65 412.75,643.65 413.5,643.65 414.25,643.65 415,643.65 415.75,643.65 416.5,643.65 417.25,643.65 418,643.65 418.75,643.65 419.5,643.65 420.25,643.65 421,643.65 421.75,643.65 422.5,643.65 423.25,643.65 424,643.65 424.75,643.65 425.5,643.65 426.25,643.65 427,643.65 427.75,643.65 428.5,643.65 429.25,643.65 430,643.65 430.75,643.59 431.5,643.41 432.25,643.16 433,642.82 433.75,642.42 434.5,642.1 435.25,641.62 436,641.16 436.75,640.86 437.5,640.62 438.25,640.18 439,640.09 439.75,640.25 440.5,640.18 441.25,639.74 442,639.53 442.75,639.09 443.5,638.56 444.25,637.77 445,637.22 445.75,636.71 446.5,636.37 447.25,635.72 448,635.34 448.75,635.44 449.5,635.16 450.25,633.87 451,632.48 451.75,630.91 452.5,629.41 453.25,629.04 454,627.87 454.75,625.74 455.5,623.47 456.25,621.79 457,621.15 457.75,621.09 458.5,620.54 459.25,620.01 460,619.32 460.75,618.63 461.5,618.18 462.25,618.48 463,618.78 463.75,619.78 464.5,620.72 465.25,621.57 466,622.02 466.75,622.54 467.5,623.19 468.25,625.52 469,628.35 469.75,631.08 470.5,632.62 471.25,632.8 472,633.21 472.75,634.06 473.5,634.78 474.25,635.72 475,636.52 475.75,637.05 476.5,637.28 477.25,637.39 478,637.49 478.75,637.41 479.5,637.5 480.25,637.83 481,638.15 481.75,638.5 482.5,639 483.25,639.53 484,639.61 484.75,639.78 485.5,639.91 486.25,639.92 487,639.98 487.75,640.13 488.5,640.05 489.25,640.02 490,640.12 490.75,640.14 491.5,640.06 492.25,640.17 493,640.3 493.75,640.44 494.5,640.44 495.25,640.65 496,640.78 496.75,640.88 497.5,640.89 498.25,640.94 499,640.94 499.75,641.02 500.5,641.02 501.25,641.08 502,641.16 502.75,641.25 503.5,641.36 504.25,641.4 505,641.32 505.75,641.3 506.5,641.36 507.25,641.28 508,641.39 508.75,641.62 509.5,641.78 510.25,641.85 511,642.07 511.75,642.14 512.5,642.16 513.25,642.25 514,642.31 514.75,642.4 515.5,642.43 516.25,642.5 517,642.6 517.75,642.66 518.5,642.64 519.25,642.86 520,643.09 520.75,643.25 521.5,643.65 521.5,643.65" stroke="none" stroke-width="0" fill="rgb(0,190,245)" fill-opacity="0.42"/>
<polyline points="394,643.65 394.75,643.65 395.5,643.65 396.25,643.65 397,643.65 397.75,643.65 398.5,643.65 399.25,643.65 400,643.65 400.75,643.65 401.5,643.65 402.25,643.65 403,643.65 403.75,643.65 404.5,643.65 405.25,643.65 406,643.65 406.75,643.65 407.5,643.65 408.25,643.65 409,643.65 409.75,643.65 410.5,643.65 411.25,643.65 412,643.65 412.75,643.65 413.5,643.65 414.25,643.65 415,643.65 415.75,643.65 416.5,643.65 417.25,643.65 418,643.65 418.75,643.65 419.5,643.65 420.25,643.65 421,643.65 421.75,643.65 422.5,643.65 423.25,643.65 424,643.65 424.75,643.65 425.5,643.65 426.25,643.65 427,643.65 427.75,643.65 428.5,643.65 429.25,643.65 430,643.65 430.75,643.59 431.5,643.41 432.25,643.16 433,642.82 433.75,642.42 434.5,642.1 435.25,641.62 436,641.16 436.75,640.86 437.5,640.62 438.25,640.18 439,640.09 439.75,640.25 440.5,640.18 441.25,639.74 442,639.53 442.75,639.09 443.5,638.56 444.25,637.77 445,637.22 445.75,636.71 446.5,636.37 447.25,635.72 448,635.34 448.75,635.44 449.5,635.16 450.25,633.87 451,632.48 451.75,630.91 452.5,629.41 453.25,629.04 454,627.87 454.75,625.74 455.5,623.47 456.25,621.79 457,621.15 457.75,621.09 458.5,620.54 459.25,620.01 460,619.32 460.75,618.63 461.5,618.18 462.25,618.48 463,618.78 463.75,619.78 464.5,620.72 465.25,621.57 466,622.02 466.75,622.54 467.5,623.19 468.25,625.52 469,628.35 469.75,631.08 470.5,632.62 471.25,632.8 472,633.21 472.75,634.06 473.5,634.78 474.25,635.72 475,636.52 475.75,637.05 476.5,637.28 477.25,637.39 478,637.49 478.75,637.41 479.5,637.5 480.25,637.83 481,638.15 481.75,638.5 482.5,639 483.25,639.53 484,639.61 484.75,639.78 485.5,639.91 486.25,639.92 487,639.98 487.75,640.13 488.5,640.05 489.25,640.02 490,640.12 490.75,640.14 491.5,640.06 492.25,640.17 493,640.3 493.75,640.44 494.5,640.44 495.25,640.65 496,640.78 496.75,640.88 497.5,640.89 498.25,640.94 499,640.94 499.75,641.02 500.5,641.02 501.25,641.08 502,641.16 502.75,641.25 503.5,641.36 504.25,641.4 505,641.32 505.75,641.3 506.5,641.36 507.25,641.28 508,641.39 508.75,641.62 509.5,641.78 510.25,641.85 511,642.07 511.75,642.14 512.5,642.16 513.25,642.25 514,642.31 514.75,642.4 515.5,642.43 516.25,642.5 517,642.6 517.75,642.66 518.5,642.64 519.25,642.86 520,643.09 520.75,643.25 521.5,643.65" stroke="#30c0f0" stroke-width="0.65" fill="none" />
<polygon points="394,659.9 394,659.9 394.75,659.9 395.5,659.9 396.25,659.9 397,659.9 397.75,659.9 398.5,659.9 399.25,659.9 400,659.9 400.75,659.9 401.5,659.9 402.25,659.9 403,659.9 403.75,659.9 404.5,659.9 405.25,659.9 406,659.9 406.75,659.9 407.5,659.9 408.25,659.9 409,659.9 409.75,659.9 410.5,659.9 411.25,659.9 412,659.9 412.75,659.9 413.5,659.9 414.25,659.9 415,659.9 415.75,659.9 416.5,659.9 417.25,659.9 418,659.9 418.75,659.9 419.5,659.9 420.25,659.9 421,659.9 421.75,659.9 422.5,659.9 423.25,659.9 424,659.9 424.75,659.9 425.5,659.9 426.25,659.9 427,659.9 427.75,659.9 428.5,659.9 429.25,659.9 430,659.9 430.75,659.83 431.5,659.63 432.25,659.33 433,658.94 433.75,658.47 434.5,658.08 435.25,657.53 436,657.09 436.75,656.75 437.5,656.45 438.25,655.93 439,655.81 439.75,655.7 440.5,655.46 441.25,655.15 442,654.59 442.75,654.19 443.5,653.42 444.25,652.66 445,651.79 445.75,651.24 446.5,650.56 447.25,650.19 448,649.72 448.75,649.34 449.5,649.08 450.25,648.22 451,646.55 451.75,644.94 452.5,643.2 453.25,641.41 454,639.81 454.75,639.19 455.5,638.73 456.25,638.15 457,637.42 457.75,636.58 458.5,635.49 459.25,634.86 460,634.61 460.75,634.8 461.5,635.51 462.25,636.79 463,638.03 463.75,639.24 464.5,640.56 465.25,641.55 466,642.48 466.75,642.95 467.5,643.28 468.25,644.31 469,645.98 469.75,647.38 470.5,649.08 471.25,650.69 472,651.87 472.75,652.03 473.5,652.18 474.25,652.35 475,652.47 475.75,652.52 476.5,652.7 477.25,652.91 478,653.02 478.75,653.22 479.5,653.29 480.25,653.65 481,653.7 481.75,653.6 482.5,653.33 483.25,653.19 484,653.22 484.75,653.16 485.5,653.05 486.25,653.29 487,653.43 487.75,653.17 488.5,653.08 489.25,653.03 490,652.71 490.75,652.56 491.5,652.6 492.25,652.63 493,652.82 493.75,653.13 494.5,653.18 495.25,653.39 496,653.36 496.75,653.46 497.5,653.71 498.25,654.04 499,654.14 499.75,654.71 500.5,655.01 501.25,655.24 502,655.33 502.75,655.69 503.5,655.57 504.25,655.43 505,655.17 505.75,655.46 506.5,655.42 507.25,655.81 508,656.27 508.75,656.53 509.5,656.64 510.25,657.08 511,657.31 511.75,657.53 512.5,657.92 513.25,658.15 514,658.2 514.75,658.33 515.5,658.45 516.25,658.39 517,658.52 517.75,658.77 518.5,659 519.25,659.23 520,659.42 520.75,659.56 521.5,659.9 521.5,659.9" stroke="none" stroke-width="0" fill="rgb(250,110,0)" fill-opacity="0.38"/>
<polyline points="394,659.9 394.75,659.9 395.5,659.9 396.25,659.9 397,659.9 397.75,659.9 398.5,659.9 399.25,659.9 400,659.9 400.75,659.9 401.5,659.9 402.25,659.9 403,659.9 403.75,659.9 404.5,659.9 405.25,659.9 406,659.9 406.75,659.9 407.5,659.9 408.25,659.9 409,659.9 409.75,659.9 410.5,659.9 411.25,659.9 412,659.9 412.75,659.9 413.5,659.9 414.25,659.9 415,659.9 415.75,659.9 416.5,659.9 417.25,659.9 418,659.9 418.75,659.9 419.5,659.9 420.25,659.9 421,659.9 421.75,659.9 422.5,659.9 423.25,659.9 424,659.9 424.75,659.9 425.5,659.9 426.25,659.9 427,659.9 427.75,659.9 428.5,659.9 429.25,659.9 430,659.9 430.75,659.83 431.5,659.63 432.25,659.33 433,658.94 433.75,658.47 434.5,658.08 435.25,657.53 436,657.09 436.75,656.75 437.5,656.45 438.25,655.93 439,655.81 439.75,655.7 440.5,655.46 441.25,655.15 442,654.59 442.75,654.19 443.5,653.42 444.25,652.66 445,651.79 445.75,651.24 446.5,650.56 447.25,650.19 448,649.72 448.75,649.34 449.5,649.08 450.25,648.22 451,646.55 451.75,644.94 452.5,643.2 453.25,641.41 454,639.81 454.75,639.19 455.5,638.73 456.25,638.15 457,637.42 457.75,636.58 458.5,635.49 459.25,634.86 460,634.61 460.75,634.8 461.5,635.51 462.25,636.79 463,638.03 463.75,639.24 464.5,640.56 465.25,641.55 466,642.48 466.75,642.95 467.5,643.28 468.25,644.31 469,645.98 469.75,647.38 470.5,649.08 471.25,650.69 472,651.87 472.75,652.03 473.5,652.18 474.25,652.35 475,652.47 475.75,652.52 476.5,652.7 477.25,652.91 478,653.02 478.75,653.22 479.5,653.29 480.25,653.65 481,653.7 481.75,653.6 482.5,653.33 483.25,653.19 484,653.22 484.75,653.16 485.5,653.05 486.25,653.29 487,653.43 487.75,653.17 488.5,653.08 489.25,653.03 490,652.71 490.75,652.56 491.5,652.6 492.25,652.63 493,652.82 493.75,653.13 494.5,653.18 495.25,653.39 496,653.36 496.75,653.46 497.5,653.71 498.25,654.04 499,654.14 499.75,654.71 500.5,655.01 501.25,655.24 502,655.33 502.75,655.69 503.5,655.57 504.25,655.43 505,655.17 505.75,655.46 506.5,655.42 507.25,655.81 508,656.27 508.75,656.53 509.5,656.64 510.25,657.08 511,657.31 511.75,657.53 512.5,657.92 513.25,658.15 514,658.2 514.75,658.33 515.5,658.45 516.25,658.39 517,658.52 517.75,658.77 518.5,659 519.25,659.23 520,659.42 520.75,659.56 521.5,659.9" stroke="#f0a050" stroke-width="0.65" fill="none" />
<polygon points="394,676.15 394,676.15 394.75,676.15 395.5,676.15 396.25,676.15 397,676.15 397.75,676.15 398.5,676.15 399.25,676.15 400,676.15 400.75,676.15 401.5,676.15 402.25,676.15 403,676.15 403.75,676.15 404.5,676.15 405.25,676.15 406,676.15 406.75,676.15 407.5,676.15 408.25,676.15 409,676.15 409.75,676.15 410.5,676.15 411.25,676.15 412,676.15 412.75,676.15 413.5,676.15 414.25,676.15 415,676.15 415.75,676.15 416.5,676.15 417.25,676.15 418,676.15 418.75,676.15 419.5,676.15 420.25,676.15 421,676.15 421.75,676.15 422.5,676.15 423.25,676.15 424,676.15 424.75,676.15 425.5,676.15 426.25,676.15 427,676.15 427.75,676.15 428.5,676.15 429.25,676.15 430,676.15 430.75,676.1 431.5,675.97 432.25,675.78 433,675.53 433.75,675.24 434.5,675 435.25,674.62 436,674.31 436.75,674.12 437.5,673.94 438.25,673.81 439,673.83 439.75,673.89 440.5,673.7 441.25,673.36 442,672.79 442.75,672.34 443.5,671.67 444.25,671.02 445,670.44 445.75,669.83 446.5,669.39 447.25,668.89 448,668.6 448.75,668.36 449.5,668.31 450.25,667.84 451,667.23 451.75,666.09 452.5,665.21 453.25,664.23 454,663.42 454.75,662.83 455.5,662.84 456.25,662.32 457,661.78 457.75,660.54 458.5,659.39 459.25,658.23 460,657.24 460.75,656.43 461.5,656.27 462.25,656.26 463,656.8 463.75,657.59 464.5,658.28 465.25,659.26 466,660.25 466.75,661.27 467.5,661.87 468.25,662.57 469,662.79 469.75,663.38 470.5,663.89 471.25,664.99 472,665.57 472.75,665.63 473.5,665.79 474.25,665.92 475,665.87 475.75,665.95 476.5,666 477.25,665.9 478,666.01 478.75,666.1 479.5,666.02 480.25,666.31 481,666.25 481.75,666.04 482.5,665.89 483.25,665.89 484,665.91 484.75,665.95 485.5,666.11 486.25,666.37 487,666.59 487.75,666.59 488.5,666.85 489.25,667.01 490,667.1 490.75,667.02 491.5,667.16 492.25,667.1 493,667.07 493.75,667.17 494.5,667.22 495.25,666.99 496,667.01 496.75,667.09 497.5,666.91 498.25,667.25 499,667.81 499.75,668.07 500.5,668.62 501.25,669.2 502,669.73 502.75,670.04 503.5,670.74 504.25,671.07 505,671.63 505.75,671.95 506.5,672.47 507.25,672.68 508,672.82 508.75,672.68 509.5,672.7 510.25,672.63 511,672.83 511.75,673.22 512.5,673.54 513.25,673.9 514,674.23 514.75,674.57 515.5,674.71 516.25,674.96 517,675.07 517.75,675.12 518.5,675.12 519.25,675.32 520,675.52 520.75,675.76 521.5,676.15 521.5,676.15" stroke="none" stroke-width="0" fill="rgb(40,240,10)" fill-opacity="0.35"/>
<polyline points="394,676.15 394.75,676.15 395.5,676.15 396.25,676.15 397,676.15 397.75,676.15 398.5,676.15 399.25,676.15 400,676.15 400.75,676.15 401.5,676.15 402.25,676.15 403,676.15 403.75,676.15 404.5,676.15 405.25,676.15 406,676.15 406.75,676.15 407.5,676.15 408.25,676.15 409,676.15 409.75,676.15 410.5,676.15 411.25,676.15 412,676.15 412.75,676.15 413.5,676.15 414.25,676.15 415,676.15 415.75,676.15 416.5,676.15 417.25,676.15 418,676.15 418.75,676.15 419.5,676.15 420.25,676.15 421,676.15 421.75,676.15 422.5,676.15 423.25,676.15 424,676.15 424.75,676.15 425.5,676.15 426.25,676.15 427,676.15 427.75,676.15 428.5,676.15 429.25,676.15 430,676.15 430.75,676.1 431.5,675.97 432.25,675.78 433,675.53 433.75,675.24 434.5,675 435.25,674.62 436,674.31 436.75,674.12 437.5,673.94 438.25,673.81 439,673.83 439.75,673.89 440.5,673.7 441.25,673.36 442,672.79 442.75,672.34 443.5,671.67 444.25,671.02 445,670.44 445.75,669.83 446.5,669.39 447.25,668.89 448,668.6 448.75,668.36 449.5,668.31 450.25,667.84 451,667.23 451.75,666.09 452.5,665.21 453.25,664.23 454,663.42 454.75,662.83 455.5,662.84 456.25,662.32 457,661.78 457.75,660.54 458.5,659.39 459.25,658.23 460,657.24 460.75,656.43 461.5,656.27 462.25,656.26 463,656.8 463.75,657.59 464.5,658.28 465.25,659.26 466,660.25 466.75,661.27 467.5,661.87 468.25,662.57 469,662.79 469.75,663.38 470.5,663.89 471.25,664.99 472,665.57 472.75,665.63 473.5,665.79 474.25,665.92 475,665.87 475.75,665.95 476.5,666 477.25,665.9 478,666.01 478.75,666.1 479.5,666.02 480.25,666.31 481,666.25 481.75,666.04 482.5,665.89 483.25,665.89 484,665.91 484.75,665.95 485.5,666.11 486.25,666.37 487,666.59 487.75,666.59 488.5,666.85 489.25,667.01 490,667.1 490.75,667.02 491.5,667.16 492.25,667.1 493,667.07 493.75,667.17 494.5,667.22 495.25,666.99 496,667.01 496.75,667.09 497.5,666.91 498.25,667.25 499,667.81 499.75,668.07 500.5,668.62 501.25,669.2 502,669.73 502.75,670.04 503.5,670.74 504.25,671.07 505,671.63 505.75,671.95 506.5,672.47 507.25,672.68 508,672.82 508.75,672.68 509.5,672.7 510.25,672.63 511,672.83 511.75,673.22 512.5,673.54 513.25,673.9 514,674.23 514.75,674.57 515.5,674.71 516.25,674.96 517,675.07 517.75,675.12 518.5,675.12 519.25,675.32 520,675.52 520.75,675.76 521.5,676.15" stroke="#60e040" stroke-width="0.65" fill="none" />
<polygon points="394,692.4 394,692.4 394.75,692.4 395.5,692.4 396.25,692.4 397,692.4 397.75,692.4 398.5,692.4 399.25,692.4 400,692.4 400.75,692.4 401.5,692.4 402.25,692.4 403,692.4 403.75,692.4 404.5,692.4 405.25,692.4 406,692.4 406.75,692.4 407.5,692.4 408.25,692.4 409,692.4 409.75,692.4 410.5,692.4 411.25,692.4 412,692.4 412.75,692.4 413.5,692.4 414.25,692.4 415,692.4 415.75,692.4 416.5,692.4 417.25,692.4 418,692.4 418.75,692.4 419.5,692.4 420.25,692.4 421,692.4 421.75,692.4 422.5,692.4 423.25,692.4 424,692.4 424.75,692.4 425.5,692.4 426.25,692.4 427,692.4 427.75,692.38 428.5,692.32 429.25,692.22 430,692.1 430.75,691.97 431.5,691.82 432.25,691.68 433,691.55 433.75,691.36 434.5,691.18 435.25,691.11 436,690.99 436.75,690.77 437.5,690.62 438.25,690.42 439,690.3 439.75,690.1 440.5,689.96 441.25,689.7 442,689.44 442.75,689.02 443.5,688.79 444.25,688.51 445,688.03 445.75,687.73 446.5,687.22 447.25,686.81 448,686.5 448.75,686.34 449.5,686.09 450.25,685.84 451,685.07 451.75,684.23 452.5,683.4 453.25,682.26 454,681.3 454.75,680.62 455.5,680.27 456.25,680 457,679.72 457.75,679.24 458.5,679.02 459.25,678.84 460,678.43 460.75,678.34 461.5,678.25 462.25,678.19 463,677.91 463.75,677.8 464.5,678.08 465.25,678.36 466,678.69 466.75,679.33 467.5,679.92 468.25,680.39 469,680.83 469.75,681.36 470.5,681.37 471.25,681.63 472,681.67 472.75,681.5 473.5,681.07 474.25,680.99 475,680.6 475.75,680.34 476.5,680.55 477.25,680.68 478,680.55 478.75,680.42 479.5,680.4 480.25,680.2 481,680.06 481.75,679.97 482.5,680.22 483.25,679.9 484,679.88 484.75,679.75 485.5,679.96 486.25,679.88 487,679.83 487.75,679.73 488.5,679.66 489.25,679.57 490,679.55 490.75,680.07 491.5,680.22 492.25,680.31 493,680.49 493.75,680.89 494.5,681.12 495.25,681.33 496,681.72 496.75,682.23 497.5,682.54 498.25,682.7 499,683.16 499.75,683.63 500.5,683.43 501.25,683.44 502,683.87 502.75,684.47 503.5,684.86 504.25,685.51 505,686.23 505.75,686.86 506.5,687.06 507.25,687.25 508,687.56 508.75,687.51 509.5,687.53 510.25,687.97 511,688.73 511.75,689.28 512.5,689.89 513.25,690.49 514,690.99 514.75,691.28 515.5,691.48 516.25,691.47 517,691.51 517.75,691.55 518.5,691.66 519.25,691.81 520,691.97 520.75,692.06 521.5,692.4 521.5,692.4" stroke="none" stroke-width="0" fill="rgb(65,110,25)" fill-opacity="0.5"/>
<polyline points="394,692.4 394.75,692.4 395.5,692.4 396.25,692.4 397,692.4 397.75,692.4 398.5,692.4 399.25,692.4 400,692.4 400.75,692.4 401.5,692.4 402.25,692.4 403,692.4 403.75,692.4 404.5,692.4 405.25,692.4 406,692.4 406.75,692.4 407.5,692.4 408.25,692.4 409,692.4 409.75,692.4 410.5,692.4 411.25,692.4 412,692.4 412.75,692.4 413.5,692.4 414.25,692.4 415,692.4 415.75,692.4 416.5,692.4 417.25,692.4 418,692.4 418.75,692.4 419.5,692.4 420.25,692.4 421,692.4 421.75,692.4 422.5,692.4 423.25,692.4 424,692.4 424.75,692.4 425.5,692.4 426.25,692.4 427,692.4 427.75,692.38 428.5,692.32 429.25,692.22 430,692.1 430.75,691.97 431.5,691.82 432.25,691.68 433,691.55 433.75,691.36 434.5,691.18 435.25,691.11 436,690.99 436.75,690.77 437.5,690.62 438.25,690.42 439,690.3 439.75,690.1 440.5,689.96 441.25,689.7 442,689.44 442.75,689.02 443.5,688.79 444.25,688.51 445,688.03 445.75,687.73 446.5,687.22 447.25,686.81 448,686.5 448.75,686.34 449.5,686.09 450.25,685.84 451,685.07 451.75,684.23 452.5,683.4 453.25,682.26 454,681.3 454.75,680.62 455.5,680.27 456.25,680 457,679.72 457.75,679.24 458.5,679.02 459.25,678.84 460,678.43 460.75,678.34 461.5,678.25 462.25,678.19 463,677.91 463.75,677.8 464.5,678.08 465.25,678.36 466,678.69 466.75,679.33 467.5,679.92 468.25,680.39 469,680.83 469.75,681.36 470.5,681.37 471.25,681.63 472,681.67 472.75,681.5 473.5,681.07 474.25,680.99 475,680.6 475.75,680.34 476.5,680.55 477.25,680.68 478,680.55 478.75,680.42 479.5,680.4 480.25,680.2 481,680.06 481.75,679.97 482.5,680.22 483.25,679.9 484,679.88 484.75,679.75 485.5,679.96 486.25,679.88 487,679.83 487.75,679.73 488.5,679.66 489.25,679.57 490,679.55 490.75,680.07 491.5,680.22 492.25,680.31 493,680.49 493.75,680.89 494.5,681.12 495.25,681.33 496,681.72 496.75,682.23 497.5,682.54 498.25,682.7 499,683.16 499.75,683.63 500.5,683.43 501.25,683.44 502,683.87 502.75,684.47 503.5,684.86 504.25,685.51 505,686.23 505.75,686.86 506.5,687.06 507.25,687.25 508,687.56 508.75,687.51 509.5,687.53 510.25,687.97 511,688.73 511.75,689.28 512.5,689.89 513.25,690.49 514,690.99 514.75,691.28 515.5,691.48 516.25,691.47 517,691.51 517.75,691.55 518.5,691.66 519.25,691.81 520,691.97 520.75,692.06 521.5,692.4" stroke="#4a6a2a" stroke-width="0.65" fill="none" />
<line x1="394" y1="693.1" x2="521.5" y2="693.1" stroke="#222" stroke-width="0.7" />
<line x1="401" y1="693.1" x2="401" y2="695.4" stroke="#222" stroke-width="0.6" />
<line x1="406.12" y1="693.1" x2="406.12" y2="694.5" stroke="#222" stroke-width="0.45" />
<line x1="409.11" y1="693.1" x2="409.11" y2="694.5" stroke="#222" stroke-width="0.45" />
<line x1="411.24" y1="693.1" x2="411.24" y2="694.5" stroke="#222" stroke-width="0.45" />
<line x1="412.88" y1="693.1" x2="412.88" y2="694.5" stroke="#222" stroke-width="0.45" />
<line x1="414.23" y1="693.1" x2="414.23" y2="694.5" stroke="#222" stroke-width="0.45" />
<line x1="415.37" y1="693.1" x2="415.37" y2="694.5" stroke="#222" stroke-width="0.45" />
<line x1="416.35" y1="693.1" x2="416.35" y2="694.5" stroke="#222" stroke-width="0.45" />
<line x1="417.22" y1="693.1" x2="417.22" y2="694.5" stroke="#222" stroke-width="0.45" />
<text x="401" y="705.2" font-size="7.1" text-anchor="middle" fill="#222">10<tspan font-size="4.9" dy="-2.8">0</tspan></text>
<line x1="418" y1="693.1" x2="418" y2="695.4" stroke="#222" stroke-width="0.6" />
<line x1="425.01" y1="693.1" x2="425.01" y2="694.5" stroke="#222" stroke-width="0.45" />
<line x1="429.12" y1="693.1" x2="429.12" y2="694.5" stroke="#222" stroke-width="0.45" />
<line x1="432.03" y1="693.1" x2="432.03" y2="694.5" stroke="#222" stroke-width="0.45" />
<line x1="434.29" y1="693.1" x2="434.29" y2="694.5" stroke="#222" stroke-width="0.45" />
<line x1="436.13" y1="693.1" x2="436.13" y2="694.5" stroke="#222" stroke-width="0.45" />
<line x1="437.69" y1="693.1" x2="437.69" y2="694.5" stroke="#222" stroke-width="0.45" />
<line x1="439.04" y1="693.1" x2="439.04" y2="694.5" stroke="#222" stroke-width="0.45" />
<line x1="440.23" y1="693.1" x2="440.23" y2="694.5" stroke="#222" stroke-width="0.45" />
<text x="417.5" y="705.2" font-size="7.1" text-anchor="middle" fill="#222">10<tspan font-size="4.9" dy="-2.8">1</tspan></text>
<line x1="441.3" y1="693.1" x2="441.3" y2="695.4" stroke="#222" stroke-width="0.6" />
<line x1="448.43" y1="693.1" x2="448.43" y2="694.5" stroke="#222" stroke-width="0.45" />
<line x1="452.61" y1="693.1" x2="452.61" y2="694.5" stroke="#222" stroke-width="0.45" />
<line x1="455.57" y1="693.1" x2="455.57" y2="694.5" stroke="#222" stroke-width="0.45" />
<line x1="457.87" y1="693.1" x2="457.87" y2="694.5" stroke="#222" stroke-width="0.45" />
<line x1="459.74" y1="693.1" x2="459.74" y2="694.5" stroke="#222" stroke-width="0.45" />
<line x1="461.33" y1="693.1" x2="461.33" y2="694.5" stroke="#222" stroke-width="0.45" />
<line x1="462.7" y1="693.1" x2="462.7" y2="694.5" stroke="#222" stroke-width="0.45" />
<line x1="463.92" y1="693.1" x2="463.92" y2="694.5" stroke="#222" stroke-width="0.45" />
<text x="440.8" y="705.2" font-size="7.1" text-anchor="middle" fill="#222">10<tspan font-size="4.9" dy="-2.8">2</tspan></text>
<line x1="465" y1="693.1" x2="465" y2="695.4" stroke="#222" stroke-width="0.6" />
<line x1="472.22" y1="693.1" x2="472.22" y2="694.5" stroke="#222" stroke-width="0.45" />
<line x1="476.45" y1="693.1" x2="476.45" y2="694.5" stroke="#222" stroke-width="0.45" />
<line x1="479.45" y1="693.1" x2="479.45" y2="694.5" stroke="#222" stroke-width="0.45" />
<line x1="481.78" y1="693.1" x2="481.78" y2="694.5" stroke="#222" stroke-width="0.45" />
<line x1="483.68" y1="693.1" x2="483.68" y2="694.5" stroke="#222" stroke-width="0.45" />
<line x1="485.28" y1="693.1" x2="485.28" y2="694.5" stroke="#222" stroke-width="0.45" />
<line x1="486.67" y1="693.1" x2="486.67" y2="694.5" stroke="#222" stroke-width="0.45" />
<line x1="487.9" y1="693.1" x2="487.9" y2="694.5" stroke="#222" stroke-width="0.45" />
<text x="464.5" y="705.2" font-size="7.1" text-anchor="middle" fill="#222">10<tspan font-size="4.9" dy="-2.8">3</tspan></text>
<line x1="489" y1="693.1" x2="489" y2="695.4" stroke="#222" stroke-width="0.6" />
<line x1="496.22" y1="693.1" x2="496.22" y2="694.5" stroke="#222" stroke-width="0.45" />
<line x1="500.45" y1="693.1" x2="500.45" y2="694.5" stroke="#222" stroke-width="0.45" />
<line x1="503.45" y1="693.1" x2="503.45" y2="694.5" stroke="#222" stroke-width="0.45" />
<line x1="505.78" y1="693.1" x2="505.78" y2="694.5" stroke="#222" stroke-width="0.45" />
<line x1="507.68" y1="693.1" x2="507.68" y2="694.5" stroke="#222" stroke-width="0.45" />
<line x1="509.28" y1="693.1" x2="509.28" y2="694.5" stroke="#222" stroke-width="0.45" />
<line x1="510.67" y1="693.1" x2="510.67" y2="694.5" stroke="#222" stroke-width="0.45" />
<line x1="511.9" y1="693.1" x2="511.9" y2="694.5" stroke="#222" stroke-width="0.45" />
<text x="488.5" y="705.2" font-size="7.1" text-anchor="middle" fill="#222">10<tspan font-size="4.9" dy="-2.8">4</tspan></text>
<line x1="513" y1="693.1" x2="513" y2="695.4" stroke="#222" stroke-width="0.6" />
<text x="512.5" y="705.2" font-size="7.1" text-anchor="middle" fill="#222">10<tspan font-size="4.9" dy="-2.8">5</tspan></text>
<polygon points="521.6,594.9 521.6,594.9 522.35,594.9 523.1,594.9 523.85,594.9 524.6,594.9 525.35,594.9 526.1,594.9 526.85,594.9 527.6,594.9 528.35,594.9 529.1,594.9 529.85,594.9 530.6,594.9 531.35,594.9 532.1,594.9 532.85,594.9 533.6,594.9 534.35,594.9 535.1,594.9 535.85,594.9 536.6,594.9 537.35,594.9 538.1,594.9 538.85,594.9 539.6,594.9 540.35,594.9 541.1,594.9 541.85,594.9 542.6,594.9 543.35,594.9 544.1,594.9 544.85,594.9 545.6,594.9 546.35,594.9 547.1,594.9 547.85,594.9 548.6,594.9 549.35,594.9 550.1,594.9 550.85,594.9 551.6,594.9 552.35,594.9 553.1,594.9 553.85,594.9 554.6,594.9 555.35,594.9 556.1,594.9 556.85,594.9 557.6,594.9 558.35,594.9 559.1,594.9 559.85,594.9 560.6,594.9 561.35,594.9 562.1,594.9 562.85,594.9 563.6,594.9 564.35,594.9 565.1,594.9 565.85,594.9 566.6,594.87 567.35,594.73 568.1,594.52 568.85,594.23 569.6,593.8 570.35,593.44 571.1,592.99 571.85,592.63 572.6,592.18 573.35,591.79 574.1,591.25 574.85,591.12 575.6,590.93 576.35,590.77 577.1,590.86 577.85,590.52 578.6,589.55 579.35,588.47 580.1,587.42 580.85,586.14 581.6,584.9 582.35,584.06 583.1,583.23 583.85,582.56 584.6,582.39 585.35,582.43 586.1,582.07 586.85,581.68 587.6,581.44 588.35,581.11 589.1,580.64 589.85,580.24 590.6,580.2 591.35,580.26 592.1,580.21 592.85,580.19 593.6,580.31 594.35,580.45 595.1,580.59 595.85,580.67 596.6,580.67 597.35,580.69 598.1,580.64 598.85,580.48 599.6,580.44 600.35,580.31 601.1,580.24 601.85,580.09 602.6,580.07 603.35,580.11 604.1,580.23 604.85,580.22 605.6,580.31 606.35,580.45 607.1,580.6 607.85,580.59 608.6,581.04 609.35,581.19 610.1,581.25 610.85,581.35 611.6,581.52 612.35,581.43 613.1,581.81 613.85,581.81 614.6,582.05 615.35,582.33 616.1,582.61 616.85,582.92 617.6,583.61 618.35,584.11 619.1,584.48 619.85,584.74 620.6,584.87 621.35,584.9 622.1,584.89 622.85,585.17 623.6,585.59 624.35,585.87 625.1,586.11 625.85,586.54 626.6,587.07 627.35,587.81 628.1,588.49 628.85,588.75 629.6,588.86 630.35,589.19 631.1,589.46 631.85,589.76 632.6,590.46 633.35,591.05 634.1,591.54 634.85,592.01 635.6,592.51 636.35,592.86 637.1,593.12 637.85,593.24 638.6,593.4 639.35,593.75 640.1,594.1 640.85,594.43 641.6,594.6 642.35,594.6 643.1,594.6 643.85,594.6 644.6,594.6 645.35,594.6 646.1,594.6 646.85,594.6 647.6,594.6 648.35,594.6 649.1,594.9 649.1,594.9" stroke="none" stroke-width="0" fill="rgb(150,70,70)" fill-opacity="0.22"/>
<polyline points="521.6,594.9 522.35,594.9 523.1,594.9 523.85,594.9 524.6,594.9 525.35,594.9 526.1,594.9 526.85,594.9 527.6,594.9 528.35,594.9 529.1,594.9 529.85,594.9 530.6,594.9 531.35,594.9 532.1,594.9 532.85,594.9 533.6,594.9 534.35,594.9 535.1,594.9 535.85,594.9 536.6,594.9 537.35,594.9 538.1,594.9 538.85,594.9 539.6,594.9 540.35,594.9 541.1,594.9 541.85,594.9 542.6,594.9 543.35,594.9 544.1,594.9 544.85,594.9 545.6,594.9 546.35,594.9 547.1,594.9 547.85,594.9 548.6,594.9 549.35,594.9 550.1,594.9 550.85,594.9 551.6,594.9 552.35,594.9 553.1,594.9 553.85,594.9 554.6,594.9 555.35,594.9 556.1,594.9 556.85,594.9 557.6,594.9 558.35,594.9 559.1,594.9 559.85,594.9 560.6,594.9 561.35,594.9 562.1,594.9 562.85,594.9 563.6,594.9 564.35,594.9 565.1,594.9 565.85,594.9 566.6,594.87 567.35,594.73 568.1,594.52 568.85,594.23 569.6,593.8 570.35,593.44 571.1,592.99 571.85,592.63 572.6,592.18 573.35,591.79 574.1,591.25 574.85,591.12 575.6,590.93 576.35,590.77 577.1,590.86 577.85,590.52 578.6,589.55 579.35,588.47 580.1,587.42 580.85,586.14 581.6,584.9 582.35,584.06 583.1,583.23 583.85,582.56 584.6,582.39 585.35,582.43 586.1,582.07 586.85,581.68 587.6,581.44 588.35,581.11 589.1,580.64 589.85,580.24 590.6,580.2 591.35,580.26 592.1,580.21 592.85,580.19 593.6,580.31 594.35,580.45 595.1,580.59 595.85,580.67 596.6,580.67 597.35,580.69 598.1,580.64 598.85,580.48 599.6,580.44 600.35,580.31 601.1,580.24 601.85,580.09 602.6,580.07 603.35,580.11 604.1,580.23 604.85,580.22 605.6,580.31 606.35,580.45 607.1,580.6 607.85,580.59 608.6,581.04 609.35,581.19 610.1,581.25 610.85,581.35 611.6,581.52 612.35,581.43 613.1,581.81 613.85,581.81 614.6,582.05 615.35,582.33 616.1,582.61 616.85,582.92 617.6,583.61 618.35,584.11 619.1,584.48 619.85,584.74 620.6,584.87 621.35,584.9 622.1,584.89 622.85,585.17 623.6,585.59 624.35,585.87 625.1,586.11 625.85,586.54 626.6,587.07 627.35,587.81 628.1,588.49 628.85,588.75 629.6,588.86 630.35,589.19 631.1,589.46 631.85,589.76 632.6,590.46 633.35,591.05 634.1,591.54 634.85,592.01 635.6,592.51 636.35,592.86 637.1,593.12 637.85,593.24 638.6,593.4 639.35,593.75 640.1,594.1 640.85,594.43 641.6,594.6 642.35,594.6 643.1,594.6 643.85,594.6 644.6,594.6 645.35,594.6 646.1,594.6 646.85,594.6 647.6,594.6 648.35,594.6 649.1,594.9" stroke="#d2b4b4" stroke-width="0.65" fill="none" />
<polygon points="521.6,611.15 521.6,611.15 522.35,611.15 523.1,611.15 523.85,611.15 524.6,611.15 525.35,611.15 526.1,611.15 526.85,611.15 527.6,611.15 528.35,611.15 529.1,611.15 529.85,611.15 530.6,611.15 531.35,611.15 532.1,611.15 532.85,611.15 533.6,611.15 534.35,611.15 535.1,611.15 535.85,611.15 536.6,611.15 537.35,611.15 538.1,611.15 538.85,611.15 539.6,611.15 540.35,611.15 541.1,611.15 541.85,611.15 542.6,611.15 543.35,611.15 544.1,611.15 544.85,611.15 545.6,611.15 546.35,611.15 547.1,611.15 547.85,611.15 548.6,611.15 549.35,611.15 550.1,611.15 550.85,611.15 551.6,611.15 552.35,611.15 553.1,611.15 553.85,611.15 554.6,611.15 555.35,611.15 556.1,611.15 556.85,611.15 557.6,611.15 558.35,611.13 559.1,611.04 559.85,610.86 560.6,610.61 561.35,610.33 562.1,609.99 562.85,609.62 563.6,609.2 564.35,608.97 565.1,608.75 565.85,608.47 566.6,608.34 567.35,608.43 568.1,608.29 568.85,608.09 569.6,607.74 570.35,607.52 571.1,607.03 571.85,606.46 572.6,605.71 573.35,605.07 574.1,604.11 574.85,603.32 575.6,602.77 576.35,602.1 577.1,601.45 577.85,601.16 578.6,600.79 579.35,600.25 580.1,600.1 580.85,600.08 581.6,599.15 582.35,597.69 583.1,596.37 583.85,594.99 584.6,593.8 585.35,593.3 586.1,593.06 586.85,592.13 587.6,591.39 588.35,590.42 589.1,589.65 589.85,589.65 590.6,590.24 591.35,590.88 592.1,592.15 592.85,593.34 593.6,594.15 594.35,594.78 595.1,595.09 595.85,595.28 596.6,595.59 597.35,596.17 598.1,596.86 598.85,597.52 599.6,598.29 600.35,598.95 601.1,599.42 601.85,599.85 602.6,599.94 603.35,600.01 604.1,600.29 604.85,600.52 605.6,600.71 606.35,601.06 607.1,601.38 607.85,601.58 608.6,601.96 609.35,602.32 610.1,602.54 610.85,602.73 611.6,602.99 612.35,603.25 613.1,603.07 613.85,603.13 614.6,603 615.35,603.16 616.1,603.13 616.85,603.42 617.6,603.84 618.35,604.06 619.1,604.2 619.85,604.52 620.6,604.73 621.35,604.68 622.1,604.78 622.85,604.92 623.6,605.06 624.35,605.26 625.1,605.37 625.85,605.72 626.6,606.11 627.35,606.37 628.1,606.5 628.85,606.93 629.6,607.13 630.35,607.22 631.1,607.5 631.85,607.69 632.6,607.85 633.35,608.08 634.1,608.22 634.85,608.4 635.6,608.77 636.35,608.92 637.1,609.07 637.85,609.27 638.6,609.4 639.35,609.6 640.1,609.85 640.85,610.15 641.6,610.39 642.35,610.57 643.1,610.67 643.85,610.68 644.6,610.66 645.35,610.68 646.1,610.74 646.85,610.76 647.6,610.8 648.35,610.83 649.1,611.15 649.1,611.15" stroke="none" stroke-width="0" fill="rgb(0,0,208)" fill-opacity="0.41"/>
<polyline points="521.6,611.15 522.35,611.15 523.1,611.15 523.85,611.15 524.6,611.15 525.35,611.15 526.1,611.15 526.85,611.15 527.6,611.15 528.35,611.15 529.1,611.15 529.85,611.15 530.6,611.15 531.35,611.15 532.1,611.15 532.85,611.15 533.6,611.15 534.35,611.15 535.1,611.15 535.85,611.15 536.6,611.15 537.35,611.15 538.1,611.15 538.85,611.15 539.6,611.15 540.35,611.15 541.1,611.15 541.85,611.15 542.6,611.15 543.35,611.15 544.1,611.15 544.85,611.15 545.6,611.15 546.35,611.15 547.1,611.15 547.85,611.15 548.6,611.15 549.35,611.15 550.1,611.15 550.85,611.15 551.6,611.15 552.35,611.15 553.1,611.15 553.85,611.15 554.6,611.15 555.35,611.15 556.1,611.15 556.85,611.15 557.6,611.15 558.35,611.13 559.1,611.04 559.85,610.86 560.6,610.61 561.35,610.33 562.1,609.99 562.85,609.62 563.6,609.2 564.35,608.97 565.1,608.75 565.85,608.47 566.6,608.34 567.35,608.43 568.1,608.29 568.85,608.09 569.6,607.74 570.35,607.52 571.1,607.03 571.85,606.46 572.6,605.71 573.35,605.07 574.1,604.11 574.85,603.32 575.6,602.77 576.35,602.1 577.1,601.45 577.85,601.16 578.6,600.79 579.35,600.25 580.1,600.1 580.85,600.08 581.6,599.15 582.35,597.69 583.1,596.37 583.85,594.99 584.6,593.8 585.35,593.3 586.1,593.06 586.85,592.13 587.6,591.39 588.35,590.42 589.1,589.65 589.85,589.65 590.6,590.24 591.35,590.88 592.1,592.15 592.85,593.34 593.6,594.15 594.35,594.78 595.1,595.09 595.85,595.28 596.6,595.59 597.35,596.17 598.1,596.86 598.85,597.52 599.6,598.29 600.35,598.95 601.1,599.42 601.85,599.85 602.6,599.94 603.35,600.01 604.1,600.29 604.85,600.52 605.6,600.71 606.35,601.06 607.1,601.38 607.85,601.58 608.6,601.96 609.35,602.32 610.1,602.54 610.85,602.73 611.6,602.99 612.35,603.25 613.1,603.07 613.85,603.13 614.6,603 615.35,603.16 616.1,603.13 616.85,603.42 617.6,603.84 618.35,604.06 619.1,604.2 619.85,604.52 620.6,604.73 621.35,604.68 622.1,604.78 622.85,604.92 623.6,605.06 624.35,605.26 625.1,605.37 625.85,605.72 626.6,606.11 627.35,606.37 628.1,606.5 628.85,606.93 629.6,607.13 630.35,607.22 631.1,607.5 631.85,607.69 632.6,607.85 633.35,608.08 634.1,608.22 634.85,608.4 635.6,608.77 636.35,608.92 637.1,609.07 637.85,609.27 638.6,609.4 639.35,609.6 640.1,609.85 640.85,610.15 641.6,610.39 642.35,610.57 643.1,610.67 643.85,610.68 644.6,610.66 645.35,610.68 646.1,610.74 646.85,610.76 647.6,610.8 648.35,610.83 649.1,611.15" stroke="#2a2ad8" stroke-width="0.65" fill="none" />
<polygon points="521.6,627.4 521.6,627.4 522.35,627.4 523.1,627.4 523.85,627.4 524.6,627.4 525.35,627.4 526.1,627.4 526.85,627.4 527.6,627.4 528.35,627.4 529.1,627.4 529.85,627.4 530.6,627.4 531.35,627.4 532.1,627.4 532.85,627.4 533.6,627.4 534.35,627.4 535.1,627.4 535.85,627.4 536.6,627.4 537.35,627.4 538.1,627.4 538.85,627.4 539.6,627.4 540.35,627.4 541.1,627.4 541.85,627.4 542.6,627.4 543.35,627.4 544.1,627.4 544.85,627.4 545.6,627.4 546.35,627.4 547.1,627.4 547.85,627.4 548.6,627.4 549.35,627.4 550.1,627.4 550.85,627.4 551.6,627.4 552.35,627.4 553.1,627.4 553.85,627.4 554.6,627.4 555.35,627.4 556.1,627.4 556.85,627.4 557.6,627.4 558.35,627.4 559.1,627.4 559.85,627.4 560.6,627.4 561.35,627.4 562.1,627.4 562.85,627.4 563.6,627.4 564.35,627.07 565.1,626.95 565.85,626.75 566.6,626.54 567.35,626.3 568.1,625.99 568.85,625.73 569.6,625.54 570.35,625.15 571.1,624.98 571.85,624.77 572.6,624.76 573.35,624.46 574.1,624.14 574.85,623.06 575.6,621.95 576.35,621.05 577.1,619.78 577.85,618.48 578.6,617.68 579.35,617.13 580.1,616.74 580.85,616.56 581.6,615.89 582.35,614.53 583.1,613.03 583.85,611.34 584.6,610.11 585.35,609.58 586.1,609.52 586.85,609.35 587.6,609.05 588.35,608.5 589.1,608.14 589.85,608.09 590.6,608.26 591.35,608.89 592.1,609.86 592.85,610.61 593.6,611.64 594.35,612.49 595.1,613.01 595.85,613.3 596.6,613.55 597.35,613.87 598.1,614.29 598.85,614.87 599.6,615.38 600.35,616.37 601.1,617.22 601.85,617.99 602.6,618.37 603.35,618.38 604.1,618.39 604.85,618.32 605.6,618.41 606.35,618.57 607.1,618.77 607.85,618.68 608.6,618.7 609.35,618.44 610.1,618.18 610.85,618.06 611.6,618.1 612.35,618.21 613.1,618.5 613.85,618.55 614.6,618.87 615.35,619.14 616.1,619.05 616.85,619.13 617.6,619.27 618.35,619.33 619.1,619.25 619.85,619.55 620.6,619.5 621.35,619.62 622.1,619.65 622.85,619.89 623.6,619.9 624.35,620.05 625.1,620.4 625.85,620.81 626.6,621.1 627.35,621.39 628.1,621.86 628.85,621.99 629.6,622.21 630.35,622.23 631.1,622.52 631.85,622.57 632.6,622.65 633.35,622.7 634.1,623 634.85,623.29 635.6,623.51 636.35,624.05 637.1,624.45 637.85,624.89 638.6,625.12 639.35,625.43 640.1,625.66 640.85,625.79 641.6,625.85 642.35,625.9 643.1,626 643.85,626.1 644.6,626.29 645.35,626.4 646.1,626.55 646.85,626.66 647.6,626.77 648.35,626.85 649.1,627.4 649.1,627.4" stroke="none" stroke-width="0" fill="rgb(249,3,3)" fill-opacity="0.337"/>
<polyline points="521.6,627.4 522.35,627.4 523.1,627.4 523.85,627.4 524.6,627.4 525.35,627.4 526.1,627.4 526.85,627.4 527.6,627.4 528.35,627.4 529.1,627.4 529.85,627.4 530.6,627.4 531.35,627.4 532.1,627.4 532.85,627.4 533.6,627.4 534.35,627.4 535.1,627.4 535.85,627.4 536.6,627.4 537.35,627.4 538.1,627.4 538.85,627.4 539.6,627.4 540.35,627.4 541.1,627.4 541.85,627.4 542.6,627.4 543.35,627.4 544.1,627.4 544.85,627.4 545.6,627.4 546.35,627.4 547.1,627.4 547.85,627.4 548.6,627.4 549.35,627.4 550.1,627.4 550.85,627.4 551.6,627.4 552.35,627.4 553.1,627.4 553.85,627.4 554.6,627.4 555.35,627.4 556.1,627.4 556.85,627.4 557.6,627.4 558.35,627.4 559.1,627.4 559.85,627.4 560.6,627.4 561.35,627.4 562.1,627.4 562.85,627.4 563.6,627.4 564.35,627.07 565.1,626.95 565.85,626.75 566.6,626.54 567.35,626.3 568.1,625.99 568.85,625.73 569.6,625.54 570.35,625.15 571.1,624.98 571.85,624.77 572.6,624.76 573.35,624.46 574.1,624.14 574.85,623.06 575.6,621.95 576.35,621.05 577.1,619.78 577.85,618.48 578.6,617.68 579.35,617.13 580.1,616.74 580.85,616.56 581.6,615.89 582.35,614.53 583.1,613.03 583.85,611.34 584.6,610.11 585.35,609.58 586.1,609.52 586.85,609.35 587.6,609.05 588.35,608.5 589.1,608.14 589.85,608.09 590.6,608.26 591.35,608.89 592.1,609.86 592.85,610.61 593.6,611.64 594.35,612.49 595.1,613.01 595.85,613.3 596.6,613.55 597.35,613.87 598.1,614.29 598.85,614.87 599.6,615.38 600.35,616.37 601.1,617.22 601.85,617.99 602.6,618.37 603.35,618.38 604.1,618.39 604.85,618.32 605.6,618.41 606.35,618.57 607.1,618.77 607.85,618.68 608.6,618.7 609.35,618.44 610.1,618.18 610.85,618.06 611.6,618.1 612.35,618.21 613.1,618.5 613.85,618.55 614.6,618.87 615.35,619.14 616.1,619.05 616.85,619.13 617.6,619.27 618.35,619.33 619.1,619.25 619.85,619.55 620.6,619.5 621.35,619.62 622.1,619.65 622.85,619.89 623.6,619.9 624.35,620.05 625.1,620.4 625.85,620.81 626.6,621.1 627.35,621.39 628.1,621.86 628.85,621.99 629.6,622.21 630.35,622.23 631.1,622.52 631.85,622.57 632.6,622.65 633.35,622.7 634.1,623 634.85,623.29 635.6,623.51 636.35,624.05 637.1,624.45 637.85,624.89 638.6,625.12 639.35,625.43 640.1,625.66 640.85,625.79 641.6,625.85 642.35,625.9 643.1,626 643.85,626.1 644.6,626.29 645.35,626.4 646.1,626.55 646.85,626.66 647.6,626.77 648.35,626.85 649.1,627.4" stroke="#f04848" stroke-width="0.65" fill="none" />
<polygon points="521.6,643.65 521.6,643.65 522.35,643.65 523.1,643.65 523.85,643.65 524.6,643.65 525.35,643.65 526.1,643.65 526.85,643.65 527.6,643.65 528.35,643.65 529.1,643.65 529.85,643.65 530.6,643.65 531.35,643.65 532.1,643.65 532.85,643.65 533.6,643.65 534.35,643.65 535.1,643.65 535.85,643.65 536.6,643.65 537.35,643.65 538.1,643.65 538.85,643.65 539.6,643.65 540.35,643.65 541.1,643.65 541.85,643.65 542.6,643.65 543.35,643.65 544.1,643.65 544.85,643.65 545.6,643.65 546.35,643.65 547.1,643.65 547.85,643.65 548.6,643.65 549.35,643.65 550.1,643.65 550.85,643.65 551.6,643.65 552.35,643.65 553.1,643.65 553.85,643.65 554.6,643.65 555.35,643.65 556.1,643.35 556.85,643.31 557.6,643.24 558.35,643.11 559.1,642.99 559.85,642.85 560.6,642.68 561.35,642.48 562.1,642.33 562.85,642.09 563.6,641.84 564.35,641.71 565.1,641.48 565.85,641.21 566.6,640.88 567.35,640.66 568.1,640.5 568.85,640.47 569.6,640.49 570.35,640.43 571.1,640.5 571.85,640.28 572.6,639.99 573.35,639.55 574.1,639.04 574.85,638.58 575.6,638.11 576.35,637.42 577.1,636.68 577.85,636.12 578.6,635.53 579.35,635.21 580.1,635.06 580.85,635.14 581.6,635.39 582.35,635.05 583.1,634.28 583.85,633.43 584.6,632.26 585.35,631.26 586.1,630.8 586.85,630.5 587.6,630.22 588.35,629.83 589.1,629.2 589.85,628.55 590.6,628.21 591.35,627.61 592.1,627.43 592.85,627.63 593.6,628.22 594.35,629.04 595.1,630.14 595.85,631.32 596.6,632.08 597.35,632.67 598.1,632.85 598.85,632.87 599.6,632.62 600.35,632.4 601.1,632.04 601.85,631.81 602.6,631.44 603.35,630.94 604.1,630.95 604.85,630.76 605.6,630.5 606.35,630.52 607.1,630.44 607.85,630.1 608.6,629.85 609.35,629.84 610.1,629.57 610.85,629.57 611.6,629.4 612.35,629.4 613.1,629.01 613.85,628.83 614.6,629.09 615.35,629.48 616.1,630.06 616.85,630.58 617.6,631.33 618.35,631.69 619.1,632.05 619.85,632.04 620.6,632.38 621.35,632.15 622.1,632.41 622.85,632.78 623.6,633.16 624.35,633.45 625.1,633.94 625.85,634.26 626.6,634.59 627.35,634.98 628.1,635.31 628.85,635.74 629.6,636.05 630.35,636.16 631.1,636.49 631.85,636.8 632.6,637.14 633.35,637.49 634.1,637.77 634.85,638.23 635.6,638.5 636.35,639.03 637.1,639.32 637.85,639.7 638.6,639.86 639.35,640.21 640.1,640.04 640.85,640.16 641.6,640.47 642.35,640.76 643.1,640.96 643.85,641.29 644.6,641.75 645.35,642.04 646.1,642.38 646.85,642.7 647.6,642.97 648.35,643.11 649.1,643.65 649.1,643.65" stroke="none" stroke-width="0" fill="rgb(0,190,245)" fill-opacity="0.42"/>
<polyline points="521.6,643.65 522.35,643.65 523.1,643.65 523.85,643.65 524.6,643.65 525.35,643.65 526.1,643.65 526.85,643.65 527.6,643.65 528.35,643.65 529.1,643.65 529.85,643.65 530.6,643.65 531.35,643.65 532.1,643.65 532.85,643.65 533.6,643.65 534.35,643.65 535.1,643.65 535.85,643.65 536.6,643.65 537.35,643.65 538.1,643.65 538.85,643.65 539.6,643.65 540.35,643.65 541.1,643.65 541.85,643.65 542.6,643.65 543.35,643.65 544.1,643.65 544.85,643.65 545.6,643.65 546.35,643.65 547.1,643.65 547.85,643.65 548.6,643.65 549.35,643.65 550.1,643.65 550.85,643.65 551.6,643.65 552.35,643.65 553.1,643.65 553.85,643.65 554.6,643.65 555.35,643.65 556.1,643.35 556.85,643.31 557.6,643.24 558.35,643.11 559.1,642.99 559.85,642.85 560.6,642.68 561.35,642.48 562.1,642.33 562.85,642.09 563.6,641.84 564.35,641.71 565.1,641.48 565.85,641.21 566.6,640.88 567.35,640.66 568.1,640.5 568.85,640.47 569.6,640.49 570.35,640.43 571.1,640.5 571.85,640.28 572.6,639.99 573.35,639.55 574.1,639.04 574.85,638.58 575.6,638.11 576.35,637.42 577.1,636.68 577.85,636.12 578.6,635.53 579.35,635.21 580.1,635.06 580.85,635.14 581.6,635.39 582.35,635.05 583.1,634.28 583.85,633.43 584.6,632.26 585.35,631.26 586.1,630.8 586.85,630.5 587.6,630.22 588.35,629.83 589.1,629.2 589.85,628.55 590.6,628.21 591.35,627.61 592.1,627.43 592.85,627.63 593.6,628.22 594.35,629.04 595.1,630.14 595.85,631.32 596.6,632.08 597.35,632.67 598.1,632.85 598.85,632.87 599.6,632.62 600.35,632.4 601.1,632.04 601.85,631.81 602.6,631.44 603.35,630.94 604.1,630.95 604.85,630.76 605.6,630.5 606.35,630.52 607.1,630.44 607.85,630.1 608.6,629.85 609.35,629.84 610.1,629.57 610.85,629.57 611.6,629.4 612.35,629.4 613.1,629.01 613.85,628.83 614.6,629.09 615.35,629.48 616.1,630.06 616.85,630.58 617.6,631.33 618.35,631.69 619.1,632.05 619.85,632.04 620.6,632.38 621.35,632.15 622.1,632.41 622.85,632.78 623.6,633.16 624.35,633.45 625.1,633.94 625.85,634.26 626.6,634.59 627.35,634.98 628.1,635.31 628.85,635.74 629.6,636.05 630.35,636.16 631.1,636.49 631.85,636.8 632.6,637.14 633.35,637.49 634.1,637.77 634.85,638.23 635.6,638.5 636.35,639.03 637.1,639.32 637.85,639.7 638.6,639.86 639.35,640.21 640.1,640.04 640.85,640.16 641.6,640.47 642.35,640.76 643.1,640.96 643.85,641.29 644.6,641.75 645.35,642.04 646.1,642.38 646.85,642.7 647.6,642.97 648.35,643.11 649.1,643.65" stroke="#30c0f0" stroke-width="0.65" fill="none" />
<polygon points="521.6,659.9 521.6,659.9 522.35,659.9 523.1,659.9 523.85,659.9 524.6,659.9 525.35,659.9 526.1,659.9 526.85,659.9 527.6,659.9 528.35,659.9 529.1,659.9 529.85,659.9 530.6,659.9 531.35,659.9 532.1,659.9 532.85,659.9 533.6,659.9 534.35,659.9 535.1,659.9 535.85,659.9 536.6,659.9 537.35,659.9 538.1,659.9 538.85,659.9 539.6,659.9 540.35,659.9 541.1,659.9 541.85,659.9 542.6,659.9 543.35,659.9 544.1,659.9 544.85,659.9 545.6,659.9 546.35,659.9 547.1,659.9 547.85,659.9 548.6,659.9 549.35,659.9 550.1,659.9 550.85,659.9 551.6,659.9 552.35,659.9 553.1,659.9 553.85,659.9 554.6,659.9 555.35,659.9 556.1,659.9 556.85,659.9 557.6,659.9 558.35,659.9 559.1,659.9 559.85,659.9 560.6,659.9 561.35,659.9 562.1,659.9 562.85,659.9 563.6,659.9 564.35,659.9 565.1,659.9 565.85,659.9 566.6,659.6 567.35,659.52 568.1,659.38 568.85,659.19 569.6,658.99 570.35,658.76 571.1,658.52 571.85,658.29 572.6,658.21 573.35,657.99 574.1,657.94 574.85,657.8 575.6,657.62 576.35,657.2 577.1,656.93 577.85,656.67 578.6,656.37 579.35,655.69 580.1,655.46 580.85,655.12 581.6,654.78 582.35,654.25 583.1,654.3 583.85,654.12 584.6,653.81 585.35,652.8 586.1,651.67 586.85,650.16 587.6,648.68 588.35,647.75 589.1,647.21 589.85,647.04 590.6,646.96 591.35,647.22 592.1,647.42 592.85,647.95 593.6,648.39 594.35,648.78 595.1,649.26 595.85,649.78 596.6,649.91 597.35,650.22 598.1,650.3 598.85,649.98 599.6,649.38 600.35,648.71 601.1,647.92 601.85,647.18 602.6,646.49 603.35,645.82 604.1,645.59 604.85,645.42 605.6,645.63 606.35,645.74 607.1,645.74 607.85,645.76 608.6,645.79 609.35,645.64 610.1,645.55 610.85,645.67 611.6,645.5 612.35,645.46 613.1,645.52 613.85,645.32 614.6,644.98 615.35,644.96 616.1,645.11 616.85,645.06 617.6,645.43 618.35,645.9 619.1,646.32 619.85,646.74 620.6,647.32 621.35,647.92 622.1,648.25 622.85,648.49 623.6,648.91 624.35,648.92 625.1,648.65 625.85,648.88 626.6,649.02 627.35,649.3 628.1,649.79 628.85,650.36 629.6,650.91 630.35,651.69 631.1,652.28 631.85,652.83 632.6,653.47 633.35,653.83 634.1,653.99 634.85,654.1 635.6,654.18 636.35,654.38 637.1,654.5 637.85,654.72 638.6,655.02 639.35,655.46 640.1,655.66 640.85,656.16 641.6,656.58 642.35,656.9 643.1,657.3 643.85,657.77 644.6,658.13 645.35,658.5 646.1,658.79 646.85,658.97 647.6,659.08 648.35,659.16 649.1,659.9 649.1,659.9" stroke="none" stroke-width="0" fill="rgb(250,110,0)" fill-opacity="0.38"/>
<polyline points="521.6,659.9 522.35,659.9 523.1,659.9 523.85,659.9 524.6,659.9 525.35,659.9 526.1,659.9 526.85,659.9 527.6,659.9 528.35,659.9 529.1,659.9 529.85,659.9 530.6,659.9 531.35,659.9 532.1,659.9 532.85,659.9 533.6,659.9 534.35,659.9 535.1,659.9 535.85,659.9 536.6,659.9 537.35,659.9 538.1,659.9 538.85,659.9 539.6,659.9 540.35,659.9 541.1,659.9 541.85,659.9 542.6,659.9 543.35,659.9 544.1,659.9 544.85,659.9 545.6,659.9 546.35,659.9 547.1,659.9 547.85,659.9 548.6,659.9 549.35,659.9 550.1,659.9 550.85,659.9 551.6,659.9 552.35,659.9 553.1,659.9 553.85,659.9 554.6,659.9 555.35,659.9 556.1,659.9 556.85,659.9 557.6,659.9 558.35,659.9 559.1,659.9 559.85,659.9 560.6,659.9 561.35,659.9 562.1,659.9 562.85,659.9 563.6,659.9 564.35,659.9 565.1,659.9 565.85,659.9 566.6,659.6 567.35,659.52 568.1,659.38 568.85,659.19 569.6,658.99 570.35,658.76 571.1,658.52 571.85,658.29 572.6,658.21 573.35,657.99 574.1,657.94 574.85,657.8 575.6,657.62 576.35,657.2 577.1,656.93 577.85,656.67 578.6,656.37 579.35,655.69 580.1,655.46 580.85,655.12 581.6,654.78 582.35,654.25 583.1,654.3 583.85,654.12 584.6,653.81 585.35,652.8 586.1,651.67 586.85,650.16 587.6,648.68 588.35,647.75 589.1,647.21 589.85,647.04 590.6,646.96 591.35,647.22 592.1,647.42 592.85,647.95 593.6,648.39 594.35,648.78 595.1,649.26 595.85,649.78 596.6,649.91 597.35,650.22 598.1,650.3 598.85,649.98 599.6,649.38 600.35,648.71 601.1,647.92 601.85,647.18 602.6,646.49 603.35,645.82 604.1,645.59 604.85,645.42 605.6,645.63 606.35,645.74 607.1,645.74 607.85,645.76 608.6,645.79 609.35,645.64 610.1,645.55 610.85,645.67 611.6,645.5 612.35,645.46 613.1,645.52 613.85,645.32 614.6,644.98 615.35,644.96 616.1,645.11 616.85,645.06 617.6,645.43 618.35,645.9 619.1,646.32 619.85,646.74 620.6,647.32 621.35,647.92 622.1,648.25 622.85,648.49 623.6,648.91 624.35,648.92 625.1,648.65 625.85,648.88 626.6,649.02 627.35,649.3 628.1,649.79 628.85,650.36 629.6,650.91 630.35,651.69 631.1,652.28 631.85,652.83 632.6,653.47 633.35,653.83 634.1,653.99 634.85,654.1 635.6,654.18 636.35,654.38 637.1,654.5 637.85,654.72 638.6,655.02 639.35,655.46 640.1,655.66 640.85,656.16 641.6,656.58 642.35,656.9 643.1,657.3 643.85,657.77 644.6,658.13 645.35,658.5 646.1,658.79 646.85,658.97 647.6,659.08 648.35,659.16 649.1,659.9" stroke="#f0a050" stroke-width="0.65" fill="none" />
<polygon points="521.6,676.15 521.6,676.15 522.35,676.15 523.1,676.15 523.85,676.15 524.6,676.15 525.35,676.15 526.1,676.15 526.85,676.15 527.6,676.15 528.35,676.15 529.1,676.15 529.85,676.15 530.6,676.15 531.35,676.15 532.1,676.15 532.85,676.15 533.6,676.15 534.35,676.15 535.1,676.15 535.85,676.15 536.6,676.15 537.35,676.15 538.1,676.15 538.85,676.15 539.6,676.15 540.35,676.15 541.1,676.15 541.85,676.15 542.6,676.15 543.35,676.15 544.1,676.15 544.85,676.15 545.6,676.15 546.35,676.15 547.1,676.15 547.85,676.15 548.6,676.15 549.35,676.15 550.1,676.15 550.85,676.15 551.6,676.15 552.35,676.15 553.1,676.15 553.85,676.15 554.6,676.15 555.35,676.15 556.1,676.15 556.85,676.15 557.6,676.15 558.35,676.15 559.1,676.15 559.85,676.15 560.6,676.15 561.35,676.15 562.1,675.84 562.85,675.75 563.6,675.63 564.35,675.51 565.1,675.36 565.85,675.21 566.6,675.16 567.35,675.12 568.1,675.06 568.85,674.99 569.6,674.87 570.35,674.64 571.1,674.31 571.85,673.94 572.6,673.66 573.35,673.19 574.1,672.75 574.85,672.46 575.6,672.16 576.35,671.66 577.1,671.27 577.85,670.92 578.6,670.87 579.35,670.76 580.1,670.68 580.85,670.15 581.6,669.57 582.35,668.45 583.1,667.31 583.85,666.29 584.6,665.71 585.35,664.86 586.1,664.54 586.85,664.47 587.6,664.74 588.35,664.82 589.1,665.21 589.85,665.66 590.6,666.21 591.35,666.38 592.1,666.87 592.85,667.38 593.6,667.81 594.35,668.32 595.1,668.75 595.85,668.93 596.6,669.02 597.35,669.01 598.1,668.68 598.85,668.47 599.6,668.52 600.35,668.57 601.1,668.24 601.85,668.04 602.6,667.85 603.35,667.64 604.1,667.17 604.85,667.27 605.6,667.38 606.35,667.36 607.1,667.12 607.85,667.29 608.6,666.66 609.35,666.06 610.1,665.39 610.85,664.73 611.6,663.63 612.35,662.93 613.1,662.28 613.85,661.64 614.6,661.35 615.35,661.33 616.1,661.56 616.85,661.74 617.6,662.19 618.35,662.47 619.1,663.07 619.85,663.19 620.6,663.18 621.35,663.27 622.1,663.34 622.85,663.08 623.6,663.34 624.35,663.87 625.1,664.39 625.85,664.72 626.6,665.5 627.35,666.04 628.1,666.53 628.85,666.83 629.6,667.42 630.35,667.73 631.1,668.11 631.85,668.35 632.6,668.73 633.35,668.9 634.1,669.08 634.85,669.31 635.6,669.77 636.35,670.29 637.1,670.91 637.85,671.39 638.6,671.99 639.35,672.36 640.1,672.81 640.85,673.26 641.6,673.65 642.35,673.97 643.1,674.16 643.85,674.32 644.6,674.54 645.35,674.87 646.1,675.02 646.85,675.25 647.6,675.45 648.35,675.59 649.1,676.15 649.1,676.15" stroke="none" stroke-width="0" fill="rgb(40,240,10)" fill-opacity="0.35"/>
<polyline points="521.6,676.15 522.35,676.15 523.1,676.15 523.85,676.15 524.6,676.15 525.35,676.15 526.1,676.15 526.85,676.15 527.6,676.15 528.35,676.15 529.1,676.15 529.85,676.15 530.6,676.15 531.35,676.15 532.1,676.15 532.85,676.15 533.6,676.15 534.35,676.15 535.1,676.15 535.85,676.15 536.6,676.15 537.35,676.15 538.1,676.15 538.85,676.15 539.6,676.15 540.35,676.15 541.1,676.15 541.85,676.15 542.6,676.15 543.35,676.15 544.1,676.15 544.85,676.15 545.6,676.15 546.35,676.15 547.1,676.15 547.85,676.15 548.6,676.15 549.35,676.15 550.1,676.15 550.85,676.15 551.6,676.15 552.35,676.15 553.1,676.15 553.85,676.15 554.6,676.15 555.35,676.15 556.1,676.15 556.85,676.15 557.6,676.15 558.35,676.15 559.1,676.15 559.85,676.15 560.6,676.15 561.35,676.15 562.1,675.84 562.85,675.75 563.6,675.63 564.35,675.51 565.1,675.36 565.85,675.21 566.6,675.16 567.35,675.12 568.1,675.06 568.85,674.99 569.6,674.87 570.35,674.64 571.1,674.31 571.85,673.94 572.6,673.66 573.35,673.19 574.1,672.75 574.85,672.46 575.6,672.16 576.35,671.66 577.1,671.27 577.85,670.92 578.6,670.87 579.35,670.76 580.1,670.68 580.85,670.15 581.6,669.57 582.35,668.45 583.1,667.31 583.85,666.29 584.6,665.71 585.35,664.86 586.1,664.54 586.85,664.47 587.6,664.74 588.35,664.82 589.1,665.21 589.85,665.66 590.6,666.21 591.35,666.38 592.1,666.87 592.85,667.38 593.6,667.81 594.35,668.32 595.1,668.75 595.85,668.93 596.6,669.02 597.35,669.01 598.1,668.68 598.85,668.47 599.6,668.52 600.35,668.57 601.1,668.24 601.85,668.04 602.6,667.85 603.35,667.64 604.1,667.17 604.85,667.27 605.6,667.38 606.35,667.36 607.1,667.12 607.85,667.29 608.6,666.66 609.35,666.06 610.1,665.39 610.85,664.73 611.6,663.63 612.35,662.93 613.1,662.28 613.85,661.64 614.6,661.35 615.35,661.33 616.1,661.56 616.85,661.74 617.6,662.19 618.35,662.47 619.1,663.07 619.85,663.19 620.6,663.18 621.35,663.27 622.1,663.34 622.85,663.08 623.6,663.34 624.35,663.87 625.1,664.39 625.85,664.72 626.6,665.5 627.35,666.04 628.1,666.53 628.85,666.83 629.6,667.42 630.35,667.73 631.1,668.11 631.85,668.35 632.6,668.73 633.35,668.9 634.1,669.08 634.85,669.31 635.6,669.77 636.35,670.29 637.1,670.91 637.85,671.39 638.6,671.99 639.35,672.36 640.1,672.81 640.85,673.26 641.6,673.65 642.35,673.97 643.1,674.16 643.85,674.32 644.6,674.54 645.35,674.87 646.1,675.02 646.85,675.25 647.6,675.45 648.35,675.59 649.1,676.15" stroke="#60e040" stroke-width="0.65" fill="none" />
<polygon points="521.6,692.4 521.6,692.4 522.35,692.4 523.1,692.4 523.85,692.4 524.6,692.4 525.35,692.4 526.1,692.4 526.85,692.4 527.6,692.4 528.35,692.4 529.1,692.4 529.85,692.4 530.6,692.4 531.35,692.4 532.1,692.4 532.85,692.4 533.6,692.4 534.35,692.4 535.1,692.4 535.85,692.4 536.6,692.4 537.35,692.4 538.1,692.4 538.85,692.4 539.6,692.4 540.35,692.4 541.1,692.4 541.85,692.4 542.6,692.4 543.35,692.4 544.1,692.4 544.85,692.4 545.6,692.4 546.35,692.4 547.1,692.4 547.85,692.4 548.6,692.4 549.35,692.4 550.1,692.4 550.85,692.4 551.6,692.4 552.35,692.4 553.1,692.4 553.85,692.4 554.6,692.4 555.35,692.4 556.1,692.4 556.85,692.4 557.6,692.4 558.35,692.4 559.1,692.4 559.85,692.4 560.6,692.4 561.35,692.4 562.1,692.1 562.85,692.05 563.6,691.94 564.35,691.82 565.1,691.64 565.85,691.49 566.6,691.32 567.35,691.22 568.1,691.12 568.85,691.14 569.6,691.12 570.35,691.02 571.1,690.78 571.85,690.47 572.6,690.18 573.35,689.62 574.1,689.19 574.85,688.77 575.6,688.31 576.35,687.9 577.1,687.81 577.85,687.5 578.6,687.26 579.35,687.44 580.1,687.29 580.85,686.99 581.6,686.91 582.35,686.36 583.1,685.7 583.85,685.06 584.6,684.54 585.35,683.95 586.1,683.81 586.85,683.41 587.6,683.29 588.35,683.19 589.1,682.96 589.85,682.85 590.6,683.22 591.35,683.29 592.1,683.52 592.85,683.86 593.6,684.31 594.35,684.71 595.1,685.23 595.85,685.56 596.6,685.87 597.35,686.02 598.1,685.96 598.85,685.91 599.6,685.61 600.35,685.21 601.1,684.57 601.85,683.97 602.6,683.43 603.35,682.97 604.1,682.42 604.85,682.1 605.6,681.51 606.35,681.14 607.1,680.7 607.85,680.83 608.6,680.45 609.35,680.46 610.1,680.2 610.85,680.03 611.6,679.55 612.35,679.28 613.1,678.72 613.85,678.2 614.6,677.98 615.35,677.57 616.1,677.37 616.85,677.21 617.6,677.29 618.35,676.95 619.1,676.98 619.85,676.93 620.6,676.72 621.35,676.41 622.1,676.45 622.85,676.24 623.6,675.99 624.35,676.09 625.1,676.09 625.85,676.18 626.6,676.5 627.35,676.95 628.1,677.65 628.85,678.5 629.6,679.16 630.35,679.83 631.1,680.41 631.85,680.75 632.6,680.91 633.35,681.25 634.1,681.68 634.85,682.35 635.6,682.81 636.35,683.51 637.1,684.05 637.85,684.96 638.6,685.78 639.35,686.68 640.1,687.44 640.85,688.15 641.6,688.3 642.35,688.51 643.1,688.66 643.85,688.74 644.6,689.14 645.35,689.71 646.1,690.38 646.85,690.88 647.6,691.39 648.35,691.76 649.1,692.4 649.1,692.4" stroke="none" stroke-width="0" fill="rgb(65,110,25)" fill-opacity="0.5"/>
<polyline points="521.6,692.4 522.35,692.4 523.1,692.4 523.85,692.4 524.6,692.4 525.35,692.4 526.1,692.4 526.85,692.4 527.6,692.4 528.35,692.4 529.1,692.4 529.85,692.4 530.6,692.4 531.35,692.4 532.1,692.4 532.85,692.4 533.6,692.4 534.35,692.4 535.1,692.4 535.85,692.4 536.6,692.4 537.35,692.4 538.1,692.4 538.85,692.4 539.6,692.4 540.35,692.4 541.1,692.4 541.85,692.4 542.6,692.4 543.35,692.4 544.1,692.4 544.85,692.4 545.6,692.4 546.35,692.4 547.1,692.4 547.85,692.4 548.6,692.4 549.35,692.4 550.1,692.4 550.85,692.4 551.6,692.4 552.35,692.4 553.1,692.4 553.85,692.4 554.6,692.4 555.35,692.4 556.1,692.4 556.85,692.4 557.6,692.4 558.35,692.4 559.1,692.4 559.85,692.4 560.6,692.4 561.35,692.4 562.1,692.1 562.85,692.05 563.6,691.94 564.35,691.82 565.1,691.64 565.85,691.49 566.6,691.32 567.35,691.22 568.1,691.12 568.85,691.14 569.6,691.12 570.35,691.02 571.1,690.78 571.85,690.47 572.6,690.18 573.35,689.62 574.1,689.19 574.85,688.77 575.6,688.31 576.35,687.9 577.1,687.81 577.85,687.5 578.6,687.26 579.35,687.44 580.1,687.29 580.85,686.99 581.6,686.91 582.35,686.36 583.1,685.7 583.85,685.06 584.6,684.54 585.35,683.95 586.1,683.81 586.85,683.41 587.6,683.29 588.35,683.19 589.1,682.96 589.85,682.85 590.6,683.22 591.35,683.29 592.1,683.52 592.85,683.86 593.6,684.31 594.35,684.71 595.1,685.23 595.85,685.56 596.6,685.87 597.35,686.02 598.1,685.96 598.85,685.91 599.6,685.61 600.35,685.21 601.1,684.57 601.85,683.97 602.6,683.43 603.35,682.97 604.1,682.42 604.85,682.1 605.6,681.51 606.35,681.14 607.1,680.7 607.85,680.83 608.6,680.45 609.35,680.46 610.1,680.2 610.85,680.03 611.6,679.55 612.35,679.28 613.1,678.72 613.85,678.2 614.6,677.98 615.35,677.57 616.1,677.37 616.85,677.21 617.6,677.29 618.35,676.95 619.1,676.98 619.85,676.93 620.6,676.72 621.35,676.41 622.1,676.45 622.85,676.24 623.6,675.99 624.35,676.09 625.1,676.09 625.85,676.18 626.6,676.5 627.35,676.95 628.1,677.65 628.85,678.5 629.6,679.16 630.35,679.83 631.1,680.41 631.85,680.75 632.6,680.91 633.35,681.25 634.1,681.68 634.85,682.35 635.6,682.81 636.35,683.51 637.1,684.05 637.85,684.96 638.6,685.78 639.35,686.68 640.1,687.44 640.85,688.15 641.6,688.3 642.35,688.51 643.1,688.66 643.85,688.74 644.6,689.14 645.35,689.71 646.1,690.38 646.85,690.88 647.6,691.39 648.35,691.76 649.1,692.4" stroke="#4a6a2a" stroke-width="0.65" fill="none" />
<line x1="521.6" y1="693.1" x2="649.1" y2="693.1" stroke="#222" stroke-width="0.7" />
<line x1="528.6" y1="693.1" x2="528.6" y2="695.4" stroke="#222" stroke-width="0.6" />
<line x1="533.72" y1="693.1" x2="533.72" y2="694.5" stroke="#222" stroke-width="0.45" />
<line x1="536.71" y1="693.1" x2="536.71" y2="694.5" stroke="#222" stroke-width="0.45" />
<line x1="538.84" y1="693.1" x2="538.84" y2="694.5" stroke="#222" stroke-width="0.45" />
<line x1="540.48" y1="693.1" x2="540.48" y2="694.5" stroke="#222" stroke-width="0.45" />
<line x1="541.83" y1="693.1" x2="541.83" y2="694.5" stroke="#222" stroke-width="0.45" />
<line x1="542.97" y1="693.1" x2="542.97" y2="694.5" stroke="#222" stroke-width="0.45" />
<line x1="543.95" y1="693.1" x2="543.95" y2="694.5" stroke="#222" stroke-width="0.45" />
<line x1="544.82" y1="693.1" x2="544.82" y2="694.5" stroke="#222" stroke-width="0.45" />
<text x="528.6" y="705.2" font-size="7.1" text-anchor="middle" fill="#222">10<tspan font-size="4.9" dy="-2.8">0</tspan></text>
<line x1="545.6" y1="693.1" x2="545.6" y2="695.4" stroke="#222" stroke-width="0.6" />
<line x1="552.61" y1="693.1" x2="552.61" y2="694.5" stroke="#222" stroke-width="0.45" />
<line x1="556.72" y1="693.1" x2="556.72" y2="694.5" stroke="#222" stroke-width="0.45" />
<line x1="559.63" y1="693.1" x2="559.63" y2="694.5" stroke="#222" stroke-width="0.45" />
<line x1="561.89" y1="693.1" x2="561.89" y2="694.5" stroke="#222" stroke-width="0.45" />
<line x1="563.73" y1="693.1" x2="563.73" y2="694.5" stroke="#222" stroke-width="0.45" />
<line x1="565.29" y1="693.1" x2="565.29" y2="694.5" stroke="#222" stroke-width="0.45" />
<line x1="566.64" y1="693.1" x2="566.64" y2="694.5" stroke="#222" stroke-width="0.45" />
<line x1="567.83" y1="693.1" x2="567.83" y2="694.5" stroke="#222" stroke-width="0.45" />
<text x="545.1" y="705.2" font-size="7.1" text-anchor="middle" fill="#222">10<tspan font-size="4.9" dy="-2.8">1</tspan></text>
<line x1="568.9" y1="693.1" x2="568.9" y2="695.4" stroke="#222" stroke-width="0.6" />
<line x1="576.03" y1="693.1" x2="576.03" y2="694.5" stroke="#222" stroke-width="0.45" />
<line x1="580.21" y1="693.1" x2="580.21" y2="694.5" stroke="#222" stroke-width="0.45" />
<line x1="583.17" y1="693.1" x2="583.17" y2="694.5" stroke="#222" stroke-width="0.45" />
<line x1="585.47" y1="693.1" x2="585.47" y2="694.5" stroke="#222" stroke-width="0.45" />
<line x1="587.34" y1="693.1" x2="587.34" y2="694.5" stroke="#222" stroke-width="0.45" />
<line x1="588.93" y1="693.1" x2="588.93" y2="694.5" stroke="#222" stroke-width="0.45" />
<line x1="590.3" y1="693.1" x2="590.3" y2="694.5" stroke="#222" stroke-width="0.45" />
<line x1="591.52" y1="693.1" x2="591.52" y2="694.5" stroke="#222" stroke-width="0.45" />
<text x="568.4" y="705.2" font-size="7.1" text-anchor="middle" fill="#222">10<tspan font-size="4.9" dy="-2.8">2</tspan></text>
<line x1="592.6" y1="693.1" x2="592.6" y2="695.4" stroke="#222" stroke-width="0.6" />
<line x1="599.82" y1="693.1" x2="599.82" y2="694.5" stroke="#222" stroke-width="0.45" />
<line x1="604.05" y1="693.1" x2="604.05" y2="694.5" stroke="#222" stroke-width="0.45" />
<line x1="607.05" y1="693.1" x2="607.05" y2="694.5" stroke="#222" stroke-width="0.45" />
<line x1="609.38" y1="693.1" x2="609.38" y2="694.5" stroke="#222" stroke-width="0.45" />
<line x1="611.28" y1="693.1" x2="611.28" y2="694.5" stroke="#222" stroke-width="0.45" />
<line x1="612.88" y1="693.1" x2="612.88" y2="694.5" stroke="#222" stroke-width="0.45" />
<line x1="614.27" y1="693.1" x2="614.27" y2="694.5" stroke="#222" stroke-width="0.45" />
<line x1="615.5" y1="693.1" x2="615.5" y2="694.5" stroke="#222" stroke-width="0.45" />
<text x="592.1" y="705.2" font-size="7.1" text-anchor="middle" fill="#222">10<tspan font-size="4.9" dy="-2.8">3</tspan></text>
<line x1="616.6" y1="693.1" x2="616.6" y2="695.4" stroke="#222" stroke-width="0.6" />
<line x1="623.82" y1="693.1" x2="623.82" y2="694.5" stroke="#222" stroke-width="0.45" />
<line x1="628.05" y1="693.1" x2="628.05" y2="694.5" stroke="#222" stroke-width="0.45" />
<line x1="631.05" y1="693.1" x2="631.05" y2="694.5" stroke="#222" stroke-width="0.45" />
<line x1="633.38" y1="693.1" x2="633.38" y2="694.5" stroke="#222" stroke-width="0.45" />
<line x1="635.28" y1="693.1" x2="635.28" y2="694.5" stroke="#222" stroke-width="0.45" />
<line x1="636.88" y1="693.1" x2="636.88" y2="694.5" stroke="#222" stroke-width="0.45" />
<line x1="638.27" y1="693.1" x2="638.27" y2="694.5" stroke="#222" stroke-width="0.45" />
<line x1="639.5" y1="693.1" x2="639.5" y2="694.5" stroke="#222" stroke-width="0.45" />
<text x="616.1" y="705.2" font-size="7.1" text-anchor="middle" fill="#222">10<tspan font-size="4.9" dy="-2.8">4</tspan></text>
<line x1="640.6" y1="693.1" x2="640.6" y2="695.4" stroke="#222" stroke-width="0.6" />
<text x="640.1" y="705.2" font-size="7.1" text-anchor="middle" fill="#222">10<tspan font-size="4.9" dy="-2.8">5</tspan></text>
</svg></body></html>
